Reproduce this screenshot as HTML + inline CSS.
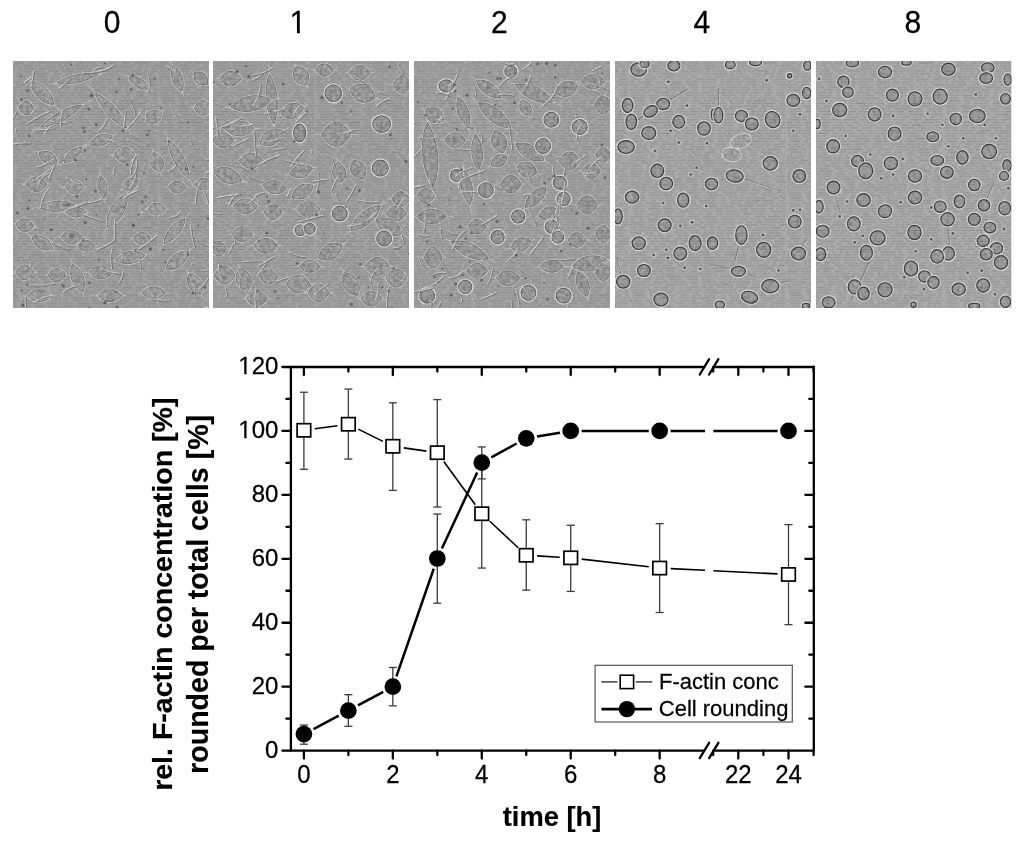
<!DOCTYPE html><html><head><meta charset="utf-8"><style>html,body{margin:0;padding:0;background:#fff;width:1024px;height:842px;overflow:hidden}svg{display:block}text{font-family:"Liberation Sans",Arial,sans-serif;stroke:#000;stroke-width:0.25px}text[font-weight="bold"]{stroke-width:0.15px}</style></head><body>
<svg width="1024" height="842" viewBox="0 0 1024 842">
<defs>
<pattern id="scan" width="157" height="97.2" patternUnits="userSpaceOnUse"><rect x="3.7" y="0.4" width="12.6" height="1.1" fill="#000" fill-opacity="0.16"/><rect x="21.2" y="0.4" width="12.6" height="1.1" fill="#000" fill-opacity="0.16"/><rect x="34.9" y="0.4" width="9.1" height="1.1" fill="#000" fill-opacity="0.17"/><rect x="47.5" y="0.4" width="14.7" height="1.1" fill="#000" fill-opacity="0.11"/><rect x="65.1" y="0.4" width="6.2" height="1.1" fill="#000" fill-opacity="0.14"/><rect x="74.6" y="0.4" width="3.2" height="1.1" fill="#000" fill-opacity="0.12"/><rect x="79.9" y="0.4" width="14.9" height="1.1" fill="#000" fill-opacity="0.15"/><rect x="96.5" y="0.4" width="13.4" height="1.1" fill="#000" fill-opacity="0.11"/><rect x="113.3" y="0.4" width="4.6" height="1.1" fill="#000" fill-opacity="0.10"/><rect x="122.4" y="0.4" width="5.7" height="1.1" fill="#000" fill-opacity="0.12"/><rect x="133.1" y="0.4" width="14.3" height="1.1" fill="#000" fill-opacity="0.12"/><rect x="152.3" y="0.4" width="4.7" height="1.1" fill="#000" fill-opacity="0.15"/><rect x="5.6" y="3.1" width="12.0" height="1.1" fill="#000" fill-opacity="0.17"/><rect x="22.2" y="3.1" width="6.9" height="1.1" fill="#000" fill-opacity="0.13"/><rect x="30.7" y="3.1" width="4.9" height="1.1" fill="#000" fill-opacity="0.10"/><rect x="37.8" y="3.1" width="10.8" height="1.1" fill="#000" fill-opacity="0.10"/><rect x="52.4" y="3.1" width="7.4" height="1.1" fill="#000" fill-opacity="0.12"/><rect x="64.1" y="3.1" width="9.2" height="1.1" fill="#000" fill-opacity="0.12"/><rect x="76.2" y="3.1" width="12.2" height="1.1" fill="#000" fill-opacity="0.10"/><rect x="93.3" y="3.1" width="3.3" height="1.1" fill="#000" fill-opacity="0.15"/><rect x="101.0" y="3.1" width="3.2" height="1.1" fill="#000" fill-opacity="0.16"/><rect x="106.7" y="3.1" width="10.5" height="1.1" fill="#000" fill-opacity="0.10"/><rect x="118.4" y="3.1" width="5.4" height="1.1" fill="#000" fill-opacity="0.17"/><rect x="125.5" y="3.1" width="12.8" height="1.1" fill="#000" fill-opacity="0.17"/><rect x="143.1" y="3.1" width="7.5" height="1.1" fill="#000" fill-opacity="0.12"/><rect x="153.7" y="3.1" width="3.3" height="1.1" fill="#000" fill-opacity="0.11"/><rect x="4.8" y="5.8" width="14.2" height="1.1" fill="#000" fill-opacity="0.10"/><rect x="23.7" y="5.8" width="4.2" height="1.1" fill="#000" fill-opacity="0.12"/><rect x="31.4" y="5.8" width="14.9" height="1.1" fill="#000" fill-opacity="0.12"/><rect x="51.0" y="5.8" width="10.1" height="1.1" fill="#000" fill-opacity="0.12"/><rect x="63.4" y="5.8" width="5.3" height="1.1" fill="#000" fill-opacity="0.11"/><rect x="70.3" y="5.8" width="12.0" height="1.1" fill="#000" fill-opacity="0.17"/><rect x="83.9" y="5.8" width="3.6" height="1.1" fill="#000" fill-opacity="0.17"/><rect x="90.6" y="5.8" width="8.3" height="1.1" fill="#000" fill-opacity="0.12"/><rect x="102.3" y="5.8" width="13.7" height="1.1" fill="#000" fill-opacity="0.13"/><rect x="118.7" y="5.8" width="3.7" height="1.1" fill="#000" fill-opacity="0.16"/><rect x="123.6" y="5.8" width="9.4" height="1.1" fill="#000" fill-opacity="0.16"/><rect x="134.5" y="5.8" width="12.5" height="1.1" fill="#000" fill-opacity="0.17"/><rect x="150.5" y="5.8" width="6.5" height="1.1" fill="#000" fill-opacity="0.11"/><rect x="0.9" y="8.5" width="14.0" height="1.1" fill="#000" fill-opacity="0.12"/><rect x="17.7" y="8.5" width="16.0" height="1.1" fill="#000" fill-opacity="0.16"/><rect x="38.6" y="8.5" width="8.9" height="1.1" fill="#000" fill-opacity="0.13"/><rect x="51.4" y="8.5" width="9.2" height="1.1" fill="#000" fill-opacity="0.12"/><rect x="63.2" y="8.5" width="4.9" height="1.1" fill="#000" fill-opacity="0.13"/><rect x="73.1" y="8.5" width="15.5" height="1.1" fill="#000" fill-opacity="0.14"/><rect x="91.6" y="8.5" width="7.4" height="1.1" fill="#000" fill-opacity="0.11"/><rect x="101.1" y="8.5" width="13.2" height="1.1" fill="#000" fill-opacity="0.16"/><rect x="116.7" y="8.5" width="13.2" height="1.1" fill="#000" fill-opacity="0.15"/><rect x="133.7" y="8.5" width="11.6" height="1.1" fill="#000" fill-opacity="0.15"/><rect x="147.8" y="8.5" width="9.2" height="1.1" fill="#000" fill-opacity="0.12"/><rect x="4.6" y="11.2" width="12.0" height="1.1" fill="#000" fill-opacity="0.12"/><rect x="21.4" y="11.2" width="11.4" height="1.1" fill="#000" fill-opacity="0.14"/><rect x="33.9" y="11.2" width="10.1" height="1.1" fill="#000" fill-opacity="0.12"/><rect x="47.7" y="11.2" width="9.0" height="1.1" fill="#000" fill-opacity="0.16"/><rect x="60.3" y="11.2" width="13.4" height="1.1" fill="#000" fill-opacity="0.12"/><rect x="77.2" y="11.2" width="12.6" height="1.1" fill="#000" fill-opacity="0.16"/><rect x="92.2" y="11.2" width="14.0" height="1.1" fill="#000" fill-opacity="0.16"/><rect x="109.9" y="11.2" width="15.7" height="1.1" fill="#000" fill-opacity="0.17"/><rect x="128.7" y="11.2" width="9.9" height="1.1" fill="#000" fill-opacity="0.11"/><rect x="142.9" y="11.2" width="14.1" height="1.1" fill="#000" fill-opacity="0.13"/><rect x="4.3" y="13.9" width="12.5" height="1.1" fill="#000" fill-opacity="0.11"/><rect x="20.9" y="13.9" width="10.6" height="1.1" fill="#000" fill-opacity="0.15"/><rect x="34.2" y="13.9" width="11.1" height="1.1" fill="#000" fill-opacity="0.15"/><rect x="48.8" y="13.9" width="12.4" height="1.1" fill="#000" fill-opacity="0.10"/><rect x="62.8" y="13.9" width="8.7" height="1.1" fill="#000" fill-opacity="0.15"/><rect x="73.4" y="13.9" width="11.9" height="1.1" fill="#000" fill-opacity="0.14"/><rect x="86.5" y="13.9" width="9.1" height="1.1" fill="#000" fill-opacity="0.12"/><rect x="96.9" y="13.9" width="4.7" height="1.1" fill="#000" fill-opacity="0.12"/><rect x="103.3" y="13.9" width="5.5" height="1.1" fill="#000" fill-opacity="0.10"/><rect x="111.7" y="13.9" width="7.9" height="1.1" fill="#000" fill-opacity="0.14"/><rect x="123.0" y="13.9" width="6.1" height="1.1" fill="#000" fill-opacity="0.16"/><rect x="130.1" y="13.9" width="8.3" height="1.1" fill="#000" fill-opacity="0.12"/><rect x="141.0" y="13.9" width="4.5" height="1.1" fill="#000" fill-opacity="0.16"/><rect x="148.0" y="13.9" width="3.5" height="1.1" fill="#000" fill-opacity="0.14"/><rect x="152.9" y="13.9" width="4.1" height="1.1" fill="#000" fill-opacity="0.12"/><rect x="5.7" y="16.6" width="13.6" height="1.1" fill="#000" fill-opacity="0.13"/><rect x="23.6" y="16.6" width="11.3" height="1.1" fill="#000" fill-opacity="0.13"/><rect x="36.6" y="16.6" width="10.7" height="1.1" fill="#000" fill-opacity="0.14"/><rect x="52.1" y="16.6" width="15.6" height="1.1" fill="#000" fill-opacity="0.14"/><rect x="70.1" y="16.6" width="14.6" height="1.1" fill="#000" fill-opacity="0.10"/><rect x="86.2" y="16.6" width="10.4" height="1.1" fill="#000" fill-opacity="0.14"/><rect x="98.1" y="16.6" width="11.2" height="1.1" fill="#000" fill-opacity="0.16"/><rect x="111.8" y="16.6" width="8.6" height="1.1" fill="#000" fill-opacity="0.12"/><rect x="122.6" y="16.6" width="15.6" height="1.1" fill="#000" fill-opacity="0.13"/><rect x="143.0" y="16.6" width="14.0" height="1.1" fill="#000" fill-opacity="0.14"/><rect x="5.9" y="19.3" width="9.5" height="1.1" fill="#000" fill-opacity="0.13"/><rect x="17.6" y="19.3" width="15.8" height="1.1" fill="#000" fill-opacity="0.13"/><rect x="35.6" y="19.3" width="9.2" height="1.1" fill="#000" fill-opacity="0.11"/><rect x="48.2" y="19.3" width="8.8" height="1.1" fill="#000" fill-opacity="0.12"/><rect x="61.1" y="19.3" width="13.7" height="1.1" fill="#000" fill-opacity="0.10"/><rect x="78.0" y="19.3" width="6.6" height="1.1" fill="#000" fill-opacity="0.17"/><rect x="88.7" y="19.3" width="6.2" height="1.1" fill="#000" fill-opacity="0.12"/><rect x="96.5" y="19.3" width="15.9" height="1.1" fill="#000" fill-opacity="0.12"/><rect x="115.8" y="19.3" width="9.2" height="1.1" fill="#000" fill-opacity="0.15"/><rect x="128.4" y="19.3" width="12.7" height="1.1" fill="#000" fill-opacity="0.11"/><rect x="145.1" y="19.3" width="6.9" height="1.1" fill="#000" fill-opacity="0.14"/><rect x="154.3" y="19.3" width="2.7" height="1.1" fill="#000" fill-opacity="0.14"/><rect x="2.2" y="22.0" width="12.7" height="1.1" fill="#000" fill-opacity="0.14"/><rect x="16.0" y="22.0" width="6.3" height="1.1" fill="#000" fill-opacity="0.13"/><rect x="26.9" y="22.0" width="14.5" height="1.1" fill="#000" fill-opacity="0.14"/><rect x="42.5" y="22.0" width="13.1" height="1.1" fill="#000" fill-opacity="0.13"/><rect x="59.0" y="22.0" width="12.2" height="1.1" fill="#000" fill-opacity="0.14"/><rect x="74.1" y="22.0" width="14.9" height="1.1" fill="#000" fill-opacity="0.13"/><rect x="91.5" y="22.0" width="14.1" height="1.1" fill="#000" fill-opacity="0.11"/><rect x="107.8" y="22.0" width="13.8" height="1.1" fill="#000" fill-opacity="0.10"/><rect x="125.9" y="22.0" width="12.0" height="1.1" fill="#000" fill-opacity="0.13"/><rect x="140.1" y="22.0" width="13.1" height="1.1" fill="#000" fill-opacity="0.16"/><rect x="154.8" y="22.0" width="2.2" height="1.1" fill="#000" fill-opacity="0.14"/><rect x="2.0" y="24.7" width="5.0" height="1.1" fill="#000" fill-opacity="0.14"/><rect x="11.2" y="24.7" width="3.9" height="1.1" fill="#000" fill-opacity="0.12"/><rect x="19.4" y="24.7" width="13.3" height="1.1" fill="#000" fill-opacity="0.15"/><rect x="33.8" y="24.7" width="12.4" height="1.1" fill="#000" fill-opacity="0.17"/><rect x="51.2" y="24.7" width="12.1" height="1.1" fill="#000" fill-opacity="0.10"/><rect x="67.7" y="24.7" width="5.9" height="1.1" fill="#000" fill-opacity="0.15"/><rect x="78.3" y="24.7" width="12.3" height="1.1" fill="#000" fill-opacity="0.11"/><rect x="92.8" y="24.7" width="14.9" height="1.1" fill="#000" fill-opacity="0.11"/><rect x="111.1" y="24.7" width="8.4" height="1.1" fill="#000" fill-opacity="0.11"/><rect x="123.0" y="24.7" width="3.6" height="1.1" fill="#000" fill-opacity="0.11"/><rect x="129.1" y="24.7" width="3.9" height="1.1" fill="#000" fill-opacity="0.10"/><rect x="136.3" y="24.7" width="12.7" height="1.1" fill="#000" fill-opacity="0.16"/><rect x="150.5" y="24.7" width="6.5" height="1.1" fill="#000" fill-opacity="0.12"/><rect x="2.9" y="27.4" width="15.2" height="1.1" fill="#000" fill-opacity="0.13"/><rect x="19.4" y="27.4" width="12.1" height="1.1" fill="#000" fill-opacity="0.11"/><rect x="35.0" y="27.4" width="9.6" height="1.1" fill="#000" fill-opacity="0.16"/><rect x="47.7" y="27.4" width="11.1" height="1.1" fill="#000" fill-opacity="0.12"/><rect x="62.0" y="27.4" width="6.3" height="1.1" fill="#000" fill-opacity="0.15"/><rect x="71.4" y="27.4" width="4.7" height="1.1" fill="#000" fill-opacity="0.12"/><rect x="78.6" y="27.4" width="12.6" height="1.1" fill="#000" fill-opacity="0.11"/><rect x="95.1" y="27.4" width="11.5" height="1.1" fill="#000" fill-opacity="0.11"/><rect x="110.2" y="27.4" width="4.2" height="1.1" fill="#000" fill-opacity="0.11"/><rect x="117.8" y="27.4" width="6.1" height="1.1" fill="#000" fill-opacity="0.16"/><rect x="126.8" y="27.4" width="7.2" height="1.1" fill="#000" fill-opacity="0.16"/><rect x="135.1" y="27.4" width="12.4" height="1.1" fill="#000" fill-opacity="0.10"/><rect x="149.2" y="27.4" width="7.8" height="1.1" fill="#000" fill-opacity="0.15"/><rect x="0.7" y="30.1" width="15.6" height="1.1" fill="#000" fill-opacity="0.15"/><rect x="20.6" y="30.1" width="4.8" height="1.1" fill="#000" fill-opacity="0.14"/><rect x="27.9" y="30.1" width="6.1" height="1.1" fill="#000" fill-opacity="0.12"/><rect x="37.4" y="30.1" width="7.5" height="1.1" fill="#000" fill-opacity="0.13"/><rect x="46.4" y="30.1" width="13.8" height="1.1" fill="#000" fill-opacity="0.15"/><rect x="64.5" y="30.1" width="8.6" height="1.1" fill="#000" fill-opacity="0.16"/><rect x="76.2" y="30.1" width="10.7" height="1.1" fill="#000" fill-opacity="0.14"/><rect x="90.8" y="30.1" width="8.1" height="1.1" fill="#000" fill-opacity="0.11"/><rect x="100.1" y="30.1" width="5.6" height="1.1" fill="#000" fill-opacity="0.10"/><rect x="110.3" y="30.1" width="9.3" height="1.1" fill="#000" fill-opacity="0.15"/><rect x="120.6" y="30.1" width="9.1" height="1.1" fill="#000" fill-opacity="0.16"/><rect x="133.1" y="30.1" width="8.6" height="1.1" fill="#000" fill-opacity="0.13"/><rect x="143.1" y="30.1" width="5.0" height="1.1" fill="#000" fill-opacity="0.11"/><rect x="150.6" y="30.1" width="6.4" height="1.1" fill="#000" fill-opacity="0.16"/><rect x="1.5" y="32.8" width="6.6" height="1.1" fill="#000" fill-opacity="0.11"/><rect x="10.3" y="32.8" width="6.1" height="1.1" fill="#000" fill-opacity="0.13"/><rect x="17.5" y="32.8" width="15.0" height="1.1" fill="#000" fill-opacity="0.13"/><rect x="37.2" y="32.8" width="11.9" height="1.1" fill="#000" fill-opacity="0.15"/><rect x="52.1" y="32.8" width="15.3" height="1.1" fill="#000" fill-opacity="0.11"/><rect x="71.0" y="32.8" width="6.8" height="1.1" fill="#000" fill-opacity="0.15"/><rect x="81.7" y="32.8" width="5.1" height="1.1" fill="#000" fill-opacity="0.11"/><rect x="88.0" y="32.8" width="6.0" height="1.1" fill="#000" fill-opacity="0.11"/><rect x="96.6" y="32.8" width="15.7" height="1.1" fill="#000" fill-opacity="0.13"/><rect x="114.5" y="32.8" width="9.1" height="1.1" fill="#000" fill-opacity="0.12"/><rect x="127.5" y="32.8" width="12.3" height="1.1" fill="#000" fill-opacity="0.11"/><rect x="141.8" y="32.8" width="11.7" height="1.1" fill="#000" fill-opacity="0.17"/><rect x="2.6" y="35.5" width="15.7" height="1.1" fill="#000" fill-opacity="0.10"/><rect x="19.5" y="35.5" width="13.1" height="1.1" fill="#000" fill-opacity="0.13"/><rect x="33.8" y="35.5" width="10.1" height="1.1" fill="#000" fill-opacity="0.17"/><rect x="47.0" y="35.5" width="7.6" height="1.1" fill="#000" fill-opacity="0.11"/><rect x="55.9" y="35.5" width="14.7" height="1.1" fill="#000" fill-opacity="0.13"/><rect x="75.3" y="35.5" width="3.7" height="1.1" fill="#000" fill-opacity="0.12"/><rect x="80.2" y="35.5" width="8.2" height="1.1" fill="#000" fill-opacity="0.10"/><rect x="90.4" y="35.5" width="8.3" height="1.1" fill="#000" fill-opacity="0.12"/><rect x="99.9" y="35.5" width="3.5" height="1.1" fill="#000" fill-opacity="0.17"/><rect x="105.1" y="35.5" width="9.6" height="1.1" fill="#000" fill-opacity="0.13"/><rect x="117.8" y="35.5" width="4.1" height="1.1" fill="#000" fill-opacity="0.12"/><rect x="123.3" y="35.5" width="10.0" height="1.1" fill="#000" fill-opacity="0.16"/><rect x="136.8" y="35.5" width="14.1" height="1.1" fill="#000" fill-opacity="0.12"/><rect x="152.0" y="35.5" width="5.0" height="1.1" fill="#000" fill-opacity="0.13"/><rect x="2.3" y="38.2" width="11.1" height="1.1" fill="#000" fill-opacity="0.15"/><rect x="18.0" y="38.2" width="7.0" height="1.1" fill="#000" fill-opacity="0.13"/><rect x="29.3" y="38.2" width="5.9" height="1.1" fill="#000" fill-opacity="0.11"/><rect x="37.5" y="38.2" width="4.1" height="1.1" fill="#000" fill-opacity="0.15"/><rect x="45.9" y="38.2" width="7.1" height="1.1" fill="#000" fill-opacity="0.11"/><rect x="54.3" y="38.2" width="6.2" height="1.1" fill="#000" fill-opacity="0.11"/><rect x="63.2" y="38.2" width="10.5" height="1.1" fill="#000" fill-opacity="0.12"/><rect x="75.0" y="38.2" width="12.1" height="1.1" fill="#000" fill-opacity="0.10"/><rect x="88.9" y="38.2" width="6.7" height="1.1" fill="#000" fill-opacity="0.13"/><rect x="97.0" y="38.2" width="8.5" height="1.1" fill="#000" fill-opacity="0.12"/><rect x="109.5" y="38.2" width="10.2" height="1.1" fill="#000" fill-opacity="0.16"/><rect x="123.3" y="38.2" width="12.9" height="1.1" fill="#000" fill-opacity="0.14"/><rect x="138.9" y="38.2" width="13.6" height="1.1" fill="#000" fill-opacity="0.15"/><rect x="4.4" y="40.9" width="12.1" height="1.1" fill="#000" fill-opacity="0.12"/><rect x="20.7" y="40.9" width="8.0" height="1.1" fill="#000" fill-opacity="0.11"/><rect x="30.0" y="40.9" width="5.2" height="1.1" fill="#000" fill-opacity="0.12"/><rect x="38.9" y="40.9" width="6.7" height="1.1" fill="#000" fill-opacity="0.10"/><rect x="49.6" y="40.9" width="10.2" height="1.1" fill="#000" fill-opacity="0.10"/><rect x="61.1" y="40.9" width="4.7" height="1.1" fill="#000" fill-opacity="0.13"/><rect x="70.2" y="40.9" width="15.3" height="1.1" fill="#000" fill-opacity="0.14"/><rect x="87.5" y="40.9" width="8.6" height="1.1" fill="#000" fill-opacity="0.13"/><rect x="98.4" y="40.9" width="3.2" height="1.1" fill="#000" fill-opacity="0.14"/><rect x="105.8" y="40.9" width="12.4" height="1.1" fill="#000" fill-opacity="0.11"/><rect x="121.4" y="40.9" width="5.2" height="1.1" fill="#000" fill-opacity="0.15"/><rect x="129.4" y="40.9" width="15.2" height="1.1" fill="#000" fill-opacity="0.16"/><rect x="146.1" y="40.9" width="7.1" height="1.1" fill="#000" fill-opacity="0.16"/><rect x="156.1" y="40.9" width="0.9" height="1.1" fill="#000" fill-opacity="0.13"/><rect x="5.6" y="43.6" width="9.9" height="1.1" fill="#000" fill-opacity="0.17"/><rect x="18.9" y="43.6" width="4.3" height="1.1" fill="#000" fill-opacity="0.16"/><rect x="25.9" y="43.6" width="3.7" height="1.1" fill="#000" fill-opacity="0.17"/><rect x="30.8" y="43.6" width="10.5" height="1.1" fill="#000" fill-opacity="0.13"/><rect x="45.8" y="43.6" width="8.1" height="1.1" fill="#000" fill-opacity="0.12"/><rect x="56.0" y="43.6" width="5.6" height="1.1" fill="#000" fill-opacity="0.14"/><rect x="64.0" y="43.6" width="12.8" height="1.1" fill="#000" fill-opacity="0.12"/><rect x="79.2" y="43.6" width="6.2" height="1.1" fill="#000" fill-opacity="0.17"/><rect x="89.8" y="43.6" width="14.0" height="1.1" fill="#000" fill-opacity="0.14"/><rect x="106.5" y="43.6" width="4.9" height="1.1" fill="#000" fill-opacity="0.16"/><rect x="114.3" y="43.6" width="3.5" height="1.1" fill="#000" fill-opacity="0.11"/><rect x="119.2" y="43.6" width="12.3" height="1.1" fill="#000" fill-opacity="0.16"/><rect x="133.3" y="43.6" width="13.4" height="1.1" fill="#000" fill-opacity="0.12"/><rect x="150.4" y="43.6" width="6.6" height="1.1" fill="#000" fill-opacity="0.14"/><rect x="2.3" y="46.3" width="3.1" height="1.1" fill="#000" fill-opacity="0.14"/><rect x="8.7" y="46.3" width="5.4" height="1.1" fill="#000" fill-opacity="0.13"/><rect x="16.4" y="46.3" width="3.4" height="1.1" fill="#000" fill-opacity="0.12"/><rect x="22.3" y="46.3" width="9.2" height="1.1" fill="#000" fill-opacity="0.15"/><rect x="34.1" y="46.3" width="15.8" height="1.1" fill="#000" fill-opacity="0.16"/><rect x="54.5" y="46.3" width="12.0" height="1.1" fill="#000" fill-opacity="0.15"/><rect x="69.7" y="46.3" width="13.4" height="1.1" fill="#000" fill-opacity="0.13"/><rect x="86.5" y="46.3" width="11.8" height="1.1" fill="#000" fill-opacity="0.14"/><rect x="100.4" y="46.3" width="4.0" height="1.1" fill="#000" fill-opacity="0.11"/><rect x="106.9" y="46.3" width="10.5" height="1.1" fill="#000" fill-opacity="0.15"/><rect x="121.3" y="46.3" width="7.0" height="1.1" fill="#000" fill-opacity="0.17"/><rect x="130.3" y="46.3" width="12.3" height="1.1" fill="#000" fill-opacity="0.11"/><rect x="146.7" y="46.3" width="10.3" height="1.1" fill="#000" fill-opacity="0.17"/><rect x="4.1" y="49.0" width="13.9" height="1.1" fill="#000" fill-opacity="0.15"/><rect x="21.5" y="49.0" width="5.7" height="1.1" fill="#000" fill-opacity="0.14"/><rect x="31.8" y="49.0" width="6.1" height="1.1" fill="#000" fill-opacity="0.17"/><rect x="41.0" y="49.0" width="8.1" height="1.1" fill="#000" fill-opacity="0.10"/><rect x="51.7" y="49.0" width="5.3" height="1.1" fill="#000" fill-opacity="0.15"/><rect x="61.6" y="49.0" width="14.8" height="1.1" fill="#000" fill-opacity="0.14"/><rect x="79.0" y="49.0" width="4.4" height="1.1" fill="#000" fill-opacity="0.15"/><rect x="86.6" y="49.0" width="12.3" height="1.1" fill="#000" fill-opacity="0.13"/><rect x="103.5" y="49.0" width="5.8" height="1.1" fill="#000" fill-opacity="0.12"/><rect x="111.3" y="49.0" width="11.1" height="1.1" fill="#000" fill-opacity="0.16"/><rect x="124.1" y="49.0" width="11.2" height="1.1" fill="#000" fill-opacity="0.15"/><rect x="137.2" y="49.0" width="3.8" height="1.1" fill="#000" fill-opacity="0.14"/><rect x="145.3" y="49.0" width="11.7" height="1.1" fill="#000" fill-opacity="0.15"/><rect x="2.6" y="51.7" width="9.9" height="1.1" fill="#000" fill-opacity="0.16"/><rect x="14.6" y="51.7" width="6.6" height="1.1" fill="#000" fill-opacity="0.14"/><rect x="26.2" y="51.7" width="5.4" height="1.1" fill="#000" fill-opacity="0.10"/><rect x="33.0" y="51.7" width="10.3" height="1.1" fill="#000" fill-opacity="0.14"/><rect x="45.1" y="51.7" width="5.5" height="1.1" fill="#000" fill-opacity="0.14"/><rect x="54.2" y="51.7" width="12.0" height="1.1" fill="#000" fill-opacity="0.15"/><rect x="67.4" y="51.7" width="9.3" height="1.1" fill="#000" fill-opacity="0.16"/><rect x="81.5" y="51.7" width="7.1" height="1.1" fill="#000" fill-opacity="0.16"/><rect x="92.2" y="51.7" width="15.0" height="1.1" fill="#000" fill-opacity="0.12"/><rect x="111.1" y="51.7" width="13.9" height="1.1" fill="#000" fill-opacity="0.13"/><rect x="126.4" y="51.7" width="5.5" height="1.1" fill="#000" fill-opacity="0.11"/><rect x="133.3" y="51.7" width="5.0" height="1.1" fill="#000" fill-opacity="0.14"/><rect x="139.7" y="51.7" width="12.9" height="1.1" fill="#000" fill-opacity="0.15"/><rect x="156.8" y="51.7" width="0.2" height="1.1" fill="#000" fill-opacity="0.15"/><rect x="5.7" y="54.4" width="11.1" height="1.1" fill="#000" fill-opacity="0.17"/><rect x="18.3" y="54.4" width="4.3" height="1.1" fill="#000" fill-opacity="0.10"/><rect x="24.4" y="54.4" width="7.9" height="1.1" fill="#000" fill-opacity="0.13"/><rect x="36.0" y="54.4" width="12.7" height="1.1" fill="#000" fill-opacity="0.11"/><rect x="51.3" y="54.4" width="10.1" height="1.1" fill="#000" fill-opacity="0.13"/><rect x="62.8" y="54.4" width="10.8" height="1.1" fill="#000" fill-opacity="0.13"/><rect x="77.3" y="54.4" width="9.4" height="1.1" fill="#000" fill-opacity="0.17"/><rect x="91.6" y="54.4" width="3.9" height="1.1" fill="#000" fill-opacity="0.15"/><rect x="99.4" y="54.4" width="6.8" height="1.1" fill="#000" fill-opacity="0.11"/><rect x="109.1" y="54.4" width="7.6" height="1.1" fill="#000" fill-opacity="0.15"/><rect x="121.4" y="54.4" width="8.0" height="1.1" fill="#000" fill-opacity="0.12"/><rect x="132.4" y="54.4" width="12.1" height="1.1" fill="#000" fill-opacity="0.16"/><rect x="147.7" y="54.4" width="6.8" height="1.1" fill="#000" fill-opacity="0.12"/><rect x="3.1" y="57.1" width="3.7" height="1.1" fill="#000" fill-opacity="0.13"/><rect x="8.7" y="57.1" width="11.7" height="1.1" fill="#000" fill-opacity="0.11"/><rect x="22.5" y="57.1" width="4.2" height="1.1" fill="#000" fill-opacity="0.13"/><rect x="31.7" y="57.1" width="10.0" height="1.1" fill="#000" fill-opacity="0.13"/><rect x="46.4" y="57.1" width="4.2" height="1.1" fill="#000" fill-opacity="0.12"/><rect x="54.9" y="57.1" width="3.1" height="1.1" fill="#000" fill-opacity="0.15"/><rect x="60.4" y="57.1" width="3.2" height="1.1" fill="#000" fill-opacity="0.12"/><rect x="66.4" y="57.1" width="8.0" height="1.1" fill="#000" fill-opacity="0.14"/><rect x="75.6" y="57.1" width="5.8" height="1.1" fill="#000" fill-opacity="0.17"/><rect x="84.2" y="57.1" width="9.1" height="1.1" fill="#000" fill-opacity="0.11"/><rect x="95.5" y="57.1" width="15.4" height="1.1" fill="#000" fill-opacity="0.15"/><rect x="113.9" y="57.1" width="3.7" height="1.1" fill="#000" fill-opacity="0.13"/><rect x="121.7" y="57.1" width="8.7" height="1.1" fill="#000" fill-opacity="0.14"/><rect x="135.0" y="57.1" width="11.4" height="1.1" fill="#000" fill-opacity="0.14"/><rect x="147.5" y="57.1" width="3.3" height="1.1" fill="#000" fill-opacity="0.15"/><rect x="153.5" y="57.1" width="3.5" height="1.1" fill="#000" fill-opacity="0.16"/><rect x="2.3" y="59.8" width="16.0" height="1.1" fill="#000" fill-opacity="0.15"/><rect x="22.8" y="59.8" width="4.9" height="1.1" fill="#000" fill-opacity="0.15"/><rect x="30.4" y="59.8" width="15.6" height="1.1" fill="#000" fill-opacity="0.17"/><rect x="47.9" y="59.8" width="8.5" height="1.1" fill="#000" fill-opacity="0.12"/><rect x="59.3" y="59.8" width="6.7" height="1.1" fill="#000" fill-opacity="0.15"/><rect x="67.5" y="59.8" width="5.2" height="1.1" fill="#000" fill-opacity="0.13"/><rect x="74.0" y="59.8" width="8.0" height="1.1" fill="#000" fill-opacity="0.16"/><rect x="86.5" y="59.8" width="5.6" height="1.1" fill="#000" fill-opacity="0.10"/><rect x="96.4" y="59.8" width="15.5" height="1.1" fill="#000" fill-opacity="0.14"/><rect x="113.4" y="59.8" width="6.1" height="1.1" fill="#000" fill-opacity="0.16"/><rect x="124.2" y="59.8" width="3.4" height="1.1" fill="#000" fill-opacity="0.11"/><rect x="130.4" y="59.8" width="6.5" height="1.1" fill="#000" fill-opacity="0.15"/><rect x="139.3" y="59.8" width="13.1" height="1.1" fill="#000" fill-opacity="0.11"/><rect x="155.5" y="59.8" width="1.5" height="1.1" fill="#000" fill-opacity="0.15"/><rect x="0.7" y="62.5" width="11.4" height="1.1" fill="#000" fill-opacity="0.13"/><rect x="14.5" y="62.5" width="9.2" height="1.1" fill="#000" fill-opacity="0.14"/><rect x="28.6" y="62.5" width="6.1" height="1.1" fill="#000" fill-opacity="0.14"/><rect x="36.8" y="62.5" width="10.1" height="1.1" fill="#000" fill-opacity="0.15"/><rect x="48.4" y="62.5" width="9.3" height="1.1" fill="#000" fill-opacity="0.15"/><rect x="58.7" y="62.5" width="13.0" height="1.1" fill="#000" fill-opacity="0.13"/><rect x="74.7" y="62.5" width="10.9" height="1.1" fill="#000" fill-opacity="0.16"/><rect x="86.9" y="62.5" width="9.5" height="1.1" fill="#000" fill-opacity="0.10"/><rect x="98.9" y="62.5" width="7.5" height="1.1" fill="#000" fill-opacity="0.10"/><rect x="108.6" y="62.5" width="8.9" height="1.1" fill="#000" fill-opacity="0.15"/><rect x="122.2" y="62.5" width="7.8" height="1.1" fill="#000" fill-opacity="0.14"/><rect x="133.8" y="62.5" width="15.2" height="1.1" fill="#000" fill-opacity="0.17"/><rect x="154.0" y="62.5" width="3.0" height="1.1" fill="#000" fill-opacity="0.11"/><rect x="0.5" y="65.2" width="8.8" height="1.1" fill="#000" fill-opacity="0.15"/><rect x="12.4" y="65.2" width="8.1" height="1.1" fill="#000" fill-opacity="0.16"/><rect x="22.7" y="65.2" width="10.2" height="1.1" fill="#000" fill-opacity="0.16"/><rect x="34.4" y="65.2" width="7.6" height="1.1" fill="#000" fill-opacity="0.13"/><rect x="45.2" y="65.2" width="5.7" height="1.1" fill="#000" fill-opacity="0.13"/><rect x="52.1" y="65.2" width="4.1" height="1.1" fill="#000" fill-opacity="0.12"/><rect x="57.9" y="65.2" width="15.6" height="1.1" fill="#000" fill-opacity="0.12"/><rect x="75.5" y="65.2" width="13.2" height="1.1" fill="#000" fill-opacity="0.15"/><rect x="90.8" y="65.2" width="13.8" height="1.1" fill="#000" fill-opacity="0.14"/><rect x="107.1" y="65.2" width="11.2" height="1.1" fill="#000" fill-opacity="0.12"/><rect x="120.3" y="65.2" width="14.4" height="1.1" fill="#000" fill-opacity="0.13"/><rect x="139.3" y="65.2" width="5.3" height="1.1" fill="#000" fill-opacity="0.11"/><rect x="145.8" y="65.2" width="11.2" height="1.1" fill="#000" fill-opacity="0.14"/><rect x="0.3" y="67.9" width="13.7" height="1.1" fill="#000" fill-opacity="0.13"/><rect x="18.5" y="67.9" width="3.5" height="1.1" fill="#000" fill-opacity="0.14"/><rect x="23.4" y="67.9" width="12.4" height="1.1" fill="#000" fill-opacity="0.14"/><rect x="39.3" y="67.9" width="5.9" height="1.1" fill="#000" fill-opacity="0.17"/><rect x="46.6" y="67.9" width="3.8" height="1.1" fill="#000" fill-opacity="0.15"/><rect x="51.8" y="67.9" width="3.9" height="1.1" fill="#000" fill-opacity="0.13"/><rect x="59.3" y="67.9" width="14.6" height="1.1" fill="#000" fill-opacity="0.15"/><rect x="75.1" y="67.9" width="11.4" height="1.1" fill="#000" fill-opacity="0.16"/><rect x="88.0" y="67.9" width="12.8" height="1.1" fill="#000" fill-opacity="0.12"/><rect x="103.0" y="67.9" width="3.0" height="1.1" fill="#000" fill-opacity="0.15"/><rect x="109.1" y="67.9" width="14.7" height="1.1" fill="#000" fill-opacity="0.13"/><rect x="125.4" y="67.9" width="5.8" height="1.1" fill="#000" fill-opacity="0.12"/><rect x="136.0" y="67.9" width="5.7" height="1.1" fill="#000" fill-opacity="0.11"/><rect x="144.1" y="67.9" width="4.0" height="1.1" fill="#000" fill-opacity="0.13"/><rect x="151.6" y="67.9" width="5.4" height="1.1" fill="#000" fill-opacity="0.11"/><rect x="2.9" y="70.6" width="11.9" height="1.1" fill="#000" fill-opacity="0.13"/><rect x="18.2" y="70.6" width="14.9" height="1.1" fill="#000" fill-opacity="0.11"/><rect x="35.1" y="70.6" width="9.4" height="1.1" fill="#000" fill-opacity="0.14"/><rect x="49.1" y="70.6" width="10.2" height="1.1" fill="#000" fill-opacity="0.15"/><rect x="62.0" y="70.6" width="13.2" height="1.1" fill="#000" fill-opacity="0.16"/><rect x="77.4" y="70.6" width="4.4" height="1.1" fill="#000" fill-opacity="0.12"/><rect x="84.2" y="70.6" width="14.6" height="1.1" fill="#000" fill-opacity="0.12"/><rect x="102.3" y="70.6" width="11.3" height="1.1" fill="#000" fill-opacity="0.17"/><rect x="115.1" y="70.6" width="13.0" height="1.1" fill="#000" fill-opacity="0.12"/><rect x="129.5" y="70.6" width="11.2" height="1.1" fill="#000" fill-opacity="0.16"/><rect x="144.1" y="70.6" width="3.6" height="1.1" fill="#000" fill-opacity="0.17"/><rect x="150.3" y="70.6" width="6.7" height="1.1" fill="#000" fill-opacity="0.15"/><rect x="2.5" y="73.3" width="7.3" height="1.1" fill="#000" fill-opacity="0.11"/><rect x="11.0" y="73.3" width="12.3" height="1.1" fill="#000" fill-opacity="0.13"/><rect x="27.8" y="73.3" width="3.8" height="1.1" fill="#000" fill-opacity="0.12"/><rect x="33.3" y="73.3" width="15.3" height="1.1" fill="#000" fill-opacity="0.16"/><rect x="53.2" y="73.3" width="9.6" height="1.1" fill="#000" fill-opacity="0.11"/><rect x="65.4" y="73.3" width="5.9" height="1.1" fill="#000" fill-opacity="0.10"/><rect x="74.6" y="73.3" width="6.8" height="1.1" fill="#000" fill-opacity="0.11"/><rect x="84.4" y="73.3" width="15.1" height="1.1" fill="#000" fill-opacity="0.17"/><rect x="102.4" y="73.3" width="4.3" height="1.1" fill="#000" fill-opacity="0.15"/><rect x="108.2" y="73.3" width="10.0" height="1.1" fill="#000" fill-opacity="0.11"/><rect x="123.2" y="73.3" width="10.1" height="1.1" fill="#000" fill-opacity="0.13"/><rect x="135.3" y="73.3" width="10.2" height="1.1" fill="#000" fill-opacity="0.17"/><rect x="148.2" y="73.3" width="5.7" height="1.1" fill="#000" fill-opacity="0.14"/><rect x="2.3" y="76.0" width="11.2" height="1.1" fill="#000" fill-opacity="0.16"/><rect x="15.8" y="76.0" width="13.5" height="1.1" fill="#000" fill-opacity="0.14"/><rect x="30.9" y="76.0" width="3.7" height="1.1" fill="#000" fill-opacity="0.17"/><rect x="37.5" y="76.0" width="8.8" height="1.1" fill="#000" fill-opacity="0.16"/><rect x="49.6" y="76.0" width="9.5" height="1.1" fill="#000" fill-opacity="0.12"/><rect x="63.0" y="76.0" width="6.3" height="1.1" fill="#000" fill-opacity="0.13"/><rect x="73.4" y="76.0" width="10.9" height="1.1" fill="#000" fill-opacity="0.11"/><rect x="86.1" y="76.0" width="12.0" height="1.1" fill="#000" fill-opacity="0.15"/><rect x="99.5" y="76.0" width="16.0" height="1.1" fill="#000" fill-opacity="0.11"/><rect x="117.2" y="76.0" width="4.2" height="1.1" fill="#000" fill-opacity="0.13"/><rect x="124.8" y="76.0" width="14.1" height="1.1" fill="#000" fill-opacity="0.11"/><rect x="142.7" y="76.0" width="4.4" height="1.1" fill="#000" fill-opacity="0.14"/><rect x="149.1" y="76.0" width="7.6" height="1.1" fill="#000" fill-opacity="0.10"/><rect x="0.7" y="78.7" width="12.9" height="1.1" fill="#000" fill-opacity="0.12"/><rect x="17.0" y="78.7" width="11.3" height="1.1" fill="#000" fill-opacity="0.13"/><rect x="32.8" y="78.7" width="15.0" height="1.1" fill="#000" fill-opacity="0.12"/><rect x="50.1" y="78.7" width="14.4" height="1.1" fill="#000" fill-opacity="0.11"/><rect x="67.2" y="78.7" width="8.4" height="1.1" fill="#000" fill-opacity="0.17"/><rect x="77.1" y="78.7" width="11.5" height="1.1" fill="#000" fill-opacity="0.15"/><rect x="92.5" y="78.7" width="3.0" height="1.1" fill="#000" fill-opacity="0.17"/><rect x="97.8" y="78.7" width="14.1" height="1.1" fill="#000" fill-opacity="0.15"/><rect x="114.6" y="78.7" width="13.9" height="1.1" fill="#000" fill-opacity="0.15"/><rect x="130.8" y="78.7" width="12.5" height="1.1" fill="#000" fill-opacity="0.14"/><rect x="147.2" y="78.7" width="9.8" height="1.1" fill="#000" fill-opacity="0.16"/><rect x="3.0" y="81.4" width="3.0" height="1.1" fill="#000" fill-opacity="0.16"/><rect x="10.1" y="81.4" width="13.9" height="1.1" fill="#000" fill-opacity="0.10"/><rect x="27.1" y="81.4" width="9.2" height="1.1" fill="#000" fill-opacity="0.11"/><rect x="38.1" y="81.4" width="15.7" height="1.1" fill="#000" fill-opacity="0.16"/><rect x="55.7" y="81.4" width="13.8" height="1.1" fill="#000" fill-opacity="0.15"/><rect x="72.1" y="81.4" width="11.4" height="1.1" fill="#000" fill-opacity="0.12"/><rect x="85.5" y="81.4" width="3.1" height="1.1" fill="#000" fill-opacity="0.15"/><rect x="92.0" y="81.4" width="12.7" height="1.1" fill="#000" fill-opacity="0.14"/><rect x="107.4" y="81.4" width="7.0" height="1.1" fill="#000" fill-opacity="0.15"/><rect x="116.9" y="81.4" width="10.8" height="1.1" fill="#000" fill-opacity="0.15"/><rect x="130.4" y="81.4" width="11.9" height="1.1" fill="#000" fill-opacity="0.10"/><rect x="144.4" y="81.4" width="12.6" height="1.1" fill="#000" fill-opacity="0.11"/><rect x="0.1" y="84.1" width="13.0" height="1.1" fill="#000" fill-opacity="0.11"/><rect x="15.9" y="84.1" width="8.7" height="1.1" fill="#000" fill-opacity="0.16"/><rect x="27.5" y="84.1" width="9.8" height="1.1" fill="#000" fill-opacity="0.10"/><rect x="41.4" y="84.1" width="13.0" height="1.1" fill="#000" fill-opacity="0.14"/><rect x="58.8" y="84.1" width="11.0" height="1.1" fill="#000" fill-opacity="0.15"/><rect x="74.2" y="84.1" width="11.0" height="1.1" fill="#000" fill-opacity="0.10"/><rect x="89.7" y="84.1" width="15.9" height="1.1" fill="#000" fill-opacity="0.11"/><rect x="106.8" y="84.1" width="7.4" height="1.1" fill="#000" fill-opacity="0.11"/><rect x="116.7" y="84.1" width="4.2" height="1.1" fill="#000" fill-opacity="0.12"/><rect x="121.9" y="84.1" width="8.6" height="1.1" fill="#000" fill-opacity="0.12"/><rect x="134.4" y="84.1" width="8.1" height="1.1" fill="#000" fill-opacity="0.11"/><rect x="147.3" y="84.1" width="9.7" height="1.1" fill="#000" fill-opacity="0.15"/><rect x="2.4" y="86.8" width="8.9" height="1.1" fill="#000" fill-opacity="0.13"/><rect x="12.4" y="86.8" width="8.9" height="1.1" fill="#000" fill-opacity="0.15"/><rect x="25.1" y="86.8" width="14.2" height="1.1" fill="#000" fill-opacity="0.15"/><rect x="43.3" y="86.8" width="14.3" height="1.1" fill="#000" fill-opacity="0.16"/><rect x="61.8" y="86.8" width="8.4" height="1.1" fill="#000" fill-opacity="0.15"/><rect x="73.9" y="86.8" width="14.5" height="1.1" fill="#000" fill-opacity="0.15"/><rect x="91.1" y="86.8" width="5.5" height="1.1" fill="#000" fill-opacity="0.12"/><rect x="98.6" y="86.8" width="11.9" height="1.1" fill="#000" fill-opacity="0.15"/><rect x="112.2" y="86.8" width="9.9" height="1.1" fill="#000" fill-opacity="0.16"/><rect x="124.6" y="86.8" width="4.2" height="1.1" fill="#000" fill-opacity="0.14"/><rect x="131.3" y="86.8" width="4.9" height="1.1" fill="#000" fill-opacity="0.12"/><rect x="137.2" y="86.8" width="4.9" height="1.1" fill="#000" fill-opacity="0.13"/><rect x="143.5" y="86.8" width="3.1" height="1.1" fill="#000" fill-opacity="0.14"/><rect x="151.5" y="86.8" width="5.5" height="1.1" fill="#000" fill-opacity="0.12"/><rect x="0.5" y="89.5" width="5.0" height="1.1" fill="#000" fill-opacity="0.10"/><rect x="6.7" y="89.5" width="10.8" height="1.1" fill="#000" fill-opacity="0.15"/><rect x="20.4" y="89.5" width="13.4" height="1.1" fill="#000" fill-opacity="0.13"/><rect x="38.5" y="89.5" width="10.9" height="1.1" fill="#000" fill-opacity="0.14"/><rect x="51.1" y="89.5" width="8.5" height="1.1" fill="#000" fill-opacity="0.13"/><rect x="63.9" y="89.5" width="6.0" height="1.1" fill="#000" fill-opacity="0.12"/><rect x="74.2" y="89.5" width="3.9" height="1.1" fill="#000" fill-opacity="0.14"/><rect x="80.0" y="89.5" width="11.6" height="1.1" fill="#000" fill-opacity="0.14"/><rect x="93.0" y="89.5" width="12.5" height="1.1" fill="#000" fill-opacity="0.13"/><rect x="107.8" y="89.5" width="14.1" height="1.1" fill="#000" fill-opacity="0.15"/><rect x="124.2" y="89.5" width="11.8" height="1.1" fill="#000" fill-opacity="0.11"/><rect x="139.1" y="89.5" width="4.1" height="1.1" fill="#000" fill-opacity="0.14"/><rect x="147.8" y="89.5" width="9.2" height="1.1" fill="#000" fill-opacity="0.10"/><rect x="2.8" y="92.2" width="8.8" height="1.1" fill="#000" fill-opacity="0.11"/><rect x="13.7" y="92.2" width="8.8" height="1.1" fill="#000" fill-opacity="0.10"/><rect x="26.2" y="92.2" width="6.2" height="1.1" fill="#000" fill-opacity="0.12"/><rect x="33.8" y="92.2" width="6.9" height="1.1" fill="#000" fill-opacity="0.17"/><rect x="42.9" y="92.2" width="4.2" height="1.1" fill="#000" fill-opacity="0.12"/><rect x="51.9" y="92.2" width="4.1" height="1.1" fill="#000" fill-opacity="0.12"/><rect x="57.9" y="92.2" width="11.9" height="1.1" fill="#000" fill-opacity="0.13"/><rect x="71.1" y="92.2" width="14.2" height="1.1" fill="#000" fill-opacity="0.12"/><rect x="89.1" y="92.2" width="8.9" height="1.1" fill="#000" fill-opacity="0.16"/><rect x="99.2" y="92.2" width="6.0" height="1.1" fill="#000" fill-opacity="0.12"/><rect x="107.2" y="92.2" width="13.7" height="1.1" fill="#000" fill-opacity="0.14"/><rect x="123.3" y="92.2" width="9.6" height="1.1" fill="#000" fill-opacity="0.16"/><rect x="136.2" y="92.2" width="8.9" height="1.1" fill="#000" fill-opacity="0.15"/><rect x="148.5" y="92.2" width="8.3" height="1.1" fill="#000" fill-opacity="0.13"/><rect x="2.6" y="94.9" width="14.4" height="1.1" fill="#000" fill-opacity="0.12"/><rect x="19.5" y="94.9" width="10.8" height="1.1" fill="#000" fill-opacity="0.14"/><rect x="32.1" y="94.9" width="8.8" height="1.1" fill="#000" fill-opacity="0.15"/><rect x="42.0" y="94.9" width="4.4" height="1.1" fill="#000" fill-opacity="0.15"/><rect x="51.1" y="94.9" width="3.9" height="1.1" fill="#000" fill-opacity="0.11"/><rect x="58.4" y="94.9" width="6.7" height="1.1" fill="#000" fill-opacity="0.15"/><rect x="66.3" y="94.9" width="8.9" height="1.1" fill="#000" fill-opacity="0.11"/><rect x="77.5" y="94.9" width="12.0" height="1.1" fill="#000" fill-opacity="0.14"/><rect x="94.0" y="94.9" width="13.9" height="1.1" fill="#000" fill-opacity="0.14"/><rect x="112.3" y="94.9" width="5.3" height="1.1" fill="#000" fill-opacity="0.13"/><rect x="119.9" y="94.9" width="11.1" height="1.1" fill="#000" fill-opacity="0.11"/><rect x="135.6" y="94.9" width="7.8" height="1.1" fill="#000" fill-opacity="0.15"/><rect x="148.1" y="94.9" width="8.9" height="1.1" fill="#000" fill-opacity="0.13"/></pattern>
<filter id="nz" x="0" y="0" width="100%" height="100%" filterUnits="objectBoundingBox"><feTurbulence type="fractalNoise" baseFrequency="0.45" numOctaves="2" seed="7"/><feColorMatrix type="matrix" values="1 0 0 0 0  1 0 0 0 0  1 0 0 0 0  0 0 0 0 1"/></filter>
<filter id="nz2" x="0" y="0" width="100%" height="100%" filterUnits="objectBoundingBox"><feTurbulence type="fractalNoise" baseFrequency="0.3" numOctaves="2" seed="3"/><feColorMatrix type="matrix" values="1 0 0 0 0  1 0 0 0 0  1 0 0 0 0  0 0 0 0 1"/></filter>
<clipPath id="cp0"><rect x="13" y="61" width="196" height="247"/></clipPath>
<clipPath id="cp1"><rect x="213" y="61" width="196" height="247"/></clipPath>
<clipPath id="cp2"><rect x="414" y="61" width="196" height="247"/></clipPath>
<clipPath id="cp3"><rect x="615" y="61" width="196" height="247"/></clipPath>
<clipPath id="cp4"><rect x="816" y="61" width="195.5" height="247"/></clipPath>
</defs>
<g clip-path="url(#cp0)">
<rect x="13" y="61" width="196" height="247" fill="#9e9e9e"/>
<rect x="13" y="61" width="196" height="247" filter="url(#nz)" opacity="0.10"/>
<line x1="51.5" y1="102.4" x2="58.9" y2="109.8" stroke="#cfcfcf" stroke-width="1" stroke-opacity="0.7"/>
<line x1="33.2" y1="84.1" x2="25.8" y2="76.7" stroke="#cfcfcf" stroke-width="1" stroke-opacity="0.7"/>
<path d="M30.9 81.9C31.7 93.7 42.0 103.9 53.8 104.7C53.0 92.9 42.7 82.6 30.9 81.9Z" fill="none" stroke="#d2d2d2" stroke-width="2.4"/>
<path d="M30.9 81.9C31.7 93.7 42.0 103.9 53.8 104.7C53.0 92.9 42.7 82.6 30.9 81.9Z" fill="#929292" stroke="#666" stroke-width="0.9"/>
<ellipse cx="42.3" cy="93.3" rx="2.9" ry="2.5" fill="#808080" fill-opacity="0.55"/>
<line x1="32.1" y1="107.9" x2="36.8" y2="107.9" stroke="#cfcfcf" stroke-width="1" stroke-opacity="0.7"/>
<line x1="20.3" y1="107.9" x2="15.6" y2="107.9" stroke="#cfcfcf" stroke-width="1" stroke-opacity="0.7"/>
<path d="M18.9 107.9C22.9 116.9 29.5 116.9 33.5 107.9C29.5 99.0 22.9 99.0 18.9 107.9Z" fill="none" stroke="#d2d2d2" stroke-width="2.4"/>
<path d="M18.9 107.9C22.9 116.9 29.5 116.9 33.5 107.9C29.5 99.0 22.9 99.0 18.9 107.9Z" fill="#929292" stroke="#666" stroke-width="0.9"/>
<ellipse cx="26.2" cy="107.9" rx="3.4" ry="2.8" fill="#808080" fill-opacity="0.55"/>
<line x1="78.0" y1="107.3" x2="91.5" y2="100.2" stroke="#cfcfcf" stroke-width="1" stroke-opacity="0.7"/>
<line x1="44.8" y1="125.0" x2="31.4" y2="132.1" stroke="#cfcfcf" stroke-width="1" stroke-opacity="0.7"/>
<path d="M40.7 127.2C54.8 126.3 73.5 116.4 82.1 105.1C68.0 106.0 49.3 116.0 40.7 127.2Z" fill="none" stroke="#d2d2d2" stroke-width="2.4"/>
<path d="M40.7 127.2C54.8 126.3 73.5 116.4 82.1 105.1C68.0 106.0 49.3 116.0 40.7 127.2Z" fill="#929292" stroke="#666" stroke-width="0.9"/>
<ellipse cx="61.4" cy="116.2" rx="2.2" ry="1.8" fill="#808080" fill-opacity="0.55"/>
<line x1="93.6" y1="75.2" x2="106.7" y2="72.4" stroke="#cfcfcf" stroke-width="1" stroke-opacity="0.7"/>
<line x1="61.5" y1="82.0" x2="48.4" y2="84.8" stroke="#cfcfcf" stroke-width="1" stroke-opacity="0.7"/>
<path d="M57.5 82.9C69.6 85.5 87.6 81.6 97.6 74.3C85.5 71.7 67.5 75.6 57.5 82.9Z" fill="none" stroke="#d2d2d2" stroke-width="2.4"/>
<path d="M57.5 82.9C69.6 85.5 87.6 81.6 97.6 74.3C85.5 71.7 67.5 75.6 57.5 82.9Z" fill="#929292" stroke="#666" stroke-width="0.9"/>
<ellipse cx="77.6" cy="78.6" rx="1.9" ry="1.6" fill="#808080" fill-opacity="0.55"/>
<line x1="123.9" y1="124.8" x2="134.1" y2="136.2" stroke="#cfcfcf" stroke-width="1" stroke-opacity="0.7"/>
<line x1="98.7" y1="96.9" x2="88.5" y2="85.6" stroke="#cfcfcf" stroke-width="1" stroke-opacity="0.7"/>
<path d="M95.6 93.4C99.3 107.5 113.4 123.2 127.0 128.3C123.3 114.3 109.2 98.6 95.6 93.4Z" fill="none" stroke="#d2d2d2" stroke-width="2.4"/>
<path d="M95.6 93.4C99.3 107.5 113.4 123.2 127.0 128.3C123.3 114.3 109.2 98.6 95.6 93.4Z" fill="#929292" stroke="#666" stroke-width="0.9"/>
<ellipse cx="111.3" cy="110.9" rx="2.5" ry="2.1" fill="#808080" fill-opacity="0.55"/>
<line x1="147.3" y1="87.7" x2="153.9" y2="91.5" stroke="#cfcfcf" stroke-width="1" stroke-opacity="0.7"/>
<line x1="131.0" y1="78.3" x2="124.4" y2="74.5" stroke="#cfcfcf" stroke-width="1" stroke-opacity="0.7"/>
<path d="M129.0 77.1C131.7 85.4 140.8 90.7 149.3 88.9C146.7 80.6 137.5 75.3 129.0 77.1Z" fill="none" stroke="#d2d2d2" stroke-width="2.4"/>
<path d="M129.0 77.1C131.7 85.4 140.8 90.7 149.3 88.9C146.7 80.6 137.5 75.3 129.0 77.1Z" fill="#929292" stroke="#666" stroke-width="0.9"/>
<ellipse cx="139.2" cy="83.0" rx="2.2" ry="1.8" fill="#808080" fill-opacity="0.55"/>
<line x1="180.9" y1="88.5" x2="183.9" y2="96.6" stroke="#cfcfcf" stroke-width="1" stroke-opacity="0.7"/>
<line x1="173.7" y1="68.7" x2="170.8" y2="60.6" stroke="#cfcfcf" stroke-width="1" stroke-opacity="0.7"/>
<path d="M172.8 66.2C169.1 75.3 173.1 86.5 181.8 91.0C185.6 81.9 181.5 70.8 172.8 66.2Z" fill="none" stroke="#d2d2d2" stroke-width="2.4"/>
<path d="M172.8 66.2C169.1 75.3 173.1 86.5 181.8 91.0C185.6 81.9 181.5 70.8 172.8 66.2Z" fill="#929292" stroke="#666" stroke-width="0.9"/>
<ellipse cx="177.3" cy="78.6" rx="2.5" ry="2.1" fill="#808080" fill-opacity="0.55"/>
<line x1="159.9" y1="113.2" x2="164.9" y2="110.4" stroke="#cfcfcf" stroke-width="1" stroke-opacity="0.7"/>
<line x1="147.7" y1="120.3" x2="142.8" y2="123.1" stroke="#cfcfcf" stroke-width="1" stroke-opacity="0.7"/>
<path d="M146.2 121.2C154.7 126.2 161.6 122.2 161.5 112.3C153.0 107.3 146.1 111.3 146.2 121.2Z" fill="none" stroke="#d2d2d2" stroke-width="2.4"/>
<path d="M146.2 121.2C154.7 126.2 161.6 122.2 161.5 112.3C153.0 107.3 146.1 111.3 146.2 121.2Z" fill="#929292" stroke="#666" stroke-width="0.9"/>
<ellipse cx="153.8" cy="116.8" rx="3.2" ry="2.7" fill="#808080" fill-opacity="0.55"/>
<line x1="210.2" y1="107.9" x2="215.9" y2="107.9" stroke="#cfcfcf" stroke-width="1" stroke-opacity="0.7"/>
<line x1="196.1" y1="107.9" x2="190.4" y2="107.9" stroke="#cfcfcf" stroke-width="1" stroke-opacity="0.7"/>
<path d="M194.3 107.9C199.2 117.7 207.1 117.7 211.9 107.9C207.1 98.2 199.2 98.2 194.3 107.9Z" fill="none" stroke="#d2d2d2" stroke-width="2.4"/>
<path d="M194.3 107.9C199.2 117.7 207.1 117.7 211.9 107.9C207.1 98.2 199.2 98.2 194.3 107.9Z" fill="#929292" stroke="#666" stroke-width="0.9"/>
<ellipse cx="203.1" cy="107.9" rx="3.7" ry="3.1" fill="#808080" fill-opacity="0.55"/>
<line x1="187.1" y1="174.8" x2="193.8" y2="187.5" stroke="#cfcfcf" stroke-width="1" stroke-opacity="0.7"/>
<line x1="170.5" y1="143.8" x2="163.8" y2="131.1" stroke="#cfcfcf" stroke-width="1" stroke-opacity="0.7"/>
<path d="M168.5 139.9C168.3 153.7 177.6 171.2 189.1 178.7C189.3 164.9 180.0 147.4 168.5 139.9Z" fill="none" stroke="#d2d2d2" stroke-width="2.4"/>
<path d="M168.5 139.9C168.3 153.7 177.6 171.2 189.1 178.7C189.3 164.9 180.0 147.4 168.5 139.9Z" fill="#929292" stroke="#666" stroke-width="0.9"/>
<ellipse cx="178.8" cy="159.3" rx="2.5" ry="2.1" fill="#808080" fill-opacity="0.55"/>
<line x1="132.7" y1="154.9" x2="139.4" y2="154.9" stroke="#cfcfcf" stroke-width="1" stroke-opacity="0.7"/>
<line x1="116.3" y1="154.9" x2="109.6" y2="154.9" stroke="#cfcfcf" stroke-width="1" stroke-opacity="0.7"/>
<path d="M114.2 154.9C119.9 164.7 129.1 164.7 134.8 154.9C129.1 145.1 119.9 145.1 114.2 154.9Z" fill="none" stroke="#d2d2d2" stroke-width="2.4"/>
<path d="M114.2 154.9C119.9 164.7 129.1 164.7 134.8 154.9C129.1 145.1 119.9 145.1 114.2 154.9Z" fill="#929292" stroke="#666" stroke-width="0.9"/>
<ellipse cx="124.5" cy="154.9" rx="3.7" ry="3.1" fill="#808080" fill-opacity="0.55"/>
<line x1="159.6" y1="170.0" x2="161.9" y2="176.2" stroke="#cfcfcf" stroke-width="1" stroke-opacity="0.7"/>
<line x1="154.0" y1="154.5" x2="151.7" y2="148.2" stroke="#cfcfcf" stroke-width="1" stroke-opacity="0.7"/>
<path d="M153.3 152.6C147.1 160.8 150.3 169.5 160.3 171.9C166.4 163.6 163.3 155.0 153.3 152.6Z" fill="none" stroke="#d2d2d2" stroke-width="2.4"/>
<path d="M153.3 152.6C147.1 160.8 150.3 169.5 160.3 171.9C166.4 163.6 163.3 155.0 153.3 152.6Z" fill="#929292" stroke="#666" stroke-width="0.9"/>
<ellipse cx="156.8" cy="162.2" rx="3.2" ry="2.7" fill="#808080" fill-opacity="0.55"/>
<line x1="80.3" y1="148.9" x2="86.2" y2="144.0" stroke="#cfcfcf" stroke-width="1" stroke-opacity="0.7"/>
<line x1="66.0" y1="160.9" x2="60.1" y2="165.8" stroke="#cfcfcf" stroke-width="1" stroke-opacity="0.7"/>
<path d="M64.2 162.4C72.9 162.8 81.0 156.0 82.1 147.4C73.4 147.0 65.3 153.8 64.2 162.4Z" fill="none" stroke="#d2d2d2" stroke-width="2.4"/>
<path d="M64.2 162.4C72.9 162.8 81.0 156.0 82.1 147.4C73.4 147.0 65.3 153.8 64.2 162.4Z" fill="#929292" stroke="#666" stroke-width="0.9"/>
<ellipse cx="73.2" cy="154.9" rx="2.2" ry="1.8" fill="#808080" fill-opacity="0.55"/>
<line x1="104.1" y1="196.4" x2="105.5" y2="203.9" stroke="#cfcfcf" stroke-width="1" stroke-opacity="0.7"/>
<line x1="100.9" y1="177.9" x2="99.5" y2="170.4" stroke="#cfcfcf" stroke-width="1" stroke-opacity="0.7"/>
<path d="M100.5 175.6C95.8 183.0 97.6 193.4 104.5 198.7C109.2 191.4 107.3 181.0 100.5 175.6Z" fill="none" stroke="#d2d2d2" stroke-width="2.4"/>
<path d="M100.5 175.6C95.8 183.0 97.6 193.4 104.5 198.7C109.2 191.4 107.3 181.0 100.5 175.6Z" fill="#929292" stroke="#666" stroke-width="0.9"/>
<ellipse cx="102.5" cy="187.2" rx="2.2" ry="1.8" fill="#808080" fill-opacity="0.55"/>
<line x1="81.7" y1="187.2" x2="87.4" y2="187.2" stroke="#cfcfcf" stroke-width="1" stroke-opacity="0.7"/>
<line x1="67.6" y1="187.2" x2="61.9" y2="187.2" stroke="#cfcfcf" stroke-width="1" stroke-opacity="0.7"/>
<path d="M65.8 187.2C70.7 195.8 78.6 195.8 83.4 187.2C78.6 178.6 70.7 178.6 65.8 187.2Z" fill="none" stroke="#d2d2d2" stroke-width="2.4"/>
<path d="M65.8 187.2C70.7 195.8 78.6 195.8 83.4 187.2C78.6 178.6 70.7 178.6 65.8 187.2Z" fill="#929292" stroke="#666" stroke-width="0.9"/>
<ellipse cx="74.6" cy="187.2" rx="3.2" ry="2.7" fill="#808080" fill-opacity="0.55"/>
<line x1="71.0" y1="205.0" x2="82.4" y2="204.0" stroke="#cfcfcf" stroke-width="1" stroke-opacity="0.7"/>
<line x1="43.0" y1="207.5" x2="31.6" y2="208.5" stroke="#cfcfcf" stroke-width="1" stroke-opacity="0.7"/>
<path d="M39.5 207.8C49.7 213.5 65.5 212.2 74.6 204.7C64.3 198.9 48.5 200.3 39.5 207.8Z" fill="none" stroke="#d2d2d2" stroke-width="2.4"/>
<path d="M39.5 207.8C49.7 213.5 65.5 212.2 74.6 204.7C64.3 198.9 48.5 200.3 39.5 207.8Z" fill="#929292" stroke="#666" stroke-width="0.9"/>
<ellipse cx="57.0" cy="206.2" rx="2.5" ry="2.1" fill="#808080" fill-opacity="0.55"/>
<line x1="84.3" y1="212.1" x2="91.0" y2="212.1" stroke="#cfcfcf" stroke-width="1" stroke-opacity="0.7"/>
<line x1="67.9" y1="212.1" x2="61.2" y2="212.1" stroke="#cfcfcf" stroke-width="1" stroke-opacity="0.7"/>
<path d="M65.8 212.1C71.5 218.7 80.7 218.7 86.4 212.1C80.7 205.5 71.5 205.5 65.8 212.1Z" fill="none" stroke="#d2d2d2" stroke-width="2.4"/>
<path d="M65.8 212.1C71.5 218.7 80.7 218.7 86.4 212.1C80.7 205.5 71.5 205.5 65.8 212.1Z" fill="#929292" stroke="#666" stroke-width="0.9"/>
<ellipse cx="76.1" cy="212.1" rx="2.5" ry="2.1" fill="#808080" fill-opacity="0.55"/>
<line x1="124.8" y1="197.4" x2="131.0" y2="186.7" stroke="#cfcfcf" stroke-width="1" stroke-opacity="0.7"/>
<line x1="109.5" y1="223.9" x2="103.3" y2="234.6" stroke="#cfcfcf" stroke-width="1" stroke-opacity="0.7"/>
<path d="M107.6 227.2C120.3 222.4 128.9 207.5 126.7 194.1C114.0 198.9 105.4 213.8 107.6 227.2Z" fill="none" stroke="#d2d2d2" stroke-width="2.4"/>
<path d="M107.6 227.2C120.3 222.4 128.9 207.5 126.7 194.1C114.0 198.9 105.4 213.8 107.6 227.2Z" fill="#929292" stroke="#666" stroke-width="0.9"/>
<ellipse cx="117.2" cy="210.6" rx="3.2" ry="2.7" fill="#808080" fill-opacity="0.55"/>
<line x1="163.8" y1="209.2" x2="169.5" y2="209.2" stroke="#cfcfcf" stroke-width="1" stroke-opacity="0.7"/>
<line x1="149.7" y1="209.2" x2="144.0" y2="209.2" stroke="#cfcfcf" stroke-width="1" stroke-opacity="0.7"/>
<path d="M148.0 209.2C152.8 217.0 160.7 217.0 165.6 209.2C160.7 201.4 152.8 201.4 148.0 209.2Z" fill="none" stroke="#d2d2d2" stroke-width="2.4"/>
<path d="M148.0 209.2C152.8 217.0 160.7 217.0 165.6 209.2C160.7 201.4 152.8 201.4 148.0 209.2Z" fill="#929292" stroke="#666" stroke-width="0.9"/>
<ellipse cx="156.8" cy="209.2" rx="2.9" ry="2.5" fill="#808080" fill-opacity="0.55"/>
<line x1="182.7" y1="221.3" x2="189.4" y2="213.3" stroke="#cfcfcf" stroke-width="1" stroke-opacity="0.7"/>
<line x1="166.1" y1="241.1" x2="159.3" y2="249.1" stroke="#cfcfcf" stroke-width="1" stroke-opacity="0.7"/>
<path d="M164.0 243.6C174.8 241.0 184.1 229.9 184.8 218.8C174.0 221.4 164.6 232.5 164.0 243.6Z" fill="none" stroke="#d2d2d2" stroke-width="2.4"/>
<path d="M164.0 243.6C174.8 241.0 184.1 229.9 184.8 218.8C174.0 221.4 164.6 232.5 164.0 243.6Z" fill="#929292" stroke="#666" stroke-width="0.9"/>
<ellipse cx="174.4" cy="231.2" rx="2.5" ry="2.1" fill="#808080" fill-opacity="0.55"/>
<line x1="149.2" y1="238.5" x2="154.9" y2="238.5" stroke="#cfcfcf" stroke-width="1" stroke-opacity="0.7"/>
<line x1="135.1" y1="238.5" x2="129.3" y2="238.5" stroke="#cfcfcf" stroke-width="1" stroke-opacity="0.7"/>
<path d="M133.3 238.5C138.1 246.3 146.1 246.3 150.9 238.5C146.1 230.7 138.1 230.7 133.3 238.5Z" fill="none" stroke="#d2d2d2" stroke-width="2.4"/>
<path d="M133.3 238.5C138.1 246.3 146.1 246.3 150.9 238.5C146.1 230.7 138.1 230.7 133.3 238.5Z" fill="#929292" stroke="#666" stroke-width="0.9"/>
<ellipse cx="142.1" cy="238.5" rx="2.9" ry="2.5" fill="#808080" fill-opacity="0.55"/>
<line x1="79.9" y1="237.1" x2="86.6" y2="237.1" stroke="#cfcfcf" stroke-width="1" stroke-opacity="0.7"/>
<line x1="63.5" y1="237.1" x2="56.8" y2="237.1" stroke="#cfcfcf" stroke-width="1" stroke-opacity="0.7"/>
<path d="M61.4 237.1C67.1 245.6 76.3 245.6 82.0 237.1C76.3 228.5 67.1 228.5 61.4 237.1Z" fill="none" stroke="#d2d2d2" stroke-width="2.4"/>
<path d="M61.4 237.1C67.1 245.6 76.3 245.6 82.0 237.1C76.3 228.5 67.1 228.5 61.4 237.1Z" fill="#929292" stroke="#666" stroke-width="0.9"/>
<ellipse cx="71.7" cy="237.1" rx="3.2" ry="2.7" fill="#808080" fill-opacity="0.55"/>
<line x1="141.9" y1="255.6" x2="151.3" y2="253.9" stroke="#cfcfcf" stroke-width="1" stroke-opacity="0.7"/>
<line x1="118.8" y1="259.6" x2="109.4" y2="261.3" stroke="#cfcfcf" stroke-width="1" stroke-opacity="0.7"/>
<path d="M115.9 260.1C125.2 266.4 138.2 264.1 144.8 255.0C135.5 248.8 122.5 251.1 115.9 260.1Z" fill="none" stroke="#d2d2d2" stroke-width="2.4"/>
<path d="M115.9 260.1C125.2 266.4 138.2 264.1 144.8 255.0C135.5 248.8 122.5 251.1 115.9 260.1Z" fill="#929292" stroke="#666" stroke-width="0.9"/>
<ellipse cx="130.4" cy="257.6" rx="2.9" ry="2.5" fill="#808080" fill-opacity="0.55"/>
<line x1="81.6" y1="289.2" x2="84.8" y2="298.1" stroke="#cfcfcf" stroke-width="1" stroke-opacity="0.7"/>
<line x1="73.5" y1="267.1" x2="70.3" y2="258.1" stroke="#cfcfcf" stroke-width="1" stroke-opacity="0.7"/>
<path d="M72.5 264.3C68.0 274.6 72.5 287.0 82.6 291.9C87.1 281.7 82.6 269.3 72.5 264.3Z" fill="none" stroke="#d2d2d2" stroke-width="2.4"/>
<path d="M72.5 264.3C68.0 274.6 72.5 287.0 82.6 291.9C87.1 281.7 82.6 269.3 72.5 264.3Z" fill="#929292" stroke="#666" stroke-width="0.9"/>
<ellipse cx="77.6" cy="278.1" rx="2.9" ry="2.5" fill="#808080" fill-opacity="0.55"/>
<line x1="64.1" y1="275.2" x2="69.8" y2="275.2" stroke="#cfcfcf" stroke-width="1" stroke-opacity="0.7"/>
<line x1="50.0" y1="275.2" x2="44.2" y2="275.2" stroke="#cfcfcf" stroke-width="1" stroke-opacity="0.7"/>
<path d="M48.2 275.2C53.1 283.8 61.0 283.8 65.8 275.2C61.0 266.6 53.1 266.6 48.2 275.2Z" fill="none" stroke="#d2d2d2" stroke-width="2.4"/>
<path d="M48.2 275.2C53.1 283.8 61.0 283.8 65.8 275.2C61.0 266.6 53.1 266.6 48.2 275.2Z" fill="#929292" stroke="#666" stroke-width="0.9"/>
<ellipse cx="57.0" cy="275.2" rx="3.2" ry="2.7" fill="#808080" fill-opacity="0.55"/>
<line x1="110.4" y1="272.3" x2="118.0" y2="272.3" stroke="#cfcfcf" stroke-width="1" stroke-opacity="0.7"/>
<line x1="91.6" y1="272.3" x2="84.0" y2="272.3" stroke="#cfcfcf" stroke-width="1" stroke-opacity="0.7"/>
<path d="M89.3 272.3C95.7 280.9 106.3 280.9 112.8 272.3C106.3 263.7 95.7 263.7 89.3 272.3Z" fill="none" stroke="#d2d2d2" stroke-width="2.4"/>
<path d="M89.3 272.3C95.7 280.9 106.3 280.9 112.8 272.3C106.3 263.7 95.7 263.7 89.3 272.3Z" fill="#929292" stroke="#666" stroke-width="0.9"/>
<ellipse cx="101.0" cy="272.3" rx="3.2" ry="2.7" fill="#808080" fill-opacity="0.55"/>
<line x1="186.3" y1="253.0" x2="193.6" y2="246.9" stroke="#cfcfcf" stroke-width="1" stroke-opacity="0.7"/>
<line x1="168.3" y1="268.1" x2="161.0" y2="274.2" stroke="#cfcfcf" stroke-width="1" stroke-opacity="0.7"/>
<path d="M166.1 270.0C177.3 270.8 187.4 262.3 188.6 251.1C177.4 250.3 167.2 258.8 166.1 270.0Z" fill="none" stroke="#d2d2d2" stroke-width="2.4"/>
<path d="M166.1 270.0C177.3 270.8 187.4 262.3 188.6 251.1C177.4 250.3 167.2 258.8 166.1 270.0Z" fill="#929292" stroke="#666" stroke-width="0.9"/>
<ellipse cx="177.3" cy="260.5" rx="2.9" ry="2.5" fill="#808080" fill-opacity="0.55"/>
<line x1="199.6" y1="292.1" x2="203.4" y2="298.7" stroke="#cfcfcf" stroke-width="1" stroke-opacity="0.7"/>
<line x1="190.2" y1="275.9" x2="186.4" y2="269.3" stroke="#cfcfcf" stroke-width="1" stroke-opacity="0.7"/>
<path d="M189.1 273.8C184.8 283.7 190.1 292.9 200.8 294.2C205.0 284.3 199.7 275.1 189.1 273.8Z" fill="none" stroke="#d2d2d2" stroke-width="2.4"/>
<path d="M189.1 273.8C184.8 283.7 190.1 292.9 200.8 294.2C205.0 284.3 199.7 275.1 189.1 273.8Z" fill="#929292" stroke="#666" stroke-width="0.9"/>
<ellipse cx="194.9" cy="284.0" rx="3.2" ry="2.7" fill="#808080" fill-opacity="0.55"/>
<line x1="31.8" y1="272.3" x2="37.5" y2="272.3" stroke="#cfcfcf" stroke-width="1" stroke-opacity="0.7"/>
<line x1="17.7" y1="272.3" x2="12.0" y2="272.3" stroke="#cfcfcf" stroke-width="1" stroke-opacity="0.7"/>
<path d="M15.9 272.3C20.8 282.0 28.7 282.0 33.5 272.3C28.7 262.5 20.8 262.5 15.9 272.3Z" fill="none" stroke="#d2d2d2" stroke-width="2.4"/>
<path d="M15.9 272.3C20.8 282.0 28.7 282.0 33.5 272.3C28.7 262.5 20.8 262.5 15.9 272.3Z" fill="#929292" stroke="#666" stroke-width="0.9"/>
<ellipse cx="24.7" cy="272.3" rx="3.7" ry="3.1" fill="#808080" fill-opacity="0.55"/>
<line x1="163.2" y1="292.8" x2="170.9" y2="292.8" stroke="#cfcfcf" stroke-width="1" stroke-opacity="0.7"/>
<line x1="144.5" y1="292.8" x2="136.8" y2="292.8" stroke="#cfcfcf" stroke-width="1" stroke-opacity="0.7"/>
<path d="M142.1 292.8C148.6 300.6 159.1 300.6 165.6 292.8C159.1 285.0 148.6 285.0 142.1 292.8Z" fill="none" stroke="#d2d2d2" stroke-width="2.4"/>
<path d="M142.1 292.8C148.6 300.6 159.1 300.6 165.6 292.8C159.1 285.0 148.6 285.0 142.1 292.8Z" fill="#929292" stroke="#666" stroke-width="0.9"/>
<ellipse cx="153.8" cy="292.8" rx="2.9" ry="2.5" fill="#808080" fill-opacity="0.55"/>
<line x1="44.7" y1="184.2" x2="51.4" y2="184.2" stroke="#cfcfcf" stroke-width="1" stroke-opacity="0.7"/>
<line x1="28.3" y1="184.2" x2="21.6" y2="184.2" stroke="#cfcfcf" stroke-width="1" stroke-opacity="0.7"/>
<path d="M26.2 184.2C31.9 194.0 41.1 194.0 46.7 184.2C41.1 174.5 31.9 174.5 26.2 184.2Z" fill="none" stroke="#d2d2d2" stroke-width="2.4"/>
<path d="M26.2 184.2C31.9 194.0 41.1 194.0 46.7 184.2C41.1 174.5 31.9 174.5 26.2 184.2Z" fill="#929292" stroke="#666" stroke-width="0.9"/>
<ellipse cx="36.5" cy="184.2" rx="3.7" ry="3.1" fill="#808080" fill-opacity="0.55"/>
<line x1="50.5" y1="247.6" x2="57.1" y2="251.4" stroke="#cfcfcf" stroke-width="1" stroke-opacity="0.7"/>
<line x1="34.2" y1="238.2" x2="27.6" y2="234.4" stroke="#cfcfcf" stroke-width="1" stroke-opacity="0.7"/>
<path d="M32.2 237.1C33.9 247.0 43.0 252.3 52.5 248.8C50.8 238.8 41.7 233.5 32.2 237.1Z" fill="none" stroke="#d2d2d2" stroke-width="2.4"/>
<path d="M32.2 237.1C33.9 247.0 43.0 252.3 52.5 248.8C50.8 238.8 41.7 233.5 32.2 237.1Z" fill="#929292" stroke="#666" stroke-width="0.9"/>
<ellipse cx="42.3" cy="242.9" rx="2.9" ry="2.5" fill="#808080" fill-opacity="0.55"/>
<line x1="119.2" y1="295.7" x2="126.8" y2="295.7" stroke="#cfcfcf" stroke-width="1" stroke-opacity="0.7"/>
<line x1="100.4" y1="295.7" x2="92.8" y2="295.7" stroke="#cfcfcf" stroke-width="1" stroke-opacity="0.7"/>
<path d="M98.1 295.7C104.5 303.5 115.1 303.5 121.6 295.7C115.1 287.9 104.5 287.9 98.1 295.7Z" fill="none" stroke="#d2d2d2" stroke-width="2.4"/>
<path d="M98.1 295.7C104.5 303.5 115.1 303.5 121.6 295.7C115.1 287.9 104.5 287.9 98.1 295.7Z" fill="#929292" stroke="#666" stroke-width="0.9"/>
<ellipse cx="109.8" cy="295.7" rx="2.9" ry="2.5" fill="#808080" fill-opacity="0.55"/>
<line x1="210.8" y1="184.2" x2="216.5" y2="184.2" stroke="#cfcfcf" stroke-width="1" stroke-opacity="0.7"/>
<line x1="196.7" y1="184.2" x2="191.0" y2="184.2" stroke="#cfcfcf" stroke-width="1" stroke-opacity="0.7"/>
<path d="M194.9 184.2C199.8 192.0 207.7 192.0 212.5 184.2C207.7 176.4 199.8 176.4 194.9 184.2Z" fill="none" stroke="#d2d2d2" stroke-width="2.4"/>
<path d="M194.9 184.2C199.8 192.0 207.7 192.0 212.5 184.2C207.7 176.4 199.8 176.4 194.9 184.2Z" fill="#929292" stroke="#666" stroke-width="0.9"/>
<ellipse cx="203.7" cy="184.2" rx="2.9" ry="2.5" fill="#808080" fill-opacity="0.55"/>
<line x1="184.4" y1="187.2" x2="190.1" y2="187.2" stroke="#cfcfcf" stroke-width="1" stroke-opacity="0.7"/>
<line x1="170.3" y1="187.2" x2="164.6" y2="187.2" stroke="#cfcfcf" stroke-width="1" stroke-opacity="0.7"/>
<path d="M168.5 187.2C173.4 195.0 181.3 195.0 186.1 187.2C181.3 179.4 173.4 179.4 168.5 187.2Z" fill="none" stroke="#d2d2d2" stroke-width="2.4"/>
<path d="M168.5 187.2C173.4 195.0 181.3 195.0 186.1 187.2C181.3 179.4 173.4 179.4 168.5 187.2Z" fill="#929292" stroke="#666" stroke-width="0.9"/>
<ellipse cx="177.3" cy="187.2" rx="2.9" ry="2.5" fill="#808080" fill-opacity="0.55"/>
<line x1="31.7" y1="226.5" x2="37.3" y2="227.5" stroke="#cfcfcf" stroke-width="1" stroke-opacity="0.7"/>
<line x1="17.8" y1="224.1" x2="12.2" y2="223.1" stroke="#cfcfcf" stroke-width="1" stroke-opacity="0.7"/>
<path d="M16.1 223.8C19.3 233.1 27.1 234.5 33.4 226.8C30.1 217.6 22.3 216.2 16.1 223.8Z" fill="none" stroke="#d2d2d2" stroke-width="2.4"/>
<path d="M16.1 223.8C19.3 233.1 27.1 234.5 33.4 226.8C30.1 217.6 22.3 216.2 16.1 223.8Z" fill="#929292" stroke="#666" stroke-width="0.9"/>
<ellipse cx="24.7" cy="225.3" rx="3.2" ry="2.7" fill="#808080" fill-opacity="0.55"/>
<line x1="206.2" y1="83.1" x2="210.6" y2="86.8" stroke="#cfcfcf" stroke-width="1" stroke-opacity="0.7"/>
<line x1="195.4" y1="74.1" x2="191.0" y2="70.4" stroke="#cfcfcf" stroke-width="1" stroke-opacity="0.7"/>
<path d="M194.1 72.9C192.7 82.0 198.8 87.1 207.5 84.3C208.8 75.2 202.8 70.1 194.1 72.9Z" fill="none" stroke="#d2d2d2" stroke-width="2.4"/>
<path d="M194.1 72.9C192.7 82.0 198.8 87.1 207.5 84.3C208.8 75.2 202.8 70.1 194.1 72.9Z" fill="#929292" stroke="#666" stroke-width="0.9"/>
<ellipse cx="200.8" cy="78.6" rx="2.9" ry="2.5" fill="#808080" fill-opacity="0.55"/>
<line x1="109.9" y1="137.0" x2="117.0" y2="134.4" stroke="#cfcfcf" stroke-width="1" stroke-opacity="0.7"/>
<line x1="92.2" y1="143.4" x2="85.0" y2="146.0" stroke="#cfcfcf" stroke-width="1" stroke-opacity="0.7"/>
<path d="M90.0 144.2C98.5 148.6 108.4 145.0 112.1 136.2C103.6 131.8 93.7 135.4 90.0 144.2Z" fill="none" stroke="#d2d2d2" stroke-width="2.4"/>
<path d="M90.0 144.2C98.5 148.6 108.4 145.0 112.1 136.2C103.6 131.8 93.7 135.4 90.0 144.2Z" fill="#929292" stroke="#666" stroke-width="0.9"/>
<ellipse cx="101.0" cy="140.2" rx="2.6" ry="2.2" fill="#808080" fill-opacity="0.55"/>
<line x1="55.3" y1="161.9" x2="61.1" y2="165.3" stroke="#cfcfcf" stroke-width="1" stroke-opacity="0.7"/>
<line x1="41.1" y1="153.7" x2="35.3" y2="150.4" stroke="#cfcfcf" stroke-width="1" stroke-opacity="0.7"/>
<path d="M39.3 152.7C40.3 162.3 48.3 166.9 57.1 163.0C56.1 153.4 48.1 148.8 39.3 152.7Z" fill="none" stroke="#d2d2d2" stroke-width="2.4"/>
<path d="M39.3 152.7C40.3 162.3 48.3 166.9 57.1 163.0C56.1 153.4 48.1 148.8 39.3 152.7Z" fill="#929292" stroke="#666" stroke-width="0.9"/>
<ellipse cx="48.2" cy="157.8" rx="2.9" ry="2.5" fill="#808080" fill-opacity="0.55"/>
<line x1="136.5" y1="180.7" x2="141.4" y2="177.9" stroke="#cfcfcf" stroke-width="1" stroke-opacity="0.7"/>
<line x1="124.3" y1="187.8" x2="119.3" y2="190.6" stroke="#cfcfcf" stroke-width="1" stroke-opacity="0.7"/>
<path d="M122.7 188.6C130.5 192.3 137.3 188.3 138.0 179.8C130.3 176.2 123.4 180.1 122.7 188.6Z" fill="none" stroke="#d2d2d2" stroke-width="2.4"/>
<path d="M122.7 188.6C130.5 192.3 137.3 188.3 138.0 179.8C130.3 176.2 123.4 180.1 122.7 188.6Z" fill="#929292" stroke="#666" stroke-width="0.9"/>
<ellipse cx="130.4" cy="184.2" rx="2.6" ry="2.2" fill="#808080" fill-opacity="0.55"/>
<line x1="93.4" y1="245.9" x2="99.1" y2="245.9" stroke="#cfcfcf" stroke-width="1" stroke-opacity="0.7"/>
<line x1="79.3" y1="245.9" x2="73.6" y2="245.9" stroke="#cfcfcf" stroke-width="1" stroke-opacity="0.7"/>
<path d="M77.6 245.9C82.4 252.9 90.3 252.9 95.2 245.9C90.3 238.8 82.4 238.8 77.6 245.9Z" fill="none" stroke="#d2d2d2" stroke-width="2.4"/>
<path d="M77.6 245.9C82.4 252.9 90.3 252.9 95.2 245.9C90.3 238.8 82.4 238.8 77.6 245.9Z" fill="#929292" stroke="#666" stroke-width="0.9"/>
<ellipse cx="86.4" cy="245.9" rx="2.6" ry="2.2" fill="#808080" fill-opacity="0.55"/>
<line x1="48.8" y1="295.7" x2="56.4" y2="295.7" stroke="#cfcfcf" stroke-width="1" stroke-opacity="0.7"/>
<line x1="30.0" y1="295.7" x2="22.4" y2="295.7" stroke="#cfcfcf" stroke-width="1" stroke-opacity="0.7"/>
<path d="M27.7 295.7C34.1 303.5 44.7 303.5 51.1 295.7C44.7 287.9 34.1 287.9 27.7 295.7Z" fill="none" stroke="#d2d2d2" stroke-width="2.4"/>
<path d="M27.7 295.7C34.1 303.5 44.7 303.5 51.1 295.7C44.7 287.9 34.1 287.9 27.7 295.7Z" fill="#929292" stroke="#666" stroke-width="0.9"/>
<ellipse cx="39.4" cy="295.7" rx="2.9" ry="2.5" fill="#808080" fill-opacity="0.55"/>
<path d="M101.7 199.3 Q93.8 201.9 85.7 203.1" fill="none" stroke="#d2d2d2" stroke-width="1.1"/>
<path d="M102.6 200.2 Q94.7 202.8 86.6 204.0" fill="none" stroke="#6e6e6e" stroke-width="0.8"/>
<path d="M49.2 187.4 Q41.5 196.1 40.4 207.9" fill="none" stroke="#d2d2d2" stroke-width="1.1"/>
<path d="M50.1 188.3 Q42.4 197.0 41.3 208.8" fill="none" stroke="#6e6e6e" stroke-width="0.8"/>
<path d="M30.8 261.0 Q32.1 268.3 25.8 268.2" fill="none" stroke="#d2d2d2" stroke-width="1.1"/>
<path d="M31.7 261.9 Q33.0 269.2 26.7 269.1" fill="none" stroke="#6e6e6e" stroke-width="0.8"/>
<path d="M141.2 213.0 Q145.0 211.5 148.4 217.0" fill="none" stroke="#d2d2d2" stroke-width="1.1"/>
<path d="M142.1 213.9 Q145.9 212.4 149.3 217.9" fill="none" stroke="#6e6e6e" stroke-width="0.8"/>
<path d="M50.3 120.8 Q57.9 124.3 66.6 122.3" fill="none" stroke="#d2d2d2" stroke-width="1.1"/>
<path d="M51.2 121.7 Q58.8 125.2 67.5 123.2" fill="none" stroke="#6e6e6e" stroke-width="0.8"/>
<path d="M114.7 219.2 Q114.4 227.3 114.8 239.1" fill="none" stroke="#d2d2d2" stroke-width="1.1"/>
<path d="M115.6 220.1 Q115.3 228.2 115.7 240.0" fill="none" stroke="#6e6e6e" stroke-width="0.8"/>
<path d="M208.5 306.9 Q198.0 309.8 190.4 316.9" fill="none" stroke="#d2d2d2" stroke-width="1.1"/>
<path d="M209.4 307.8 Q198.9 310.7 191.3 317.8" fill="none" stroke="#6e6e6e" stroke-width="0.8"/>
<path d="M69.7 78.3 Q66.8 82.5 58.4 88.5" fill="none" stroke="#d2d2d2" stroke-width="1.1"/>
<path d="M70.6 79.2 Q67.7 83.4 59.3 89.4" fill="none" stroke="#6e6e6e" stroke-width="0.8"/>
<path d="M200.8 270.3 Q209.9 270.1 212.6 270.3" fill="none" stroke="#d2d2d2" stroke-width="1.1"/>
<path d="M201.7 271.2 Q210.8 271.0 213.5 271.2" fill="none" stroke="#6e6e6e" stroke-width="0.8"/>
<path d="M205.2 159.2 Q216.8 159.5 224.0 163.6" fill="none" stroke="#d2d2d2" stroke-width="1.1"/>
<path d="M206.1 160.1 Q217.7 160.4 224.9 164.5" fill="none" stroke="#6e6e6e" stroke-width="0.8"/>
<path d="M30.1 143.1 Q16.3 142.3 8.6 145.6" fill="none" stroke="#d2d2d2" stroke-width="1.1"/>
<path d="M31.0 144.0 Q17.2 143.2 9.5 146.5" fill="none" stroke="#6e6e6e" stroke-width="0.8"/>
<path d="M32.8 75.8 Q28.8 78.7 23.8 82.5" fill="none" stroke="#d2d2d2" stroke-width="1.1"/>
<path d="M33.7 76.7 Q29.7 79.6 24.7 83.4" fill="none" stroke="#6e6e6e" stroke-width="0.8"/>
<path d="M50.4 241.8 Q56.3 245.1 68.3 249.6" fill="none" stroke="#d2d2d2" stroke-width="1.1"/>
<path d="M51.3 242.7 Q57.2 246.0 69.2 250.5" fill="none" stroke="#6e6e6e" stroke-width="0.8"/>
<path d="M54.7 127.6 Q42.0 131.7 32.4 129.7" fill="none" stroke="#d2d2d2" stroke-width="1.1"/>
<path d="M55.6 128.5 Q42.9 132.6 33.3 130.6" fill="none" stroke="#6e6e6e" stroke-width="0.8"/>
<path d="M54.3 158.4 Q42.3 166.6 36.8 167.0" fill="none" stroke="#d2d2d2" stroke-width="1.1"/>
<path d="M55.2 159.3 Q43.2 167.5 37.7 167.9" fill="none" stroke="#6e6e6e" stroke-width="0.8"/>
<path d="M54.8 124.8 Q47.9 125.9 44.3 133.9" fill="none" stroke="#d2d2d2" stroke-width="1.1"/>
<path d="M55.7 125.7 Q48.8 126.8 45.2 134.8" fill="none" stroke="#6e6e6e" stroke-width="0.8"/>
<path d="M30.7 204.9 Q36.4 211.1 44.3 218.0" fill="none" stroke="#d2d2d2" stroke-width="1.1"/>
<path d="M31.6 205.8 Q37.3 212.0 45.2 218.9" fill="none" stroke="#6e6e6e" stroke-width="0.8"/>
<path d="M201.0 180.5 Q195.7 189.2 195.5 203.4" fill="none" stroke="#d2d2d2" stroke-width="1.1"/>
<path d="M201.9 181.4 Q196.6 190.1 196.4 204.3" fill="none" stroke="#6e6e6e" stroke-width="0.8"/>
<path d="M191.1 263.0 Q197.0 270.6 199.1 271.1" fill="none" stroke="#d2d2d2" stroke-width="1.1"/>
<path d="M192.0 263.9 Q197.9 271.5 200.0 272.0" fill="none" stroke="#6e6e6e" stroke-width="0.8"/>
<path d="M51.5 295.7 Q42.1 295.9 33.9 302.5" fill="none" stroke="#d2d2d2" stroke-width="1.1"/>
<path d="M52.4 296.6 Q43.0 296.8 34.8 303.4" fill="none" stroke="#6e6e6e" stroke-width="0.8"/>
<path d="M20.6 298.8 Q26.2 308.4 35.7 312.9" fill="none" stroke="#d2d2d2" stroke-width="1.1"/>
<path d="M21.5 299.7 Q27.1 309.3 36.6 313.8" fill="none" stroke="#6e6e6e" stroke-width="0.8"/>
<path d="M129.9 133.5 Q135.4 136.8 147.8 144.5" fill="none" stroke="#d2d2d2" stroke-width="1.1"/>
<path d="M130.8 134.4 Q136.3 137.7 148.7 145.4" fill="none" stroke="#6e6e6e" stroke-width="0.8"/>
<path d="M122.6 271.5 Q123.7 275.3 118.1 283.8" fill="none" stroke="#d2d2d2" stroke-width="1.1"/>
<path d="M123.5 272.4 Q124.6 276.2 119.0 284.7" fill="none" stroke="#6e6e6e" stroke-width="0.8"/>
<path d="M16.2 127.5 Q14.4 130.9 17.8 136.4" fill="none" stroke="#d2d2d2" stroke-width="1.1"/>
<path d="M17.1 128.4 Q15.3 131.8 18.7 137.3" fill="none" stroke="#6e6e6e" stroke-width="0.8"/>
<path d="M125.1 93.5 Q134.0 105.7 135.2 115.3" fill="none" stroke="#d2d2d2" stroke-width="1.1"/>
<path d="M126.0 94.4 Q134.9 106.6 136.1 116.2" fill="none" stroke="#6e6e6e" stroke-width="0.8"/>
<path d="M148.5 205.4 Q148.5 210.5 156.3 209.0" fill="none" stroke="#d2d2d2" stroke-width="1.1"/>
<path d="M149.4 206.3 Q149.4 211.4 157.2 209.9" fill="none" stroke="#6e6e6e" stroke-width="0.8"/>
<path d="M150.4 298.8 Q160.0 301.3 169.8 300.1" fill="none" stroke="#d2d2d2" stroke-width="1.1"/>
<path d="M151.3 299.7 Q160.9 302.2 170.7 301.0" fill="none" stroke="#6e6e6e" stroke-width="0.8"/>
<path d="M75.5 307.8 Q86.1 313.1 92.8 312.0" fill="none" stroke="#d2d2d2" stroke-width="1.1"/>
<path d="M76.4 308.7 Q87.0 314.0 93.7 312.9" fill="none" stroke="#6e6e6e" stroke-width="0.8"/>
<path d="M157.5 234.8 Q146.5 243.7 138.0 249.6" fill="none" stroke="#d2d2d2" stroke-width="1.1"/>
<path d="M158.4 235.7 Q147.4 244.6 138.9 250.5" fill="none" stroke="#6e6e6e" stroke-width="0.8"/>
<path d="M189.6 276.2 Q195.3 287.5 195.3 297.6" fill="none" stroke="#d2d2d2" stroke-width="1.1"/>
<path d="M190.5 277.1 Q196.2 288.4 196.2 298.5" fill="none" stroke="#6e6e6e" stroke-width="0.8"/>
<path d="M135.5 155.4 Q129.7 165.7 130.6 173.8" fill="none" stroke="#d2d2d2" stroke-width="1.1"/>
<path d="M136.4 156.3 Q130.6 166.6 131.5 174.7" fill="none" stroke="#6e6e6e" stroke-width="0.8"/>
<path d="M207.7 278.3 Q204.6 284.6 197.8 289.6" fill="none" stroke="#d2d2d2" stroke-width="1.1"/>
<path d="M208.6 279.2 Q205.5 285.5 198.7 290.5" fill="none" stroke="#6e6e6e" stroke-width="0.8"/>
<path d="M99.3 268.1 Q106.0 271.7 120.1 273.7" fill="none" stroke="#d2d2d2" stroke-width="1.1"/>
<path d="M100.2 269.0 Q106.9 272.6 121.0 274.6" fill="none" stroke="#6e6e6e" stroke-width="0.8"/>
<path d="M107.3 117.9 Q103.2 128.1 97.4 131.6" fill="none" stroke="#d2d2d2" stroke-width="1.1"/>
<path d="M108.2 118.8 Q104.1 129.0 98.3 132.5" fill="none" stroke="#6e6e6e" stroke-width="0.8"/>
<path d="M63.1 63.8 Q66.7 69.3 75.0 80.2" fill="none" stroke="#d2d2d2" stroke-width="1.1"/>
<path d="M64.0 64.7 Q67.6 70.2 75.9 81.1" fill="none" stroke="#6e6e6e" stroke-width="0.8"/>
<path d="M190.5 224.0 Q191.3 237.2 194.9 247.7" fill="none" stroke="#d2d2d2" stroke-width="1.1"/>
<path d="M191.4 224.9 Q192.2 238.1 195.8 248.6" fill="none" stroke="#6e6e6e" stroke-width="0.8"/>
<path d="M51.9 167.4 Q44.9 173.5 31.9 181.4" fill="none" stroke="#d2d2d2" stroke-width="1.1"/>
<path d="M52.8 168.3 Q45.8 174.4 32.8 182.3" fill="none" stroke="#6e6e6e" stroke-width="0.8"/>
<path d="M127.3 139.2 Q137.7 145.5 142.7 146.2" fill="none" stroke="#d2d2d2" stroke-width="1.1"/>
<path d="M128.2 140.1 Q138.6 146.4 143.6 147.1" fill="none" stroke="#6e6e6e" stroke-width="0.8"/>
<path d="M152.4 295.7 Q155.6 298.1 159.5 304.1" fill="none" stroke="#d2d2d2" stroke-width="1.1"/>
<path d="M153.3 296.6 Q156.5 299.0 160.4 305.0" fill="none" stroke="#6e6e6e" stroke-width="0.8"/>
<path d="M55.0 163.3 Q50.2 173.8 48.5 178.8" fill="none" stroke="#d2d2d2" stroke-width="1.1"/>
<path d="M55.9 164.2 Q51.1 174.7 49.4 179.7" fill="none" stroke="#6e6e6e" stroke-width="0.8"/>
<path d="M205.5 172.8 Q212.6 170.1 213.8 174.8" fill="none" stroke="#d2d2d2" stroke-width="1.1"/>
<path d="M206.4 173.7 Q213.5 171.0 214.7 175.7" fill="none" stroke="#6e6e6e" stroke-width="0.8"/>
<path d="M151.9 201.9 Q154.3 208.2 164.5 220.3" fill="none" stroke="#d2d2d2" stroke-width="1.1"/>
<path d="M152.8 202.8 Q155.2 209.1 165.4 221.2" fill="none" stroke="#6e6e6e" stroke-width="0.8"/>
<path d="M102.1 67.1 Q94.0 66.6 91.6 73.4" fill="none" stroke="#d2d2d2" stroke-width="1.1"/>
<path d="M103.0 68.0 Q94.9 67.5 92.5 74.3" fill="none" stroke="#6e6e6e" stroke-width="0.8"/>
<path d="M136.3 171.3 Q134.8 184.0 128.5 189.4" fill="none" stroke="#d2d2d2" stroke-width="1.1"/>
<path d="M137.2 172.2 Q135.7 184.9 129.4 190.3" fill="none" stroke="#6e6e6e" stroke-width="0.8"/>
<path d="M147.2 110.2 Q143.7 115.6 148.0 121.4" fill="none" stroke="#d2d2d2" stroke-width="1.1"/>
<path d="M148.1 111.1 Q144.6 116.5 148.9 122.3" fill="none" stroke="#6e6e6e" stroke-width="0.8"/>
<path d="M153.0 105.2 Q159.2 110.8 162.3 116.0" fill="none" stroke="#d2d2d2" stroke-width="1.1"/>
<path d="M153.9 106.1 Q160.1 111.7 163.2 116.9" fill="none" stroke="#6e6e6e" stroke-width="0.8"/>
<path d="M133.4 247.8 Q140.3 255.0 140.7 268.8" fill="none" stroke="#d2d2d2" stroke-width="1.1"/>
<path d="M134.3 248.7 Q141.2 255.9 141.6 269.7" fill="none" stroke="#6e6e6e" stroke-width="0.8"/>
<path d="M195.8 239.4 Q204.2 245.9 210.6 245.8" fill="none" stroke="#d2d2d2" stroke-width="1.1"/>
<path d="M196.7 240.3 Q205.1 246.8 211.5 246.7" fill="none" stroke="#6e6e6e" stroke-width="0.8"/>
<path d="M86.9 201.5 Q80.0 205.3 66.1 209.8" fill="none" stroke="#d2d2d2" stroke-width="1.1"/>
<path d="M87.8 202.4 Q80.9 206.2 67.0 210.7" fill="none" stroke="#6e6e6e" stroke-width="0.8"/>
<path d="M140.7 111.6 Q134.5 122.1 126.1 129.0" fill="none" stroke="#d2d2d2" stroke-width="1.1"/>
<path d="M141.6 112.5 Q135.4 123.0 127.0 129.9" fill="none" stroke="#6e6e6e" stroke-width="0.8"/>
<path d="M54.8 283.3 Q42.3 286.4 29.3 284.9" fill="none" stroke="#d2d2d2" stroke-width="1.1"/>
<path d="M55.7 284.2 Q43.2 287.3 30.2 285.8" fill="none" stroke="#6e6e6e" stroke-width="0.8"/>
<path d="M75.8 285.8 Q66.0 288.4 63.0 292.0" fill="none" stroke="#d2d2d2" stroke-width="1.1"/>
<path d="M76.7 286.7 Q66.9 289.3 63.9 292.9" fill="none" stroke="#6e6e6e" stroke-width="0.8"/>
<path d="M120.9 250.8 Q123.5 251.5 121.2 259.3" fill="none" stroke="#d2d2d2" stroke-width="1.1"/>
<path d="M121.8 251.7 Q124.4 252.4 122.1 260.2" fill="none" stroke="#6e6e6e" stroke-width="0.8"/>
<path d="M169.8 103.7 Q172.4 110.5 180.8 123.0" fill="none" stroke="#d2d2d2" stroke-width="1.1"/>
<path d="M170.7 104.6 Q173.3 111.4 181.7 123.9" fill="none" stroke="#6e6e6e" stroke-width="0.8"/>
<path d="M114.2 239.7 Q108.9 244.6 96.4 249.6" fill="none" stroke="#d2d2d2" stroke-width="1.1"/>
<path d="M115.1 240.6 Q109.8 245.5 97.3 250.5" fill="none" stroke="#6e6e6e" stroke-width="0.8"/>
<path d="M199.0 82.2 Q204.1 89.7 212.5 93.4" fill="none" stroke="#d2d2d2" stroke-width="1.1"/>
<path d="M199.9 83.1 Q205.0 90.6 213.4 94.3" fill="none" stroke="#6e6e6e" stroke-width="0.8"/>
<path d="M138.2 190.1 Q128.7 193.4 122.3 198.7" fill="none" stroke="#d2d2d2" stroke-width="1.1"/>
<path d="M139.1 191.0 Q129.6 194.3 123.2 199.6" fill="none" stroke="#6e6e6e" stroke-width="0.8"/>
<path d="M178.7 283.4 Q191.7 290.7 197.2 297.6" fill="none" stroke="#d2d2d2" stroke-width="1.1"/>
<path d="M179.6 284.3 Q192.6 291.6 198.1 298.5" fill="none" stroke="#6e6e6e" stroke-width="0.8"/>
<path d="M125.3 110.6 Q125.2 115.3 123.4 127.6" fill="none" stroke="#d2d2d2" stroke-width="1.1"/>
<path d="M126.2 111.5 Q126.1 116.2 124.3 128.5" fill="none" stroke="#6e6e6e" stroke-width="0.8"/>
<path d="M203.0 188.5 Q207.0 199.1 209.9 209.8" fill="none" stroke="#d2d2d2" stroke-width="1.1"/>
<path d="M203.9 189.4 Q207.9 200.0 210.8 210.7" fill="none" stroke="#6e6e6e" stroke-width="0.8"/>
<path d="M148.4 77.3 Q151.2 88.3 146.6 92.6" fill="none" stroke="#d2d2d2" stroke-width="1.1"/>
<path d="M149.3 78.2 Q152.1 89.2 147.5 93.5" fill="none" stroke="#6e6e6e" stroke-width="0.8"/>
<path d="M65.8 177.9 Q75.6 184.1 80.3 184.0" fill="none" stroke="#d2d2d2" stroke-width="1.1"/>
<path d="M66.7 178.8 Q76.5 185.0 81.2 184.9" fill="none" stroke="#6e6e6e" stroke-width="0.8"/>
<path d="M106.4 139.4 Q117.7 141.8 122.2 150.2" fill="none" stroke="#d2d2d2" stroke-width="1.1"/>
<path d="M107.3 140.3 Q118.6 142.7 123.1 151.1" fill="none" stroke="#6e6e6e" stroke-width="0.8"/>
<path d="M165.7 66.6 Q172.2 68.7 175.7 73.6" fill="none" stroke="#d2d2d2" stroke-width="1.1"/>
<path d="M166.6 67.5 Q173.1 69.6 176.6 74.5" fill="none" stroke="#6e6e6e" stroke-width="0.8"/>
<path d="M82.6 214.1 Q89.6 217.6 102.7 220.9" fill="none" stroke="#d2d2d2" stroke-width="1.1"/>
<path d="M83.5 215.0 Q90.5 218.5 103.6 221.8" fill="none" stroke="#6e6e6e" stroke-width="0.8"/>
<path d="M62.1 109.8 Q60.4 117.0 60.6 125.6" fill="none" stroke="#d2d2d2" stroke-width="1.1"/>
<path d="M63.0 110.7 Q61.3 117.9 61.5 126.5" fill="none" stroke="#6e6e6e" stroke-width="0.8"/>
<path d="M116.8 100.5 Q125.6 106.5 132.3 112.0" fill="none" stroke="#d2d2d2" stroke-width="1.1"/>
<path d="M117.7 101.4 Q126.5 107.4 133.2 112.9" fill="none" stroke="#6e6e6e" stroke-width="0.8"/>
<path d="M179.8 212.1 Q176.3 217.2 168.9 217.4" fill="none" stroke="#d2d2d2" stroke-width="1.1"/>
<path d="M180.7 213.0 Q177.2 218.1 169.8 218.3" fill="none" stroke="#6e6e6e" stroke-width="0.8"/>
<path d="M189.9 139.0 Q194.4 153.3 203.4 159.6" fill="none" stroke="#d2d2d2" stroke-width="1.1"/>
<path d="M190.8 139.9 Q195.3 154.2 204.3 160.5" fill="none" stroke="#6e6e6e" stroke-width="0.8"/>
<path d="M187.0 94.1 Q192.7 98.1 202.4 108.5" fill="none" stroke="#d2d2d2" stroke-width="1.1"/>
<path d="M187.9 95.0 Q193.6 99.0 203.3 109.4" fill="none" stroke="#6e6e6e" stroke-width="0.8"/>
<path d="M176.1 165.1 Q171.3 169.8 168.0 171.4" fill="none" stroke="#d2d2d2" stroke-width="1.1"/>
<path d="M177.0 166.0 Q172.2 170.7 168.9 172.3" fill="none" stroke="#6e6e6e" stroke-width="0.8"/>
<path d="M16.5 110.6 Q13.6 117.8 3.3 131.1" fill="none" stroke="#d2d2d2" stroke-width="1.1"/>
<path d="M17.4 111.5 Q14.5 118.7 4.2 132.0" fill="none" stroke="#6e6e6e" stroke-width="0.8"/>
<path d="M112.1 248.3 Q109.5 255.0 111.9 268.6" fill="none" stroke="#d2d2d2" stroke-width="1.1"/>
<path d="M113.0 249.2 Q110.4 255.9 112.8 269.5" fill="none" stroke="#6e6e6e" stroke-width="0.8"/>
<path d="M33.8 70.2 Q33.0 75.9 31.0 87.3" fill="none" stroke="#d2d2d2" stroke-width="1.1"/>
<path d="M34.7 71.1 Q33.9 76.8 31.9 88.2" fill="none" stroke="#6e6e6e" stroke-width="0.8"/>
<path d="M49.2 111.4 Q41.3 114.3 26.5 123.8" fill="none" stroke="#d2d2d2" stroke-width="1.1"/>
<path d="M50.1 112.3 Q42.2 115.2 27.4 124.7" fill="none" stroke="#6e6e6e" stroke-width="0.8"/>
<path d="M25.1 296.0 Q25.0 306.6 27.7 317.6" fill="none" stroke="#d2d2d2" stroke-width="1.1"/>
<path d="M26.0 296.9 Q25.9 307.5 28.6 318.5" fill="none" stroke="#6e6e6e" stroke-width="0.8"/>
<path d="M114.0 167.2 Q114.3 173.9 111.4 175.1" fill="none" stroke="#d2d2d2" stroke-width="1.1"/>
<path d="M114.9 168.1 Q115.2 174.8 112.3 176.0" fill="none" stroke="#6e6e6e" stroke-width="0.8"/>
<path d="M48.5 173.1 Q40.9 176.0 38.1 184.3" fill="none" stroke="#d2d2d2" stroke-width="1.1"/>
<path d="M49.4 174.0 Q41.8 176.9 39.0 185.2" fill="none" stroke="#6e6e6e" stroke-width="0.8"/>
<path d="M113.5 64.8 Q104.5 71.4 92.3 72.2" fill="none" stroke="#d2d2d2" stroke-width="1.1"/>
<path d="M114.4 65.7 Q105.4 72.3 93.2 73.1" fill="none" stroke="#6e6e6e" stroke-width="0.8"/>
<path d="M136.4 160.9 Q137.6 171.5 131.1 177.2" fill="none" stroke="#d2d2d2" stroke-width="1.1"/>
<path d="M137.3 161.8 Q138.5 172.4 132.0 178.1" fill="none" stroke="#6e6e6e" stroke-width="0.8"/>
<circle cx="63.6" cy="286.1" r="1.4" fill="#6a6a6a"/>
<circle cx="165.5" cy="262.2" r="1.1" fill="#6a6a6a"/>
<circle cx="188.7" cy="278.3" r="1.4" fill="#6a6a6a"/>
<circle cx="163.4" cy="250.0" r="1.1" fill="#6a6a6a"/>
<circle cx="154.6" cy="78.4" r="1.1" fill="#6a6a6a"/>
<circle cx="104.9" cy="63.6" r="1.1" fill="#6a6a6a"/>
<circle cx="138.2" cy="215.1" r="1.0" fill="#6a6a6a"/>
<circle cx="198.2" cy="225.5" r="1.1" fill="#6a6a6a"/>
<circle cx="142.3" cy="201.7" r="1.2" fill="#6a6a6a"/>
<circle cx="89.4" cy="308.0" r="1.3" fill="#6a6a6a"/>
<circle cx="150.4" cy="249.1" r="1.6" fill="#6a6a6a"/>
<circle cx="17.5" cy="213.0" r="1.4" fill="#6a6a6a"/>
<circle cx="63.3" cy="160.2" r="0.8" fill="#6a6a6a"/>
<circle cx="51.3" cy="153.8" r="0.9" fill="#6a6a6a"/>
<circle cx="62.2" cy="284.7" r="1.2" fill="#6a6a6a"/>
<circle cx="112.5" cy="299.9" r="1.3" fill="#6a6a6a"/>
<circle cx="208.0" cy="218.6" r="1.4" fill="#6a6a6a"/>
<circle cx="27.9" cy="208.6" r="1.4" fill="#6a6a6a"/>
<circle cx="21.8" cy="290.7" r="0.9" fill="#6a6a6a"/>
<circle cx="105.5" cy="102.8" r="1.2" fill="#6a6a6a"/>
<circle cx="132.8" cy="75.5" r="1.6" fill="#6a6a6a"/>
<circle cx="95.5" cy="191.1" r="1.3" fill="#6a6a6a"/>
<circle cx="84.7" cy="131.6" r="1.3" fill="#6a6a6a"/>
<circle cx="122.9" cy="131.0" r="1.4" fill="#6a6a6a"/>
<circle cx="71.0" cy="64.5" r="1.0" fill="#6a6a6a"/>
<circle cx="21.4" cy="99.7" r="1.4" fill="#6a6a6a"/>
<circle cx="89.4" cy="282.7" r="1.4" fill="#6a6a6a"/>
<circle cx="22.8" cy="305.2" r="1.6" fill="#6a6a6a"/>
<circle cx="27.4" cy="284.7" r="1.1" fill="#6a6a6a"/>
<circle cx="106.6" cy="301.4" r="1.0" fill="#6a6a6a"/>
<circle cx="115.6" cy="292.5" r="1.4" fill="#6a6a6a"/>
<circle cx="104.8" cy="302.8" r="1.5" fill="#6a6a6a"/>
<circle cx="131.3" cy="89.4" r="1.3" fill="#6a6a6a"/>
<circle cx="102.3" cy="111.3" r="0.8" fill="#6a6a6a"/>
<circle cx="116.5" cy="91.7" r="1.2" fill="#6a6a6a"/>
<circle cx="143.9" cy="173.5" r="1.0" fill="#6a6a6a"/>
<circle cx="127.1" cy="164.6" r="1.4" fill="#6a6a6a"/>
<circle cx="117.0" cy="307.4" r="1.6" fill="#6a6a6a"/>
<circle cx="156.9" cy="119.9" r="0.9" fill="#6a6a6a"/>
<circle cx="188.0" cy="254.7" r="1.3" fill="#6a6a6a"/>
<circle cx="83.4" cy="128.1" r="1.3" fill="#6a6a6a"/>
<circle cx="123.7" cy="207.1" r="1.3" fill="#6a6a6a"/>
<circle cx="160.7" cy="107.9" r="1.0" fill="#6a6a6a"/>
<circle cx="205.0" cy="287.2" r="1.5" fill="#6a6a6a"/>
<circle cx="20.7" cy="76.0" r="1.0" fill="#6a6a6a"/>
<circle cx="96.3" cy="215.0" r="0.9" fill="#6a6a6a"/>
<circle cx="119.2" cy="78.9" r="0.9" fill="#6a6a6a"/>
<circle cx="145.6" cy="197.0" r="1.3" fill="#6a6a6a"/>
<circle cx="86.1" cy="179.2" r="1.0" fill="#6a6a6a"/>
<circle cx="80.4" cy="245.0" r="1.5" fill="#6a6a6a"/>
<circle cx="27.6" cy="90.6" r="1.4" fill="#6a6a6a"/>
<circle cx="135.3" cy="250.9" r="1.0" fill="#6a6a6a"/>
<circle cx="96.2" cy="124.7" r="1.4" fill="#6a6a6a"/>
<circle cx="85.3" cy="222.5" r="1.6" fill="#6a6a6a"/>
<circle cx="76.8" cy="196.5" r="1.4" fill="#6a6a6a"/>
<circle cx="193.5" cy="166.6" r="1.1" fill="#6a6a6a"/>
<circle cx="32.0" cy="277.2" r="0.9" fill="#6a6a6a"/>
<circle cx="29.3" cy="200.4" r="1.2" fill="#6a6a6a"/>
<circle cx="147.3" cy="134.8" r="1.4" fill="#6a6a6a"/>
<circle cx="27.9" cy="113.7" r="1.3" fill="#6a6a6a"/>
<circle cx="29.0" cy="136.0" r="1.4" fill="#6a6a6a"/>
<circle cx="149.0" cy="130.9" r="0.9" fill="#6a6a6a"/>
<circle cx="83.1" cy="240.3" r="1.1" fill="#6a6a6a"/>
<circle cx="36.0" cy="236.2" r="1.3" fill="#6a6a6a"/>
<circle cx="193.0" cy="293.2" r="1.5" fill="#6a6a6a"/>
<circle cx="98.8" cy="259.4" r="1.0" fill="#6a6a6a"/>
<circle cx="75.3" cy="159.7" r="1.5" fill="#6a6a6a"/>
<circle cx="188.4" cy="122.3" r="1.1" fill="#6a6a6a"/>
<circle cx="84.7" cy="150.7" r="1.1" fill="#6a6a6a"/>
<circle cx="89.0" cy="109.2" r="1.3" fill="#6a6a6a"/>
<ellipse cx="71.7" cy="235.6" rx="2.9" ry="2.3" fill="#5a5a5a"/>
<ellipse cx="67.3" cy="204.8" rx="4.1" ry="1.5" fill="#5a5a5a"/>
<ellipse cx="186.1" cy="169.6" rx="1.8" ry="1.8" fill="#5a5a5a"/>
<ellipse cx="91.6" cy="95.6" rx="1.8" ry="1.5" fill="#5a5a5a"/>
<ellipse cx="133.3" cy="225.3" rx="1.5" ry="1.5" fill="#5a5a5a"/>
<ellipse cx="51.1" cy="229.7" rx="1.5" ry="1.2" fill="#5a5a5a"/>
<mask id="mk0"><path d="M30.9 81.9C31.7 93.7 42.0 103.9 53.8 104.7C53.0 92.9 42.7 82.6 30.9 81.9Z" fill="#fff"/><path d="M18.9 107.9C22.9 116.9 29.5 116.9 33.5 107.9C29.5 99.0 22.9 99.0 18.9 107.9Z" fill="#fff"/><path d="M40.7 127.2C54.8 126.3 73.5 116.4 82.1 105.1C68.0 106.0 49.3 116.0 40.7 127.2Z" fill="#fff"/><path d="M57.5 82.9C69.6 85.5 87.6 81.6 97.6 74.3C85.5 71.7 67.5 75.6 57.5 82.9Z" fill="#fff"/><path d="M95.6 93.4C99.3 107.5 113.4 123.2 127.0 128.3C123.3 114.3 109.2 98.6 95.6 93.4Z" fill="#fff"/><path d="M129.0 77.1C131.7 85.4 140.8 90.7 149.3 88.9C146.7 80.6 137.5 75.3 129.0 77.1Z" fill="#fff"/><path d="M172.8 66.2C169.1 75.3 173.1 86.5 181.8 91.0C185.6 81.9 181.5 70.8 172.8 66.2Z" fill="#fff"/><path d="M146.2 121.2C154.7 126.2 161.6 122.2 161.5 112.3C153.0 107.3 146.1 111.3 146.2 121.2Z" fill="#fff"/><path d="M194.3 107.9C199.2 117.7 207.1 117.7 211.9 107.9C207.1 98.2 199.2 98.2 194.3 107.9Z" fill="#fff"/><path d="M168.5 139.9C168.3 153.7 177.6 171.2 189.1 178.7C189.3 164.9 180.0 147.4 168.5 139.9Z" fill="#fff"/><path d="M114.2 154.9C119.9 164.7 129.1 164.7 134.8 154.9C129.1 145.1 119.9 145.1 114.2 154.9Z" fill="#fff"/><path d="M153.3 152.6C147.1 160.8 150.3 169.5 160.3 171.9C166.4 163.6 163.3 155.0 153.3 152.6Z" fill="#fff"/><path d="M64.2 162.4C72.9 162.8 81.0 156.0 82.1 147.4C73.4 147.0 65.3 153.8 64.2 162.4Z" fill="#fff"/><path d="M100.5 175.6C95.8 183.0 97.6 193.4 104.5 198.7C109.2 191.4 107.3 181.0 100.5 175.6Z" fill="#fff"/><path d="M65.8 187.2C70.7 195.8 78.6 195.8 83.4 187.2C78.6 178.6 70.7 178.6 65.8 187.2Z" fill="#fff"/><path d="M39.5 207.8C49.7 213.5 65.5 212.2 74.6 204.7C64.3 198.9 48.5 200.3 39.5 207.8Z" fill="#fff"/><path d="M65.8 212.1C71.5 218.7 80.7 218.7 86.4 212.1C80.7 205.5 71.5 205.5 65.8 212.1Z" fill="#fff"/><path d="M107.6 227.2C120.3 222.4 128.9 207.5 126.7 194.1C114.0 198.9 105.4 213.8 107.6 227.2Z" fill="#fff"/><path d="M148.0 209.2C152.8 217.0 160.7 217.0 165.6 209.2C160.7 201.4 152.8 201.4 148.0 209.2Z" fill="#fff"/><path d="M164.0 243.6C174.8 241.0 184.1 229.9 184.8 218.8C174.0 221.4 164.6 232.5 164.0 243.6Z" fill="#fff"/><path d="M133.3 238.5C138.1 246.3 146.1 246.3 150.9 238.5C146.1 230.7 138.1 230.7 133.3 238.5Z" fill="#fff"/><path d="M61.4 237.1C67.1 245.6 76.3 245.6 82.0 237.1C76.3 228.5 67.1 228.5 61.4 237.1Z" fill="#fff"/><path d="M115.9 260.1C125.2 266.4 138.2 264.1 144.8 255.0C135.5 248.8 122.5 251.1 115.9 260.1Z" fill="#fff"/><path d="M72.5 264.3C68.0 274.6 72.5 287.0 82.6 291.9C87.1 281.7 82.6 269.3 72.5 264.3Z" fill="#fff"/><path d="M48.2 275.2C53.1 283.8 61.0 283.8 65.8 275.2C61.0 266.6 53.1 266.6 48.2 275.2Z" fill="#fff"/><path d="M89.3 272.3C95.7 280.9 106.3 280.9 112.8 272.3C106.3 263.7 95.7 263.7 89.3 272.3Z" fill="#fff"/><path d="M166.1 270.0C177.3 270.8 187.4 262.3 188.6 251.1C177.4 250.3 167.2 258.8 166.1 270.0Z" fill="#fff"/><path d="M189.1 273.8C184.8 283.7 190.1 292.9 200.8 294.2C205.0 284.3 199.7 275.1 189.1 273.8Z" fill="#fff"/><path d="M15.9 272.3C20.8 282.0 28.7 282.0 33.5 272.3C28.7 262.5 20.8 262.5 15.9 272.3Z" fill="#fff"/><path d="M142.1 292.8C148.6 300.6 159.1 300.6 165.6 292.8C159.1 285.0 148.6 285.0 142.1 292.8Z" fill="#fff"/><path d="M26.2 184.2C31.9 194.0 41.1 194.0 46.7 184.2C41.1 174.5 31.9 174.5 26.2 184.2Z" fill="#fff"/><path d="M32.2 237.1C33.9 247.0 43.0 252.3 52.5 248.8C50.8 238.8 41.7 233.5 32.2 237.1Z" fill="#fff"/><path d="M98.1 295.7C104.5 303.5 115.1 303.5 121.6 295.7C115.1 287.9 104.5 287.9 98.1 295.7Z" fill="#fff"/><path d="M194.9 184.2C199.8 192.0 207.7 192.0 212.5 184.2C207.7 176.4 199.8 176.4 194.9 184.2Z" fill="#fff"/><path d="M168.5 187.2C173.4 195.0 181.3 195.0 186.1 187.2C181.3 179.4 173.4 179.4 168.5 187.2Z" fill="#fff"/><path d="M16.1 223.8C19.3 233.1 27.1 234.5 33.4 226.8C30.1 217.6 22.3 216.2 16.1 223.8Z" fill="#fff"/><path d="M194.1 72.9C192.7 82.0 198.8 87.1 207.5 84.3C208.8 75.2 202.8 70.1 194.1 72.9Z" fill="#fff"/><path d="M90.0 144.2C98.5 148.6 108.4 145.0 112.1 136.2C103.6 131.8 93.7 135.4 90.0 144.2Z" fill="#fff"/><path d="M39.3 152.7C40.3 162.3 48.3 166.9 57.1 163.0C56.1 153.4 48.1 148.8 39.3 152.7Z" fill="#fff"/><path d="M122.7 188.6C130.5 192.3 137.3 188.3 138.0 179.8C130.3 176.2 123.4 180.1 122.7 188.6Z" fill="#fff"/><path d="M77.6 245.9C82.4 252.9 90.3 252.9 95.2 245.9C90.3 238.8 82.4 238.8 77.6 245.9Z" fill="#fff"/><path d="M27.7 295.7C34.1 303.5 44.7 303.5 51.1 295.7C44.7 287.9 34.1 287.9 27.7 295.7Z" fill="#fff"/></mask>
<rect x="13" y="61" width="196" height="247" filter="url(#nz2)" opacity="0.35" mask="url(#mk0)"/>
<rect x="13" y="61" width="196" height="247" fill="url(#scan)"/>
</g>
<g clip-path="url(#cp1)">
<rect x="213" y="61" width="196" height="247" fill="#9f9f9f"/>
<rect x="213" y="61" width="196" height="247" filter="url(#nz)" opacity="0.10"/>
<line x1="273.4" y1="119.0" x2="274.8" y2="135.2" stroke="#cfcfcf" stroke-width="1" stroke-opacity="0.7"/>
<line x1="269.9" y1="79.3" x2="268.5" y2="63.1" stroke="#cfcfcf" stroke-width="1" stroke-opacity="0.7"/>
<path d="M269.5 74.3C263.7 88.6 265.7 110.9 273.9 124.0C279.7 109.7 277.7 87.4 269.5 74.3Z" fill="none" stroke="#d2d2d2" stroke-width="2.4"/>
<path d="M269.5 74.3C263.7 88.6 265.7 110.9 273.9 124.0C279.7 109.7 277.7 87.4 269.5 74.3Z" fill="#8e8e8e" stroke="#666" stroke-width="0.9"/>
<ellipse cx="271.7" cy="99.1" rx="2.6" ry="2.2" fill="#808080" fill-opacity="0.55"/>
<line x1="305.1" y1="82.8" x2="308.5" y2="88.6" stroke="#cfcfcf" stroke-width="1" stroke-opacity="0.7"/>
<line x1="296.9" y1="68.6" x2="293.6" y2="62.8" stroke="#cfcfcf" stroke-width="1" stroke-opacity="0.7"/>
<path d="M295.9 66.8C290.3 76.5 294.9 84.6 306.2 84.6C311.8 74.8 307.2 66.8 295.9 66.8Z" fill="none" stroke="#d2d2d2" stroke-width="2.4"/>
<path d="M295.9 66.8C290.3 76.5 294.9 84.6 306.2 84.6C311.8 74.8 307.2 66.8 295.9 66.8Z" fill="#8e8e8e" stroke="#666" stroke-width="0.9"/>
<ellipse cx="301.0" cy="75.7" rx="3.7" ry="3.1" fill="#808080" fill-opacity="0.55"/>
<line x1="301.0" y1="107.7" x2="308.2" y2="105.1" stroke="#cfcfcf" stroke-width="1" stroke-opacity="0.7"/>
<line x1="283.4" y1="114.1" x2="276.2" y2="116.7" stroke="#cfcfcf" stroke-width="1" stroke-opacity="0.7"/>
<path d="M281.2 114.9C290.6 121.9 300.5 118.2 303.3 106.9C293.9 99.9 283.9 103.5 281.2 114.9Z" fill="none" stroke="#d2d2d2" stroke-width="2.4"/>
<path d="M281.2 114.9C290.6 121.9 300.5 118.2 303.3 106.9C293.9 99.9 283.9 103.5 281.2 114.9Z" fill="#8e8e8e" stroke="#666" stroke-width="0.9"/>
<ellipse cx="292.2" cy="110.9" rx="3.7" ry="3.1" fill="#808080" fill-opacity="0.55"/>
<line x1="238.8" y1="78.6" x2="245.5" y2="78.6" stroke="#cfcfcf" stroke-width="1" stroke-opacity="0.7"/>
<line x1="222.4" y1="78.6" x2="215.7" y2="78.6" stroke="#cfcfcf" stroke-width="1" stroke-opacity="0.7"/>
<path d="M220.3 78.6C226.0 88.4 235.2 88.4 240.9 78.6C235.2 68.8 226.0 68.8 220.3 78.6Z" fill="none" stroke="#d2d2d2" stroke-width="2.4"/>
<path d="M220.3 78.6C226.0 88.4 235.2 88.4 240.9 78.6C235.2 68.8 226.0 68.8 220.3 78.6Z" fill="#8e8e8e" stroke="#666" stroke-width="0.9"/>
<ellipse cx="230.6" cy="78.6" rx="3.7" ry="3.1" fill="#808080" fill-opacity="0.55"/>
<line x1="267.3" y1="100.7" x2="280.5" y2="98.4" stroke="#cfcfcf" stroke-width="1" stroke-opacity="0.7"/>
<line x1="235.0" y1="106.4" x2="221.8" y2="108.7" stroke="#cfcfcf" stroke-width="1" stroke-opacity="0.7"/>
<path d="M230.9 107.1C243.7 114.8 261.9 111.6 271.4 100.0C258.6 92.3 240.3 95.5 230.9 107.1Z" fill="none" stroke="#d2d2d2" stroke-width="2.4"/>
<path d="M230.9 107.1C243.7 114.8 261.9 111.6 271.4 100.0C258.6 92.3 240.3 95.5 230.9 107.1Z" fill="#8e8e8e" stroke="#666" stroke-width="0.9"/>
<ellipse cx="251.1" cy="103.5" rx="3.7" ry="3.1" fill="#808080" fill-opacity="0.55"/>
<line x1="251.1" y1="128.5" x2="260.7" y2="128.5" stroke="#cfcfcf" stroke-width="1" stroke-opacity="0.7"/>
<line x1="227.7" y1="128.5" x2="218.1" y2="128.5" stroke="#cfcfcf" stroke-width="1" stroke-opacity="0.7"/>
<path d="M224.7 128.5C232.8 138.2 246.0 138.2 254.1 128.5C246.0 118.7 232.8 118.7 224.7 128.5Z" fill="none" stroke="#d2d2d2" stroke-width="2.4"/>
<path d="M224.7 128.5C232.8 138.2 246.0 138.2 254.1 128.5C246.0 118.7 232.8 118.7 224.7 128.5Z" fill="#8e8e8e" stroke="#666" stroke-width="0.9"/>
<ellipse cx="239.4" cy="128.5" rx="3.7" ry="3.1" fill="#808080" fill-opacity="0.55"/>
<line x1="231.5" y1="140.2" x2="238.2" y2="140.2" stroke="#cfcfcf" stroke-width="1" stroke-opacity="0.7"/>
<line x1="215.1" y1="140.2" x2="208.4" y2="140.2" stroke="#cfcfcf" stroke-width="1" stroke-opacity="0.7"/>
<path d="M213.0 140.2C218.6 150.0 227.9 150.0 233.5 140.2C227.9 130.5 218.6 130.5 213.0 140.2Z" fill="none" stroke="#d2d2d2" stroke-width="2.4"/>
<path d="M213.0 140.2C218.6 150.0 227.9 150.0 233.5 140.2C227.9 130.5 218.6 130.5 213.0 140.2Z" fill="#8e8e8e" stroke="#666" stroke-width="0.9"/>
<ellipse cx="223.3" cy="140.2" rx="3.7" ry="3.1" fill="#808080" fill-opacity="0.55"/>
<line x1="280.8" y1="132.0" x2="288.3" y2="127.7" stroke="#cfcfcf" stroke-width="1" stroke-opacity="0.7"/>
<line x1="262.5" y1="142.6" x2="255.1" y2="146.9" stroke="#cfcfcf" stroke-width="1" stroke-opacity="0.7"/>
<path d="M260.3 143.9C271.4 148.7 281.7 142.8 283.1 130.7C272.0 125.9 261.7 131.8 260.3 143.9Z" fill="none" stroke="#d2d2d2" stroke-width="2.4"/>
<path d="M260.3 143.9C271.4 148.7 281.7 142.8 283.1 130.7C272.0 125.9 261.7 131.8 260.3 143.9Z" fill="#8e8e8e" stroke="#666" stroke-width="0.9"/>
<ellipse cx="271.7" cy="137.3" rx="3.7" ry="3.1" fill="#808080" fill-opacity="0.55"/>
<line x1="348.0" y1="134.4" x2="357.5" y2="134.4" stroke="#cfcfcf" stroke-width="1" stroke-opacity="0.7"/>
<line x1="324.5" y1="134.4" x2="315.0" y2="134.4" stroke="#cfcfcf" stroke-width="1" stroke-opacity="0.7"/>
<path d="M321.6 134.4C329.6 150.0 342.8 150.0 350.9 134.4C342.8 118.7 329.6 118.7 321.6 134.4Z" fill="none" stroke="#d2d2d2" stroke-width="2.4"/>
<path d="M321.6 134.4C329.6 150.0 342.8 150.0 350.9 134.4C342.8 118.7 329.6 118.7 321.6 134.4Z" fill="#8e8e8e" stroke="#666" stroke-width="0.9"/>
<ellipse cx="336.2" cy="134.4" rx="5.9" ry="4.9" fill="#808080" fill-opacity="0.55"/>
<line x1="372.6" y1="96.9" x2="380.6" y2="99.8" stroke="#cfcfcf" stroke-width="1" stroke-opacity="0.7"/>
<line x1="352.7" y1="89.7" x2="344.7" y2="86.7" stroke="#cfcfcf" stroke-width="1" stroke-opacity="0.7"/>
<path d="M350.2 88.8C353.1 102.2 364.2 106.3 375.1 97.8C372.2 84.3 361.1 80.2 350.2 88.8Z" fill="none" stroke="#d2d2d2" stroke-width="2.4"/>
<path d="M350.2 88.8C353.1 102.2 364.2 106.3 375.1 97.8C372.2 84.3 361.1 80.2 350.2 88.8Z" fill="#8e8e8e" stroke="#666" stroke-width="0.9"/>
<ellipse cx="362.6" cy="93.3" rx="4.4" ry="3.7" fill="#808080" fill-opacity="0.55"/>
<line x1="409.3" y1="84.5" x2="415.0" y2="84.5" stroke="#cfcfcf" stroke-width="1" stroke-opacity="0.7"/>
<line x1="395.2" y1="84.5" x2="389.5" y2="84.5" stroke="#cfcfcf" stroke-width="1" stroke-opacity="0.7"/>
<path d="M393.5 84.5C398.3 96.2 406.2 96.2 411.1 84.5C406.2 72.8 398.3 72.8 393.5 84.5Z" fill="none" stroke="#d2d2d2" stroke-width="2.4"/>
<path d="M393.5 84.5C398.3 96.2 406.2 96.2 411.1 84.5C406.2 72.8 398.3 72.8 393.5 84.5Z" fill="#8e8e8e" stroke="#666" stroke-width="0.9"/>
<ellipse cx="402.3" cy="84.5" rx="4.4" ry="3.7" fill="#808080" fill-opacity="0.55"/>
<line x1="362.4" y1="176.7" x2="365.7" y2="182.5" stroke="#cfcfcf" stroke-width="1" stroke-opacity="0.7"/>
<line x1="354.1" y1="162.5" x2="350.8" y2="156.7" stroke="#cfcfcf" stroke-width="1" stroke-opacity="0.7"/>
<path d="M353.1 160.7C347.5 170.4 352.1 178.4 363.4 178.5C369.0 168.7 364.4 160.7 353.1 160.7Z" fill="none" stroke="#d2d2d2" stroke-width="2.4"/>
<path d="M353.1 160.7C347.5 170.4 352.1 178.4 363.4 178.5C369.0 168.7 364.4 160.7 353.1 160.7Z" fill="#8e8e8e" stroke="#666" stroke-width="0.9"/>
<ellipse cx="358.2" cy="169.6" rx="3.7" ry="3.1" fill="#808080" fill-opacity="0.55"/>
<line x1="340.6" y1="180.6" x2="341.8" y2="187.2" stroke="#cfcfcf" stroke-width="1" stroke-opacity="0.7"/>
<line x1="337.7" y1="164.4" x2="336.6" y2="157.8" stroke="#cfcfcf" stroke-width="1" stroke-opacity="0.7"/>
<path d="M337.4 162.4C329.9 169.4 331.5 178.5 341.0 182.6C348.4 175.6 346.8 166.5 337.4 162.4Z" fill="none" stroke="#d2d2d2" stroke-width="2.4"/>
<path d="M337.4 162.4C329.9 169.4 331.5 178.5 341.0 182.6C348.4 175.6 346.8 166.5 337.4 162.4Z" fill="#8e8e8e" stroke="#666" stroke-width="0.9"/>
<ellipse cx="339.2" cy="172.5" rx="3.2" ry="2.7" fill="#808080" fill-opacity="0.55"/>
<line x1="310.1" y1="168.6" x2="317.5" y2="166.6" stroke="#cfcfcf" stroke-width="1" stroke-opacity="0.7"/>
<line x1="292.0" y1="173.5" x2="284.6" y2="175.4" stroke="#cfcfcf" stroke-width="1" stroke-opacity="0.7"/>
<path d="M289.7 174.1C298.1 180.7 308.4 178.0 312.4 168.0C303.9 161.4 293.7 164.1 289.7 174.1Z" fill="none" stroke="#d2d2d2" stroke-width="2.4"/>
<path d="M289.7 174.1C298.1 180.7 308.4 178.0 312.4 168.0C303.9 161.4 293.7 164.1 289.7 174.1Z" fill="#8e8e8e" stroke="#666" stroke-width="0.9"/>
<ellipse cx="301.0" cy="171.0" rx="3.2" ry="2.7" fill="#808080" fill-opacity="0.55"/>
<line x1="260.5" y1="160.8" x2="268.2" y2="160.8" stroke="#cfcfcf" stroke-width="1" stroke-opacity="0.7"/>
<line x1="241.8" y1="160.8" x2="234.1" y2="160.8" stroke="#cfcfcf" stroke-width="1" stroke-opacity="0.7"/>
<path d="M239.4 160.8C245.9 170.5 256.4 170.5 262.9 160.8C256.4 151.0 245.9 151.0 239.4 160.8Z" fill="none" stroke="#d2d2d2" stroke-width="2.4"/>
<path d="M239.4 160.8C245.9 170.5 256.4 170.5 262.9 160.8C256.4 151.0 245.9 151.0 239.4 160.8Z" fill="#8e8e8e" stroke="#666" stroke-width="0.9"/>
<ellipse cx="251.1" cy="160.8" rx="3.7" ry="3.1" fill="#808080" fill-opacity="0.55"/>
<line x1="238.7" y1="179.5" x2="247.7" y2="182.7" stroke="#cfcfcf" stroke-width="1" stroke-opacity="0.7"/>
<line x1="216.6" y1="171.4" x2="207.7" y2="168.2" stroke="#cfcfcf" stroke-width="1" stroke-opacity="0.7"/>
<path d="M213.9 170.4C218.1 182.3 230.5 186.9 241.5 180.5C237.2 168.5 224.8 164.0 213.9 170.4Z" fill="none" stroke="#d2d2d2" stroke-width="2.4"/>
<path d="M213.9 170.4C218.1 182.3 230.5 186.9 241.5 180.5C237.2 168.5 224.8 164.0 213.9 170.4Z" fill="#8e8e8e" stroke="#666" stroke-width="0.9"/>
<ellipse cx="227.7" cy="175.4" rx="3.7" ry="3.1" fill="#808080" fill-opacity="0.55"/>
<line x1="283.9" y1="188.8" x2="291.4" y2="190.1" stroke="#cfcfcf" stroke-width="1" stroke-opacity="0.7"/>
<line x1="265.4" y1="185.5" x2="257.9" y2="184.2" stroke="#cfcfcf" stroke-width="1" stroke-opacity="0.7"/>
<path d="M263.1 185.1C267.9 194.7 278.3 196.5 286.2 189.2C281.3 179.6 270.9 177.8 263.1 185.1Z" fill="none" stroke="#d2d2d2" stroke-width="2.4"/>
<path d="M263.1 185.1C267.9 194.7 278.3 196.5 286.2 189.2C281.3 179.6 270.9 177.8 263.1 185.1Z" fill="#8e8e8e" stroke="#666" stroke-width="0.9"/>
<ellipse cx="274.6" cy="187.2" rx="3.2" ry="2.7" fill="#808080" fill-opacity="0.55"/>
<line x1="310.6" y1="186.9" x2="317.2" y2="183.1" stroke="#cfcfcf" stroke-width="1" stroke-opacity="0.7"/>
<line x1="294.4" y1="196.3" x2="287.8" y2="200.1" stroke="#cfcfcf" stroke-width="1" stroke-opacity="0.7"/>
<path d="M292.3 197.4C302.2 201.7 311.4 196.4 312.7 185.7C302.8 181.5 293.6 186.8 292.3 197.4Z" fill="none" stroke="#d2d2d2" stroke-width="2.4"/>
<path d="M292.3 197.4C302.2 201.7 311.4 196.4 312.7 185.7C302.8 181.5 293.6 186.8 292.3 197.4Z" fill="#8e8e8e" stroke="#666" stroke-width="0.9"/>
<ellipse cx="302.5" cy="191.6" rx="3.2" ry="2.7" fill="#808080" fill-opacity="0.55"/>
<line x1="254.7" y1="206.2" x2="262.3" y2="206.2" stroke="#cfcfcf" stroke-width="1" stroke-opacity="0.7"/>
<line x1="235.9" y1="206.2" x2="228.3" y2="206.2" stroke="#cfcfcf" stroke-width="1" stroke-opacity="0.7"/>
<path d="M233.5 206.2C240.0 216.0 250.6 216.0 257.0 206.2C250.6 196.5 240.0 196.5 233.5 206.2Z" fill="none" stroke="#d2d2d2" stroke-width="2.4"/>
<path d="M233.5 206.2C240.0 216.0 250.6 216.0 257.0 206.2C250.6 196.5 240.0 196.5 233.5 206.2Z" fill="#8e8e8e" stroke="#666" stroke-width="0.9"/>
<ellipse cx="245.3" cy="206.2" rx="3.7" ry="3.1" fill="#808080" fill-opacity="0.55"/>
<line x1="280.2" y1="212.1" x2="285.9" y2="212.1" stroke="#cfcfcf" stroke-width="1" stroke-opacity="0.7"/>
<line x1="266.1" y1="212.1" x2="260.4" y2="212.1" stroke="#cfcfcf" stroke-width="1" stroke-opacity="0.7"/>
<path d="M264.3 212.1C269.2 221.9 277.1 221.9 282.0 212.1C277.1 202.4 269.2 202.4 264.3 212.1Z" fill="none" stroke="#d2d2d2" stroke-width="2.4"/>
<path d="M264.3 212.1C269.2 221.9 277.1 221.9 282.0 212.1C277.1 202.4 269.2 202.4 264.3 212.1Z" fill="#8e8e8e" stroke="#666" stroke-width="0.9"/>
<ellipse cx="273.2" cy="212.1" rx="3.7" ry="3.1" fill="#808080" fill-opacity="0.55"/>
<line x1="317.8" y1="209.2" x2="325.4" y2="209.2" stroke="#cfcfcf" stroke-width="1" stroke-opacity="0.7"/>
<line x1="299.0" y1="209.2" x2="291.3" y2="209.2" stroke="#cfcfcf" stroke-width="1" stroke-opacity="0.7"/>
<path d="M296.6 209.2C303.1 218.9 313.6 218.9 320.1 209.2C313.6 199.4 303.1 199.4 296.6 209.2Z" fill="none" stroke="#d2d2d2" stroke-width="2.4"/>
<path d="M296.6 209.2C303.1 218.9 313.6 218.9 320.1 209.2C313.6 199.4 303.1 199.4 296.6 209.2Z" fill="#8e8e8e" stroke="#666" stroke-width="0.9"/>
<ellipse cx="308.4" cy="209.2" rx="3.7" ry="3.1" fill="#808080" fill-opacity="0.55"/>
<line x1="377.3" y1="208.2" x2="386.8" y2="200.2" stroke="#cfcfcf" stroke-width="1" stroke-opacity="0.7"/>
<line x1="353.9" y1="227.8" x2="344.4" y2="235.8" stroke="#cfcfcf" stroke-width="1" stroke-opacity="0.7"/>
<path d="M351.0 230.2C364.5 230.1 377.7 219.0 380.2 205.7C366.6 205.9 353.5 216.9 351.0 230.2Z" fill="none" stroke="#d2d2d2" stroke-width="2.4"/>
<path d="M351.0 230.2C364.5 230.1 377.7 219.0 380.2 205.7C366.6 205.9 353.5 216.9 351.0 230.2Z" fill="#8e8e8e" stroke="#666" stroke-width="0.9"/>
<ellipse cx="365.6" cy="218.0" rx="3.2" ry="2.7" fill="#808080" fill-opacity="0.55"/>
<line x1="407.8" y1="198.9" x2="413.6" y2="198.9" stroke="#cfcfcf" stroke-width="1" stroke-opacity="0.7"/>
<line x1="393.8" y1="198.9" x2="388.0" y2="198.9" stroke="#cfcfcf" stroke-width="1" stroke-opacity="0.7"/>
<path d="M392.0 198.9C396.8 208.7 404.8 208.7 409.6 198.9C404.8 189.2 396.8 189.2 392.0 198.9Z" fill="none" stroke="#d2d2d2" stroke-width="2.4"/>
<path d="M392.0 198.9C396.8 208.7 404.8 208.7 409.6 198.9C404.8 189.2 396.8 189.2 392.0 198.9Z" fill="#8e8e8e" stroke="#666" stroke-width="0.9"/>
<ellipse cx="400.8" cy="198.9" rx="3.7" ry="3.1" fill="#808080" fill-opacity="0.55"/>
<line x1="404.6" y1="213.6" x2="411.3" y2="213.6" stroke="#cfcfcf" stroke-width="1" stroke-opacity="0.7"/>
<line x1="388.2" y1="213.6" x2="381.5" y2="213.6" stroke="#cfcfcf" stroke-width="1" stroke-opacity="0.7"/>
<path d="M386.1 213.6C391.8 223.3 401.0 223.3 406.7 213.6C401.0 203.8 391.8 203.8 386.1 213.6Z" fill="none" stroke="#d2d2d2" stroke-width="2.4"/>
<path d="M386.1 213.6C391.8 223.3 401.0 223.3 406.7 213.6C401.0 203.8 391.8 203.8 386.1 213.6Z" fill="#8e8e8e" stroke="#666" stroke-width="0.9"/>
<ellipse cx="396.4" cy="213.6" rx="3.7" ry="3.1" fill="#808080" fill-opacity="0.55"/>
<line x1="250.6" y1="234.1" x2="257.2" y2="234.1" stroke="#cfcfcf" stroke-width="1" stroke-opacity="0.7"/>
<line x1="234.1" y1="234.1" x2="227.5" y2="234.1" stroke="#cfcfcf" stroke-width="1" stroke-opacity="0.7"/>
<path d="M232.1 234.1C237.7 243.9 247.0 243.9 252.6 234.1C247.0 224.4 237.7 224.4 232.1 234.1Z" fill="none" stroke="#d2d2d2" stroke-width="2.4"/>
<path d="M232.1 234.1C237.7 243.9 247.0 243.9 252.6 234.1C247.0 224.4 237.7 224.4 232.1 234.1Z" fill="#8e8e8e" stroke="#666" stroke-width="0.9"/>
<ellipse cx="242.3" cy="234.1" rx="3.7" ry="3.1" fill="#808080" fill-opacity="0.55"/>
<line x1="275.2" y1="245.9" x2="282.8" y2="245.9" stroke="#cfcfcf" stroke-width="1" stroke-opacity="0.7"/>
<line x1="256.4" y1="245.9" x2="248.8" y2="245.9" stroke="#cfcfcf" stroke-width="1" stroke-opacity="0.7"/>
<path d="M254.1 245.9C260.5 255.6 271.1 255.6 277.6 245.9C271.1 236.1 260.5 236.1 254.1 245.9Z" fill="none" stroke="#d2d2d2" stroke-width="2.4"/>
<path d="M254.1 245.9C260.5 255.6 271.1 255.6 277.6 245.9C271.1 236.1 260.5 236.1 254.1 245.9Z" fill="#8e8e8e" stroke="#666" stroke-width="0.9"/>
<ellipse cx="265.8" cy="245.9" rx="3.7" ry="3.1" fill="#808080" fill-opacity="0.55"/>
<line x1="224.7" y1="248.8" x2="229.5" y2="248.8" stroke="#cfcfcf" stroke-width="1" stroke-opacity="0.7"/>
<line x1="213.0" y1="248.8" x2="208.2" y2="248.8" stroke="#cfcfcf" stroke-width="1" stroke-opacity="0.7"/>
<path d="M211.5 248.8C215.6 258.5 222.2 258.5 226.2 248.8C222.2 239.0 215.6 239.0 211.5 248.8Z" fill="none" stroke="#d2d2d2" stroke-width="2.4"/>
<path d="M211.5 248.8C215.6 258.5 222.2 258.5 226.2 248.8C222.2 239.0 215.6 239.0 211.5 248.8Z" fill="#8e8e8e" stroke="#666" stroke-width="0.9"/>
<ellipse cx="218.9" cy="248.8" rx="3.7" ry="3.1" fill="#808080" fill-opacity="0.55"/>
<line x1="339.5" y1="246.4" x2="347.0" y2="242.2" stroke="#cfcfcf" stroke-width="1" stroke-opacity="0.7"/>
<line x1="321.2" y1="257.0" x2="313.8" y2="261.3" stroke="#cfcfcf" stroke-width="1" stroke-opacity="0.7"/>
<path d="M318.9 258.3C330.1 263.1 340.4 257.2 341.8 245.1C330.6 240.3 320.3 246.2 318.9 258.3Z" fill="none" stroke="#d2d2d2" stroke-width="2.4"/>
<path d="M318.9 258.3C330.1 263.1 340.4 257.2 341.8 245.1C330.6 240.3 320.3 246.2 318.9 258.3Z" fill="#8e8e8e" stroke="#666" stroke-width="0.9"/>
<ellipse cx="330.4" cy="251.7" rx="3.7" ry="3.1" fill="#808080" fill-opacity="0.55"/>
<line x1="399.2" y1="232.7" x2="407.5" y2="237.4" stroke="#cfcfcf" stroke-width="1" stroke-opacity="0.7"/>
<line x1="378.9" y1="220.9" x2="370.6" y2="216.1" stroke="#cfcfcf" stroke-width="1" stroke-opacity="0.7"/>
<path d="M376.4 219.5C378.5 231.9 389.9 238.5 401.8 234.1C399.7 221.6 388.2 215.0 376.4 219.5Z" fill="none" stroke="#d2d2d2" stroke-width="2.4"/>
<path d="M376.4 219.5C378.5 231.9 389.9 238.5 401.8 234.1C399.7 221.6 388.2 215.0 376.4 219.5Z" fill="#8e8e8e" stroke="#666" stroke-width="0.9"/>
<ellipse cx="389.1" cy="226.8" rx="3.7" ry="3.1" fill="#808080" fill-opacity="0.55"/>
<line x1="233.0" y1="275.2" x2="239.6" y2="275.2" stroke="#cfcfcf" stroke-width="1" stroke-opacity="0.7"/>
<line x1="216.5" y1="275.2" x2="209.8" y2="275.2" stroke="#cfcfcf" stroke-width="1" stroke-opacity="0.7"/>
<path d="M214.5 275.2C220.1 286.9 229.4 286.9 235.0 275.2C229.4 263.5 220.1 263.5 214.5 275.2Z" fill="none" stroke="#d2d2d2" stroke-width="2.4"/>
<path d="M214.5 275.2C220.1 286.9 229.4 286.9 235.0 275.2C229.4 263.5 220.1 263.5 214.5 275.2Z" fill="#8e8e8e" stroke="#666" stroke-width="0.9"/>
<ellipse cx="224.7" cy="275.2" rx="4.4" ry="3.7" fill="#808080" fill-opacity="0.55"/>
<line x1="247.0" y1="288.4" x2="249.6" y2="295.6" stroke="#cfcfcf" stroke-width="1" stroke-opacity="0.7"/>
<line x1="240.6" y1="270.8" x2="238.0" y2="263.6" stroke="#cfcfcf" stroke-width="1" stroke-opacity="0.7"/>
<path d="M239.8 268.6C232.8 278.0 236.4 287.9 247.8 290.6C254.8 281.2 251.2 271.3 239.8 268.6Z" fill="none" stroke="#d2d2d2" stroke-width="2.4"/>
<path d="M239.8 268.6C232.8 278.0 236.4 287.9 247.8 290.6C254.8 281.2 251.2 271.3 239.8 268.6Z" fill="#8e8e8e" stroke="#666" stroke-width="0.9"/>
<ellipse cx="243.8" cy="279.6" rx="3.7" ry="3.1" fill="#808080" fill-opacity="0.55"/>
<line x1="275.8" y1="276.7" x2="281.5" y2="276.7" stroke="#cfcfcf" stroke-width="1" stroke-opacity="0.7"/>
<line x1="261.7" y1="276.7" x2="256.0" y2="276.7" stroke="#cfcfcf" stroke-width="1" stroke-opacity="0.7"/>
<path d="M259.9 276.7C264.8 286.4 272.7 286.4 277.6 276.7C272.7 266.9 264.8 266.9 259.9 276.7Z" fill="none" stroke="#d2d2d2" stroke-width="2.4"/>
<path d="M259.9 276.7C264.8 286.4 272.7 286.4 277.6 276.7C272.7 266.9 264.8 266.9 259.9 276.7Z" fill="#8e8e8e" stroke="#666" stroke-width="0.9"/>
<ellipse cx="268.8" cy="276.7" rx="3.7" ry="3.1" fill="#808080" fill-opacity="0.55"/>
<line x1="307.5" y1="284.0" x2="315.1" y2="284.0" stroke="#cfcfcf" stroke-width="1" stroke-opacity="0.7"/>
<line x1="288.7" y1="284.0" x2="281.1" y2="284.0" stroke="#cfcfcf" stroke-width="1" stroke-opacity="0.7"/>
<path d="M286.4 284.0C292.8 295.7 303.4 295.7 309.8 284.0C303.4 272.3 292.8 272.3 286.4 284.0Z" fill="none" stroke="#d2d2d2" stroke-width="2.4"/>
<path d="M286.4 284.0C292.8 295.7 303.4 295.7 309.8 284.0C303.4 272.3 292.8 272.3 286.4 284.0Z" fill="#8e8e8e" stroke="#666" stroke-width="0.9"/>
<ellipse cx="298.1" cy="284.0" rx="4.4" ry="3.7" fill="#808080" fill-opacity="0.55"/>
<line x1="326.8" y1="292.8" x2="333.5" y2="292.8" stroke="#cfcfcf" stroke-width="1" stroke-opacity="0.7"/>
<line x1="310.4" y1="292.8" x2="303.7" y2="292.8" stroke="#cfcfcf" stroke-width="1" stroke-opacity="0.7"/>
<path d="M308.4 292.8C314.0 304.5 323.3 304.5 328.9 292.8C323.3 281.1 314.0 281.1 308.4 292.8Z" fill="none" stroke="#d2d2d2" stroke-width="2.4"/>
<path d="M308.4 292.8C314.0 304.5 323.3 304.5 328.9 292.8C323.3 281.1 314.0 281.1 308.4 292.8Z" fill="#8e8e8e" stroke="#666" stroke-width="0.9"/>
<ellipse cx="318.6" cy="292.8" rx="4.4" ry="3.7" fill="#808080" fill-opacity="0.55"/>
<line x1="356.2" y1="293.2" x2="360.5" y2="300.6" stroke="#cfcfcf" stroke-width="1" stroke-opacity="0.7"/>
<line x1="345.6" y1="274.9" x2="341.3" y2="267.4" stroke="#cfcfcf" stroke-width="1" stroke-opacity="0.7"/>
<path d="M344.3 272.6C339.5 283.7 345.4 294.0 357.5 295.4C362.3 284.3 356.4 274.0 344.3 272.6Z" fill="none" stroke="#d2d2d2" stroke-width="2.4"/>
<path d="M344.3 272.6C339.5 283.7 345.4 294.0 357.5 295.4C362.3 284.3 356.4 274.0 344.3 272.6Z" fill="#8e8e8e" stroke="#666" stroke-width="0.9"/>
<ellipse cx="350.9" cy="284.0" rx="3.7" ry="3.1" fill="#808080" fill-opacity="0.55"/>
<line x1="386.7" y1="266.4" x2="394.3" y2="266.4" stroke="#cfcfcf" stroke-width="1" stroke-opacity="0.7"/>
<line x1="367.9" y1="266.4" x2="360.3" y2="266.4" stroke="#cfcfcf" stroke-width="1" stroke-opacity="0.7"/>
<path d="M365.6 266.4C372.0 278.1 382.6 278.1 389.1 266.4C382.6 254.7 372.0 254.7 365.6 266.4Z" fill="none" stroke="#d2d2d2" stroke-width="2.4"/>
<path d="M365.6 266.4C372.0 278.1 382.6 278.1 389.1 266.4C382.6 254.7 372.0 254.7 365.6 266.4Z" fill="#8e8e8e" stroke="#666" stroke-width="0.9"/>
<ellipse cx="377.3" cy="266.4" rx="4.4" ry="3.7" fill="#808080" fill-opacity="0.55"/>
<line x1="404.6" y1="278.1" x2="411.3" y2="278.1" stroke="#cfcfcf" stroke-width="1" stroke-opacity="0.7"/>
<line x1="388.2" y1="278.1" x2="381.5" y2="278.1" stroke="#cfcfcf" stroke-width="1" stroke-opacity="0.7"/>
<path d="M386.1 278.1C391.8 289.8 401.0 289.8 406.7 278.1C401.0 266.4 391.8 266.4 386.1 278.1Z" fill="none" stroke="#d2d2d2" stroke-width="2.4"/>
<path d="M386.1 278.1C391.8 289.8 401.0 289.8 406.7 278.1C401.0 266.4 391.8 266.4 386.1 278.1Z" fill="#8e8e8e" stroke="#666" stroke-width="0.9"/>
<ellipse cx="396.4" cy="278.1" rx="4.4" ry="3.7" fill="#808080" fill-opacity="0.55"/>
<line x1="318.0" y1="266.4" x2="324.7" y2="266.4" stroke="#cfcfcf" stroke-width="1" stroke-opacity="0.7"/>
<line x1="301.6" y1="266.4" x2="294.9" y2="266.4" stroke="#cfcfcf" stroke-width="1" stroke-opacity="0.7"/>
<path d="M299.6 266.4C305.2 274.2 314.5 274.2 320.1 266.4C314.5 258.6 305.2 258.6 299.6 266.4Z" fill="none" stroke="#d2d2d2" stroke-width="2.4"/>
<path d="M299.6 266.4C305.2 274.2 314.5 274.2 320.1 266.4C314.5 258.6 305.2 258.6 299.6 266.4Z" fill="#8e8e8e" stroke="#666" stroke-width="0.9"/>
<ellipse cx="309.8" cy="266.4" rx="2.9" ry="2.5" fill="#808080" fill-opacity="0.55"/>
<line x1="265.2" y1="298.7" x2="271.9" y2="298.7" stroke="#cfcfcf" stroke-width="1" stroke-opacity="0.7"/>
<line x1="248.8" y1="298.7" x2="242.1" y2="298.7" stroke="#cfcfcf" stroke-width="1" stroke-opacity="0.7"/>
<path d="M246.7 298.7C252.4 308.4 261.6 308.4 267.3 298.7C261.6 288.9 252.4 288.9 246.7 298.7Z" fill="none" stroke="#d2d2d2" stroke-width="2.4"/>
<path d="M246.7 298.7C252.4 308.4 261.6 308.4 267.3 298.7C261.6 288.9 252.4 288.9 246.7 298.7Z" fill="#8e8e8e" stroke="#666" stroke-width="0.9"/>
<ellipse cx="257.0" cy="298.7" rx="3.7" ry="3.1" fill="#808080" fill-opacity="0.55"/>
<line x1="379.7" y1="298.7" x2="386.3" y2="298.7" stroke="#cfcfcf" stroke-width="1" stroke-opacity="0.7"/>
<line x1="363.2" y1="298.7" x2="356.6" y2="298.7" stroke="#cfcfcf" stroke-width="1" stroke-opacity="0.7"/>
<path d="M361.2 298.7C366.8 308.4 376.1 308.4 381.7 298.7C376.1 288.9 366.8 288.9 361.2 298.7Z" fill="none" stroke="#d2d2d2" stroke-width="2.4"/>
<path d="M361.2 298.7C366.8 308.4 376.1 308.4 381.7 298.7C376.1 288.9 366.8 288.9 361.2 298.7Z" fill="#8e8e8e" stroke="#666" stroke-width="0.9"/>
<ellipse cx="371.5" cy="298.7" rx="3.7" ry="3.1" fill="#808080" fill-opacity="0.55"/>
<line x1="367.9" y1="72.7" x2="374.6" y2="72.7" stroke="#cfcfcf" stroke-width="1" stroke-opacity="0.7"/>
<line x1="351.5" y1="72.7" x2="344.8" y2="72.7" stroke="#cfcfcf" stroke-width="1" stroke-opacity="0.7"/>
<path d="M349.4 72.7C355.1 82.5 364.3 82.5 370.0 72.7C364.3 63.0 355.1 63.0 349.4 72.7Z" fill="none" stroke="#d2d2d2" stroke-width="2.4"/>
<path d="M349.4 72.7C355.1 82.5 364.3 82.5 370.0 72.7C364.3 63.0 355.1 63.0 349.4 72.7Z" fill="#8e8e8e" stroke="#666" stroke-width="0.9"/>
<ellipse cx="359.7" cy="72.7" rx="3.7" ry="3.1" fill="#808080" fill-opacity="0.55"/>
<line x1="331.5" y1="69.8" x2="337.3" y2="69.8" stroke="#cfcfcf" stroke-width="1" stroke-opacity="0.7"/>
<line x1="317.5" y1="69.8" x2="311.7" y2="69.8" stroke="#cfcfcf" stroke-width="1" stroke-opacity="0.7"/>
<path d="M315.7 69.8C320.5 77.6 328.5 77.6 333.3 69.8C328.5 62.0 320.5 62.0 315.7 69.8Z" fill="none" stroke="#d2d2d2" stroke-width="2.4"/>
<path d="M315.7 69.8C320.5 77.6 328.5 77.6 333.3 69.8C328.5 62.0 320.5 62.0 315.7 69.8Z" fill="#8e8e8e" stroke="#666" stroke-width="0.9"/>
<ellipse cx="324.5" cy="69.8" rx="2.9" ry="2.5" fill="#808080" fill-opacity="0.55"/>
<ellipse cx="333.3" cy="93.3" rx="9.3" ry="9.3" fill="none" stroke="#dcdcdc" stroke-width="1.5"/>
<ellipse cx="333.3" cy="93.3" rx="8.2" ry="8.2" fill="#868686" stroke="#505050" stroke-width="1.0"/>
<ellipse cx="381.7" cy="124.1" rx="9.9" ry="9.3" fill="none" stroke="#dcdcdc" stroke-width="1.5"/>
<ellipse cx="381.7" cy="124.1" rx="8.8" ry="8.2" fill="#868686" stroke="#505050" stroke-width="1.0"/>
<ellipse cx="380.3" cy="168.1" rx="9.0" ry="9.0" fill="none" stroke="#dcdcdc" stroke-width="1.5"/>
<ellipse cx="380.3" cy="168.1" rx="7.9" ry="7.9" fill="#868686" stroke="#505050" stroke-width="1.0"/>
<ellipse cx="339.8" cy="213.6" rx="8.4" ry="8.4" fill="none" stroke="#dcdcdc" stroke-width="1.5"/>
<ellipse cx="339.8" cy="213.6" rx="7.3" ry="7.3" fill="#868686" stroke="#505050" stroke-width="1.0"/>
<ellipse cx="300.4" cy="230.3" rx="6.4" ry="6.4" fill="none" stroke="#dcdcdc" stroke-width="1.5"/>
<ellipse cx="300.4" cy="230.3" rx="5.3" ry="5.3" fill="#868686" stroke="#505050" stroke-width="1.0"/>
<ellipse cx="309.8" cy="228.8" rx="6.4" ry="6.4" fill="none" stroke="#dcdcdc" stroke-width="1.5"/>
<ellipse cx="309.8" cy="228.8" rx="5.3" ry="5.3" fill="#868686" stroke="#505050" stroke-width="1.0"/>
<ellipse cx="384.1" cy="238.5" rx="8.4" ry="8.4" fill="none" stroke="#dcdcdc" stroke-width="1.5"/>
<ellipse cx="384.1" cy="238.5" rx="7.3" ry="7.3" fill="#868686" stroke="#505050" stroke-width="1.0"/>
<ellipse cx="299.6" cy="132.9" rx="7.0" ry="9.9" fill="none" stroke="#dcdcdc" stroke-width="1.5"/>
<ellipse cx="299.6" cy="132.9" rx="5.9" ry="8.8" fill="#868686" stroke="#505050" stroke-width="1.0"/>
<path d="M306.0 223.4 Q299.5 227.0 300.7 232.6" fill="none" stroke="#d2d2d2" stroke-width="1.1"/>
<path d="M306.9 224.3 Q300.4 227.9 301.6 233.5" fill="none" stroke="#6e6e6e" stroke-width="0.8"/>
<path d="M266.7 261.2 Q261.9 270.2 256.1 276.7" fill="none" stroke="#d2d2d2" stroke-width="1.1"/>
<path d="M267.6 262.1 Q262.8 271.1 257.0 277.6" fill="none" stroke="#6e6e6e" stroke-width="0.8"/>
<path d="M241.5 169.7 Q248.6 178.2 262.7 181.6" fill="none" stroke="#d2d2d2" stroke-width="1.1"/>
<path d="M242.4 170.6 Q249.5 179.1 263.6 182.5" fill="none" stroke="#6e6e6e" stroke-width="0.8"/>
<path d="M227.6 230.7 Q234.1 233.5 235.1 244.0" fill="none" stroke="#d2d2d2" stroke-width="1.1"/>
<path d="M228.5 231.6 Q235.0 234.4 236.0 244.9" fill="none" stroke="#6e6e6e" stroke-width="0.8"/>
<path d="M224.9 287.0 Q228.7 295.4 224.6 296.6" fill="none" stroke="#d2d2d2" stroke-width="1.1"/>
<path d="M225.8 287.9 Q229.6 296.3 225.5 297.5" fill="none" stroke="#6e6e6e" stroke-width="0.8"/>
<path d="M235.1 165.5 Q242.2 165.6 247.5 171.1" fill="none" stroke="#d2d2d2" stroke-width="1.1"/>
<path d="M236.0 166.4 Q243.1 166.5 248.4 172.0" fill="none" stroke="#6e6e6e" stroke-width="0.8"/>
<path d="M349.6 73.7 Q358.5 78.8 369.1 85.3" fill="none" stroke="#d2d2d2" stroke-width="1.1"/>
<path d="M350.5 74.6 Q359.4 79.7 370.0 86.2" fill="none" stroke="#6e6e6e" stroke-width="0.8"/>
<path d="M329.8 178.8 Q333.1 186.5 332.8 186.8" fill="none" stroke="#d2d2d2" stroke-width="1.1"/>
<path d="M330.7 179.7 Q334.0 187.4 333.7 187.7" fill="none" stroke="#6e6e6e" stroke-width="0.8"/>
<path d="M404.4 224.9 Q409.0 232.8 410.7 238.0" fill="none" stroke="#d2d2d2" stroke-width="1.1"/>
<path d="M405.3 225.8 Q409.9 233.7 411.6 238.9" fill="none" stroke="#6e6e6e" stroke-width="0.8"/>
<path d="M235.3 119.0 Q241.4 126.9 242.5 134.7" fill="none" stroke="#d2d2d2" stroke-width="1.1"/>
<path d="M236.2 119.9 Q242.3 127.8 243.4 135.6" fill="none" stroke="#6e6e6e" stroke-width="0.8"/>
<path d="M218.5 264.2 Q218.2 272.1 222.3 281.1" fill="none" stroke="#d2d2d2" stroke-width="1.1"/>
<path d="M219.4 265.1 Q219.1 273.0 223.2 282.0" fill="none" stroke="#6e6e6e" stroke-width="0.8"/>
<path d="M289.1 251.7 Q295.0 256.1 306.1 257.3" fill="none" stroke="#d2d2d2" stroke-width="1.1"/>
<path d="M290.0 252.6 Q295.9 257.0 307.0 258.2" fill="none" stroke="#6e6e6e" stroke-width="0.8"/>
<path d="M220.2 129.3 Q221.2 137.6 229.4 146.5" fill="none" stroke="#d2d2d2" stroke-width="1.1"/>
<path d="M221.1 130.2 Q222.1 138.5 230.3 147.4" fill="none" stroke="#6e6e6e" stroke-width="0.8"/>
<path d="M253.9 130.6 Q254.7 146.9 255.8 155.8" fill="none" stroke="#d2d2d2" stroke-width="1.1"/>
<path d="M254.8 131.5 Q255.6 147.8 256.7 156.7" fill="none" stroke="#6e6e6e" stroke-width="0.8"/>
<path d="M245.8 289.3 Q250.2 297.8 250.6 299.7" fill="none" stroke="#d2d2d2" stroke-width="1.1"/>
<path d="M246.7 290.2 Q251.1 298.7 251.5 300.6" fill="none" stroke="#6e6e6e" stroke-width="0.8"/>
<path d="M214.3 127.3 Q206.9 128.0 203.7 136.6" fill="none" stroke="#d2d2d2" stroke-width="1.1"/>
<path d="M215.2 128.2 Q207.8 128.9 204.6 137.5" fill="none" stroke="#6e6e6e" stroke-width="0.8"/>
<path d="M220.8 213.9 Q207.9 210.8 194.9 215.2" fill="none" stroke="#d2d2d2" stroke-width="1.1"/>
<path d="M221.7 214.8 Q208.8 211.7 195.8 216.1" fill="none" stroke="#6e6e6e" stroke-width="0.8"/>
<path d="M276.2 255.5 Q265.6 260.6 259.3 265.3" fill="none" stroke="#d2d2d2" stroke-width="1.1"/>
<path d="M277.1 256.4 Q266.5 261.5 260.2 266.2" fill="none" stroke="#6e6e6e" stroke-width="0.8"/>
<path d="M306.6 215.9 Q318.2 222.4 323.6 234.3" fill="none" stroke="#d2d2d2" stroke-width="1.1"/>
<path d="M307.5 216.8 Q319.1 223.3 324.5 235.2" fill="none" stroke="#6e6e6e" stroke-width="0.8"/>
<path d="M270.1 276.7 Q278.2 287.8 286.1 295.8" fill="none" stroke="#d2d2d2" stroke-width="1.1"/>
<path d="M271.0 277.6 Q279.1 288.7 287.0 296.7" fill="none" stroke="#6e6e6e" stroke-width="0.8"/>
<path d="M351.1 113.9 Q356.5 120.3 359.0 123.7" fill="none" stroke="#d2d2d2" stroke-width="1.1"/>
<path d="M352.0 114.8 Q357.4 121.2 359.9 124.6" fill="none" stroke="#6e6e6e" stroke-width="0.8"/>
<path d="M238.8 279.9 Q239.8 289.8 241.9 291.9" fill="none" stroke="#d2d2d2" stroke-width="1.1"/>
<path d="M239.7 280.8 Q240.7 290.7 242.8 292.8" fill="none" stroke="#6e6e6e" stroke-width="0.8"/>
<path d="M322.7 215.3 Q312.6 217.8 298.2 221.6" fill="none" stroke="#d2d2d2" stroke-width="1.1"/>
<path d="M323.6 216.2 Q313.5 218.7 299.1 222.5" fill="none" stroke="#6e6e6e" stroke-width="0.8"/>
<path d="M328.3 283.5 Q319.8 288.2 313.8 294.9" fill="none" stroke="#d2d2d2" stroke-width="1.1"/>
<path d="M329.2 284.4 Q320.7 289.1 314.7 295.8" fill="none" stroke="#6e6e6e" stroke-width="0.8"/>
<path d="M357.2 200.1 Q370.8 203.1 378.0 201.3" fill="none" stroke="#d2d2d2" stroke-width="1.1"/>
<path d="M358.1 201.0 Q371.7 204.0 378.9 202.2" fill="none" stroke="#6e6e6e" stroke-width="0.8"/>
<path d="M388.9 285.9 Q386.7 293.7 386.5 308.0" fill="none" stroke="#d2d2d2" stroke-width="1.1"/>
<path d="M389.8 286.8 Q387.6 294.6 387.4 308.9" fill="none" stroke="#6e6e6e" stroke-width="0.8"/>
<path d="M282.2 138.1 Q272.6 141.2 262.3 142.3" fill="none" stroke="#d2d2d2" stroke-width="1.1"/>
<path d="M283.1 139.0 Q273.5 142.1 263.2 143.2" fill="none" stroke="#6e6e6e" stroke-width="0.8"/>
<path d="M237.4 193.0 Q231.0 198.3 228.5 205.2" fill="none" stroke="#d2d2d2" stroke-width="1.1"/>
<path d="M238.3 193.9 Q231.9 199.2 229.4 206.1" fill="none" stroke="#6e6e6e" stroke-width="0.8"/>
<path d="M276.4 230.3 Q279.3 233.9 285.1 234.4" fill="none" stroke="#d2d2d2" stroke-width="1.1"/>
<path d="M277.3 231.2 Q280.2 234.8 286.0 235.3" fill="none" stroke="#6e6e6e" stroke-width="0.8"/>
<path d="M361.9 223.9 Q351.0 225.3 347.6 226.8" fill="none" stroke="#d2d2d2" stroke-width="1.1"/>
<path d="M362.8 224.8 Q351.9 226.2 348.5 227.7" fill="none" stroke="#6e6e6e" stroke-width="0.8"/>
<path d="M300.0 105.3 Q294.3 110.0 292.9 117.5" fill="none" stroke="#d2d2d2" stroke-width="1.1"/>
<path d="M300.9 106.2 Q295.2 110.9 293.8 118.4" fill="none" stroke="#6e6e6e" stroke-width="0.8"/>
<path d="M398.0 62.9 Q398.4 68.3 403.5 74.7" fill="none" stroke="#d2d2d2" stroke-width="1.1"/>
<path d="M398.9 63.8 Q399.3 69.2 404.4 75.6" fill="none" stroke="#6e6e6e" stroke-width="0.8"/>
<path d="M256.2 288.0 Q253.5 298.0 256.1 308.5" fill="none" stroke="#d2d2d2" stroke-width="1.1"/>
<path d="M257.1 288.9 Q254.4 298.9 257.0 309.4" fill="none" stroke="#6e6e6e" stroke-width="0.8"/>
<path d="M331.9 269.2 Q340.5 277.6 343.4 280.7" fill="none" stroke="#d2d2d2" stroke-width="1.1"/>
<path d="M332.8 270.1 Q341.4 278.5 344.3 281.6" fill="none" stroke="#6e6e6e" stroke-width="0.8"/>
<path d="M257.6 193.9 Q253.4 200.3 246.5 204.2" fill="none" stroke="#d2d2d2" stroke-width="1.1"/>
<path d="M258.5 194.8 Q254.3 201.2 247.4 205.1" fill="none" stroke="#6e6e6e" stroke-width="0.8"/>
<path d="M403.6 197.8 Q401.6 202.4 395.9 209.9" fill="none" stroke="#d2d2d2" stroke-width="1.1"/>
<path d="M404.5 198.7 Q402.5 203.3 396.8 210.8" fill="none" stroke="#6e6e6e" stroke-width="0.8"/>
<path d="M311.0 150.1 Q311.8 154.8 316.9 158.7" fill="none" stroke="#d2d2d2" stroke-width="1.1"/>
<path d="M311.9 151.0 Q312.7 155.7 317.8 159.6" fill="none" stroke="#6e6e6e" stroke-width="0.8"/>
<path d="M262.4 72.3 Q260.5 76.9 251.6 79.9" fill="none" stroke="#d2d2d2" stroke-width="1.1"/>
<path d="M263.3 73.2 Q261.4 77.8 252.5 80.8" fill="none" stroke="#6e6e6e" stroke-width="0.8"/>
<path d="M289.3 276.7 Q279.7 280.0 276.2 281.0" fill="none" stroke="#d2d2d2" stroke-width="1.1"/>
<path d="M290.2 277.6 Q280.6 280.9 277.1 281.9" fill="none" stroke="#6e6e6e" stroke-width="0.8"/>
<path d="M378.2 211.3 Q373.1 214.2 366.1 221.0" fill="none" stroke="#d2d2d2" stroke-width="1.1"/>
<path d="M379.1 212.2 Q374.0 215.1 367.0 221.9" fill="none" stroke="#6e6e6e" stroke-width="0.8"/>
<path d="M292.8 154.8 Q297.9 159.2 298.1 169.0" fill="none" stroke="#d2d2d2" stroke-width="1.1"/>
<path d="M293.7 155.7 Q298.8 160.1 299.0 169.9" fill="none" stroke="#6e6e6e" stroke-width="0.8"/>
<path d="M253.2 123.9 Q241.0 127.4 235.9 125.5" fill="none" stroke="#d2d2d2" stroke-width="1.1"/>
<path d="M254.1 124.8 Q241.9 128.3 236.8 126.4" fill="none" stroke="#6e6e6e" stroke-width="0.8"/>
<path d="M384.2 263.8 Q387.2 270.5 393.3 283.0" fill="none" stroke="#d2d2d2" stroke-width="1.1"/>
<path d="M385.1 264.7 Q388.1 271.4 394.2 283.9" fill="none" stroke="#6e6e6e" stroke-width="0.8"/>
<path d="M382.6 266.8 Q388.2 272.6 401.4 281.4" fill="none" stroke="#d2d2d2" stroke-width="1.1"/>
<path d="M383.5 267.7 Q389.1 273.5 402.3 282.3" fill="none" stroke="#6e6e6e" stroke-width="0.8"/>
<path d="M215.5 103.2 Q223.0 105.9 233.7 113.5" fill="none" stroke="#d2d2d2" stroke-width="1.1"/>
<path d="M216.4 104.1 Q223.9 106.8 234.6 114.4" fill="none" stroke="#6e6e6e" stroke-width="0.8"/>
<path d="M249.1 138.1 Q237.3 143.5 231.9 146.0" fill="none" stroke="#d2d2d2" stroke-width="1.1"/>
<path d="M250.0 139.0 Q238.2 144.4 232.8 146.9" fill="none" stroke="#6e6e6e" stroke-width="0.8"/>
<path d="M318.1 171.8 Q319.7 181.6 316.4 191.4" fill="none" stroke="#d2d2d2" stroke-width="1.1"/>
<path d="M319.0 172.7 Q320.6 182.5 317.3 192.3" fill="none" stroke="#6e6e6e" stroke-width="0.8"/>
<path d="M337.6 176.4 Q333.8 183.4 331.4 190.1" fill="none" stroke="#d2d2d2" stroke-width="1.1"/>
<path d="M338.5 177.3 Q334.7 184.3 332.3 191.0" fill="none" stroke="#6e6e6e" stroke-width="0.8"/>
<path d="M353.1 129.8 Q347.8 133.3 336.8 133.7" fill="none" stroke="#d2d2d2" stroke-width="1.1"/>
<path d="M354.0 130.7 Q348.7 134.2 337.7 134.6" fill="none" stroke="#6e6e6e" stroke-width="0.8"/>
<path d="M400.4 229.6 Q403.0 239.0 403.9 244.5" fill="none" stroke="#d2d2d2" stroke-width="1.1"/>
<path d="M401.3 230.5 Q403.9 239.9 404.8 245.4" fill="none" stroke="#6e6e6e" stroke-width="0.8"/>
<path d="M377.5 92.9 Q379.0 90.4 387.2 94.9" fill="none" stroke="#d2d2d2" stroke-width="1.1"/>
<path d="M378.4 93.8 Q379.9 91.3 388.1 95.8" fill="none" stroke="#6e6e6e" stroke-width="0.8"/>
<path d="M214.6 122.6 Q225.1 129.9 233.7 129.7" fill="none" stroke="#d2d2d2" stroke-width="1.1"/>
<path d="M215.5 123.5 Q226.0 130.8 234.6 130.6" fill="none" stroke="#6e6e6e" stroke-width="0.8"/>
<path d="M401.3 245.4 Q394.9 249.5 392.9 246.8" fill="none" stroke="#d2d2d2" stroke-width="1.1"/>
<path d="M402.2 246.3 Q395.8 250.4 393.8 247.7" fill="none" stroke="#6e6e6e" stroke-width="0.8"/>
<path d="M306.2 112.0 Q300.9 116.0 294.9 122.8" fill="none" stroke="#d2d2d2" stroke-width="1.1"/>
<path d="M307.1 112.9 Q301.8 116.9 295.8 123.7" fill="none" stroke="#6e6e6e" stroke-width="0.8"/>
<path d="M260.4 82.5 Q260.1 96.5 252.1 106.3" fill="none" stroke="#d2d2d2" stroke-width="1.1"/>
<path d="M261.3 83.4 Q261.0 97.4 253.0 107.2" fill="none" stroke="#6e6e6e" stroke-width="0.8"/>
<path d="M395.9 150.5 Q404.0 161.7 410.5 170.3" fill="none" stroke="#d2d2d2" stroke-width="1.1"/>
<path d="M396.8 151.4 Q404.9 162.6 411.4 171.2" fill="none" stroke="#6e6e6e" stroke-width="0.8"/>
<path d="M215.5 117.4 Q218.6 130.1 216.6 138.6" fill="none" stroke="#d2d2d2" stroke-width="1.1"/>
<path d="M216.4 118.3 Q219.5 131.0 217.5 139.5" fill="none" stroke="#6e6e6e" stroke-width="0.8"/>
<path d="M279.6 155.3 Q267.7 158.2 256.1 166.1" fill="none" stroke="#d2d2d2" stroke-width="1.1"/>
<path d="M280.5 156.2 Q268.6 159.1 257.0 167.0" fill="none" stroke="#6e6e6e" stroke-width="0.8"/>
<path d="M335.4 193.4 Q337.0 199.8 340.5 204.4" fill="none" stroke="#d2d2d2" stroke-width="1.1"/>
<path d="M336.3 194.3 Q337.9 200.7 341.4 205.3" fill="none" stroke="#6e6e6e" stroke-width="0.8"/>
<path d="M237.9 194.6 Q225.3 195.6 216.7 197.8" fill="none" stroke="#d2d2d2" stroke-width="1.1"/>
<path d="M238.8 195.5 Q226.2 196.5 217.6 198.7" fill="none" stroke="#6e6e6e" stroke-width="0.8"/>
<path d="M233.1 243.1 Q231.2 248.9 228.6 253.2" fill="none" stroke="#d2d2d2" stroke-width="1.1"/>
<path d="M234.0 244.0 Q232.1 249.8 229.5 254.1" fill="none" stroke="#6e6e6e" stroke-width="0.8"/>
<path d="M326.1 154.5 Q334.2 159.1 334.2 166.4" fill="none" stroke="#d2d2d2" stroke-width="1.1"/>
<path d="M327.0 155.4 Q335.1 160.0 335.1 167.3" fill="none" stroke="#6e6e6e" stroke-width="0.8"/>
<path d="M311.5 174.6 Q315.6 177.1 324.5 182.5" fill="none" stroke="#d2d2d2" stroke-width="1.1"/>
<path d="M312.4 175.5 Q316.5 178.0 325.4 183.4" fill="none" stroke="#6e6e6e" stroke-width="0.8"/>
<path d="M285.0 147.4 Q277.1 150.0 271.9 150.0" fill="none" stroke="#d2d2d2" stroke-width="1.1"/>
<path d="M285.9 148.3 Q278.0 150.9 272.8 150.9" fill="none" stroke="#6e6e6e" stroke-width="0.8"/>
<path d="M290.9 188.4 Q290.1 189.4 286.7 196.7" fill="none" stroke="#d2d2d2" stroke-width="1.1"/>
<path d="M291.8 189.3 Q291.0 190.3 287.6 197.6" fill="none" stroke="#6e6e6e" stroke-width="0.8"/>
<path d="M262.0 261.0 Q249.4 260.9 241.9 261.7" fill="none" stroke="#d2d2d2" stroke-width="1.1"/>
<path d="M262.9 261.9 Q250.3 261.8 242.8 262.6" fill="none" stroke="#6e6e6e" stroke-width="0.8"/>
<path d="M268.4 268.8 Q273.8 273.7 277.0 276.5" fill="none" stroke="#d2d2d2" stroke-width="1.1"/>
<path d="M269.3 269.7 Q274.7 274.6 277.9 277.4" fill="none" stroke="#6e6e6e" stroke-width="0.8"/>
<path d="M328.6 179.3 Q324.0 179.5 312.5 181.4" fill="none" stroke="#d2d2d2" stroke-width="1.1"/>
<path d="M329.5 180.2 Q324.9 180.4 313.4 182.3" fill="none" stroke="#6e6e6e" stroke-width="0.8"/>
<path d="M304.2 149.8 Q295.4 158.4 290.7 166.6" fill="none" stroke="#d2d2d2" stroke-width="1.1"/>
<path d="M305.1 150.7 Q296.3 159.3 291.6 167.5" fill="none" stroke="#6e6e6e" stroke-width="0.8"/>
<path d="M355.4 184.9 Q352.4 192.1 346.1 201.5" fill="none" stroke="#d2d2d2" stroke-width="1.1"/>
<path d="M356.3 185.8 Q353.3 193.0 347.0 202.4" fill="none" stroke="#6e6e6e" stroke-width="0.8"/>
<path d="M273.1 67.1 Q261.8 74.6 252.2 74.6" fill="none" stroke="#d2d2d2" stroke-width="1.1"/>
<path d="M274.0 68.0 Q262.7 75.5 253.1 75.5" fill="none" stroke="#6e6e6e" stroke-width="0.8"/>
<path d="M389.9 98.4 Q381.6 100.3 376.3 106.1" fill="none" stroke="#d2d2d2" stroke-width="1.1"/>
<path d="M390.8 99.3 Q382.5 101.2 377.2 107.0" fill="none" stroke="#6e6e6e" stroke-width="0.8"/>
<path d="M294.1 73.8 Q297.6 71.9 304.1 75.4" fill="none" stroke="#d2d2d2" stroke-width="1.1"/>
<path d="M295.0 74.7 Q298.5 72.8 305.0 76.3" fill="none" stroke="#6e6e6e" stroke-width="0.8"/>
<path d="M236.9 266.5 Q240.8 277.8 243.1 282.1" fill="none" stroke="#d2d2d2" stroke-width="1.1"/>
<path d="M237.8 267.4 Q241.7 278.7 244.0 283.0" fill="none" stroke="#6e6e6e" stroke-width="0.8"/>
<path d="M241.6 117.3 Q234.1 122.7 219.6 127.7" fill="none" stroke="#d2d2d2" stroke-width="1.1"/>
<path d="M242.5 118.2 Q235.0 123.6 220.5 128.6" fill="none" stroke="#6e6e6e" stroke-width="0.8"/>
<path d="M284.9 107.6 Q274.9 112.9 264.0 113.6" fill="none" stroke="#d2d2d2" stroke-width="1.1"/>
<path d="M285.8 108.5 Q275.8 113.8 264.9 114.5" fill="none" stroke="#6e6e6e" stroke-width="0.8"/>
<path d="M264.1 192.8 Q260.3 191.8 254.6 195.7" fill="none" stroke="#d2d2d2" stroke-width="1.1"/>
<path d="M265.0 193.7 Q261.2 192.7 255.5 196.6" fill="none" stroke="#6e6e6e" stroke-width="0.8"/>
<path d="M377.2 268.3 Q369.9 275.4 370.3 282.5" fill="none" stroke="#d2d2d2" stroke-width="1.1"/>
<path d="M378.1 269.2 Q370.8 276.3 371.2 283.4" fill="none" stroke="#6e6e6e" stroke-width="0.8"/>
<path d="M283.4 159.8 Q295.5 163.3 307.2 165.8" fill="none" stroke="#d2d2d2" stroke-width="1.1"/>
<path d="M284.3 160.7 Q296.4 164.2 308.1 166.7" fill="none" stroke="#6e6e6e" stroke-width="0.8"/>
<path d="M378.1 282.4 Q379.5 290.2 375.3 300.0" fill="none" stroke="#d2d2d2" stroke-width="1.1"/>
<path d="M379.0 283.3 Q380.4 291.1 376.2 300.9" fill="none" stroke="#6e6e6e" stroke-width="0.8"/>
<circle cx="389.5" cy="67.0" r="1.4" fill="#6a6a6a"/>
<circle cx="316.4" cy="214.7" r="1.6" fill="#6a6a6a"/>
<circle cx="256.1" cy="161.6" r="1.4" fill="#6a6a6a"/>
<circle cx="359.4" cy="190.5" r="1.4" fill="#6a6a6a"/>
<circle cx="345.7" cy="275.7" r="1.3" fill="#6a6a6a"/>
<circle cx="284.2" cy="131.8" r="0.9" fill="#6a6a6a"/>
<circle cx="237.2" cy="71.5" r="1.6" fill="#6a6a6a"/>
<circle cx="240.6" cy="209.9" r="0.9" fill="#6a6a6a"/>
<circle cx="402.4" cy="192.6" r="0.9" fill="#6a6a6a"/>
<circle cx="375.0" cy="273.4" r="1.6" fill="#6a6a6a"/>
<circle cx="256.8" cy="160.4" r="1.3" fill="#6a6a6a"/>
<circle cx="268.4" cy="201.6" r="1.4" fill="#6a6a6a"/>
<circle cx="360.3" cy="264.5" r="1.4" fill="#6a6a6a"/>
<circle cx="268.9" cy="247.6" r="1.1" fill="#6a6a6a"/>
<circle cx="246.2" cy="66.1" r="1.3" fill="#6a6a6a"/>
<circle cx="283.2" cy="84.2" r="1.2" fill="#6a6a6a"/>
<circle cx="294.3" cy="141.3" r="1.3" fill="#6a6a6a"/>
<circle cx="318.6" cy="191.9" r="1.6" fill="#6a6a6a"/>
<circle cx="390.3" cy="134.8" r="1.5" fill="#6a6a6a"/>
<circle cx="274.8" cy="292.4" r="0.8" fill="#6a6a6a"/>
<circle cx="275.3" cy="291.2" r="1.3" fill="#6a6a6a"/>
<circle cx="351.5" cy="111.5" r="0.9" fill="#6a6a6a"/>
<circle cx="401.1" cy="77.3" r="0.9" fill="#6a6a6a"/>
<circle cx="297.4" cy="263.3" r="1.3" fill="#6a6a6a"/>
<circle cx="408.7" cy="253.5" r="1.1" fill="#6a6a6a"/>
<circle cx="391.6" cy="139.2" r="0.8" fill="#6a6a6a"/>
<circle cx="401.0" cy="278.7" r="1.3" fill="#6a6a6a"/>
<circle cx="307.1" cy="111.3" r="1.0" fill="#6a6a6a"/>
<circle cx="226.2" cy="84.2" r="1.2" fill="#6a6a6a"/>
<circle cx="388.7" cy="291.3" r="1.2" fill="#6a6a6a"/>
<circle cx="345.0" cy="176.6" r="1.4" fill="#6a6a6a"/>
<circle cx="351.4" cy="304.3" r="1.5" fill="#6a6a6a"/>
<circle cx="345.9" cy="206.8" r="0.9" fill="#6a6a6a"/>
<circle cx="305.4" cy="171.6" r="0.9" fill="#6a6a6a"/>
<circle cx="252.5" cy="162.6" r="0.9" fill="#6a6a6a"/>
<circle cx="335.3" cy="142.0" r="1.6" fill="#6a6a6a"/>
<circle cx="347.1" cy="188.6" r="1.1" fill="#6a6a6a"/>
<circle cx="289.8" cy="110.5" r="1.6" fill="#6a6a6a"/>
<circle cx="392.1" cy="221.6" r="1.3" fill="#6a6a6a"/>
<circle cx="241.2" cy="194.8" r="0.9" fill="#6a6a6a"/>
<circle cx="276.6" cy="206.0" r="0.9" fill="#6a6a6a"/>
<circle cx="258.7" cy="241.4" r="1.2" fill="#6a6a6a"/>
<circle cx="387.4" cy="100.3" r="0.9" fill="#6a6a6a"/>
<circle cx="396.9" cy="211.4" r="1.4" fill="#6a6a6a"/>
<circle cx="322.0" cy="97.7" r="1.6" fill="#6a6a6a"/>
<circle cx="310.1" cy="285.6" r="0.9" fill="#6a6a6a"/>
<circle cx="266.9" cy="196.6" r="1.0" fill="#6a6a6a"/>
<circle cx="381.5" cy="125.4" r="0.9" fill="#6a6a6a"/>
<circle cx="244.9" cy="128.1" r="1.6" fill="#6a6a6a"/>
<circle cx="385.2" cy="226.4" r="1.1" fill="#6a6a6a"/>
<circle cx="221.1" cy="266.4" r="0.9" fill="#6a6a6a"/>
<circle cx="252.2" cy="168.5" r="1.5" fill="#6a6a6a"/>
<circle cx="248.8" cy="76.4" r="1.5" fill="#6a6a6a"/>
<circle cx="214.6" cy="242.4" r="0.9" fill="#6a6a6a"/>
<circle cx="271.6" cy="112.3" r="1.2" fill="#6a6a6a"/>
<circle cx="393.6" cy="268.5" r="1.2" fill="#6a6a6a"/>
<circle cx="230.2" cy="104.4" r="1.0" fill="#6a6a6a"/>
<circle cx="368.6" cy="287.2" r="0.8" fill="#6a6a6a"/>
<circle cx="278.5" cy="298.1" r="0.9" fill="#6a6a6a"/>
<circle cx="228.7" cy="126.7" r="1.5" fill="#6a6a6a"/>
<circle cx="264.6" cy="239.1" r="0.9" fill="#6a6a6a"/>
<circle cx="342.0" cy="102.8" r="1.3" fill="#6a6a6a"/>
<circle cx="358.5" cy="278.0" r="1.1" fill="#6a6a6a"/>
<circle cx="406.0" cy="161.4" r="1.6" fill="#6a6a6a"/>
<circle cx="392.1" cy="307.7" r="0.9" fill="#6a6a6a"/>
<circle cx="266.6" cy="232.9" r="1.5" fill="#6a6a6a"/>
<circle cx="263.3" cy="250.8" r="1.2" fill="#6a6a6a"/>
<circle cx="213.8" cy="82.0" r="0.8" fill="#6a6a6a"/>
<circle cx="257.8" cy="291.4" r="1.3" fill="#6a6a6a"/>
<circle cx="382.2" cy="287.3" r="1.1" fill="#6a6a6a"/>
<mask id="mk1"><path d="M269.5 74.3C263.7 88.6 265.7 110.9 273.9 124.0C279.7 109.7 277.7 87.4 269.5 74.3Z" fill="#fff"/><path d="M295.9 66.8C290.3 76.5 294.9 84.6 306.2 84.6C311.8 74.8 307.2 66.8 295.9 66.8Z" fill="#fff"/><path d="M281.2 114.9C290.6 121.9 300.5 118.2 303.3 106.9C293.9 99.9 283.9 103.5 281.2 114.9Z" fill="#fff"/><path d="M220.3 78.6C226.0 88.4 235.2 88.4 240.9 78.6C235.2 68.8 226.0 68.8 220.3 78.6Z" fill="#fff"/><path d="M230.9 107.1C243.7 114.8 261.9 111.6 271.4 100.0C258.6 92.3 240.3 95.5 230.9 107.1Z" fill="#fff"/><path d="M224.7 128.5C232.8 138.2 246.0 138.2 254.1 128.5C246.0 118.7 232.8 118.7 224.7 128.5Z" fill="#fff"/><path d="M213.0 140.2C218.6 150.0 227.9 150.0 233.5 140.2C227.9 130.5 218.6 130.5 213.0 140.2Z" fill="#fff"/><path d="M260.3 143.9C271.4 148.7 281.7 142.8 283.1 130.7C272.0 125.9 261.7 131.8 260.3 143.9Z" fill="#fff"/><path d="M321.6 134.4C329.6 150.0 342.8 150.0 350.9 134.4C342.8 118.7 329.6 118.7 321.6 134.4Z" fill="#fff"/><path d="M350.2 88.8C353.1 102.2 364.2 106.3 375.1 97.8C372.2 84.3 361.1 80.2 350.2 88.8Z" fill="#fff"/><path d="M393.5 84.5C398.3 96.2 406.2 96.2 411.1 84.5C406.2 72.8 398.3 72.8 393.5 84.5Z" fill="#fff"/><path d="M353.1 160.7C347.5 170.4 352.1 178.4 363.4 178.5C369.0 168.7 364.4 160.7 353.1 160.7Z" fill="#fff"/><path d="M337.4 162.4C329.9 169.4 331.5 178.5 341.0 182.6C348.4 175.6 346.8 166.5 337.4 162.4Z" fill="#fff"/><path d="M289.7 174.1C298.1 180.7 308.4 178.0 312.4 168.0C303.9 161.4 293.7 164.1 289.7 174.1Z" fill="#fff"/><path d="M239.4 160.8C245.9 170.5 256.4 170.5 262.9 160.8C256.4 151.0 245.9 151.0 239.4 160.8Z" fill="#fff"/><path d="M213.9 170.4C218.1 182.3 230.5 186.9 241.5 180.5C237.2 168.5 224.8 164.0 213.9 170.4Z" fill="#fff"/><path d="M263.1 185.1C267.9 194.7 278.3 196.5 286.2 189.2C281.3 179.6 270.9 177.8 263.1 185.1Z" fill="#fff"/><path d="M292.3 197.4C302.2 201.7 311.4 196.4 312.7 185.7C302.8 181.5 293.6 186.8 292.3 197.4Z" fill="#fff"/><path d="M233.5 206.2C240.0 216.0 250.6 216.0 257.0 206.2C250.6 196.5 240.0 196.5 233.5 206.2Z" fill="#fff"/><path d="M264.3 212.1C269.2 221.9 277.1 221.9 282.0 212.1C277.1 202.4 269.2 202.4 264.3 212.1Z" fill="#fff"/><path d="M296.6 209.2C303.1 218.9 313.6 218.9 320.1 209.2C313.6 199.4 303.1 199.4 296.6 209.2Z" fill="#fff"/><path d="M351.0 230.2C364.5 230.1 377.7 219.0 380.2 205.7C366.6 205.9 353.5 216.9 351.0 230.2Z" fill="#fff"/><path d="M392.0 198.9C396.8 208.7 404.8 208.7 409.6 198.9C404.8 189.2 396.8 189.2 392.0 198.9Z" fill="#fff"/><path d="M386.1 213.6C391.8 223.3 401.0 223.3 406.7 213.6C401.0 203.8 391.8 203.8 386.1 213.6Z" fill="#fff"/><path d="M232.1 234.1C237.7 243.9 247.0 243.9 252.6 234.1C247.0 224.4 237.7 224.4 232.1 234.1Z" fill="#fff"/><path d="M254.1 245.9C260.5 255.6 271.1 255.6 277.6 245.9C271.1 236.1 260.5 236.1 254.1 245.9Z" fill="#fff"/><path d="M211.5 248.8C215.6 258.5 222.2 258.5 226.2 248.8C222.2 239.0 215.6 239.0 211.5 248.8Z" fill="#fff"/><path d="M318.9 258.3C330.1 263.1 340.4 257.2 341.8 245.1C330.6 240.3 320.3 246.2 318.9 258.3Z" fill="#fff"/><path d="M376.4 219.5C378.5 231.9 389.9 238.5 401.8 234.1C399.7 221.6 388.2 215.0 376.4 219.5Z" fill="#fff"/><path d="M214.5 275.2C220.1 286.9 229.4 286.9 235.0 275.2C229.4 263.5 220.1 263.5 214.5 275.2Z" fill="#fff"/><path d="M239.8 268.6C232.8 278.0 236.4 287.9 247.8 290.6C254.8 281.2 251.2 271.3 239.8 268.6Z" fill="#fff"/><path d="M259.9 276.7C264.8 286.4 272.7 286.4 277.6 276.7C272.7 266.9 264.8 266.9 259.9 276.7Z" fill="#fff"/><path d="M286.4 284.0C292.8 295.7 303.4 295.7 309.8 284.0C303.4 272.3 292.8 272.3 286.4 284.0Z" fill="#fff"/><path d="M308.4 292.8C314.0 304.5 323.3 304.5 328.9 292.8C323.3 281.1 314.0 281.1 308.4 292.8Z" fill="#fff"/><path d="M344.3 272.6C339.5 283.7 345.4 294.0 357.5 295.4C362.3 284.3 356.4 274.0 344.3 272.6Z" fill="#fff"/><path d="M365.6 266.4C372.0 278.1 382.6 278.1 389.1 266.4C382.6 254.7 372.0 254.7 365.6 266.4Z" fill="#fff"/><path d="M386.1 278.1C391.8 289.8 401.0 289.8 406.7 278.1C401.0 266.4 391.8 266.4 386.1 278.1Z" fill="#fff"/><path d="M299.6 266.4C305.2 274.2 314.5 274.2 320.1 266.4C314.5 258.6 305.2 258.6 299.6 266.4Z" fill="#fff"/><path d="M246.7 298.7C252.4 308.4 261.6 308.4 267.3 298.7C261.6 288.9 252.4 288.9 246.7 298.7Z" fill="#fff"/><path d="M361.2 298.7C366.8 308.4 376.1 308.4 381.7 298.7C376.1 288.9 366.8 288.9 361.2 298.7Z" fill="#fff"/><path d="M349.4 72.7C355.1 82.5 364.3 82.5 370.0 72.7C364.3 63.0 355.1 63.0 349.4 72.7Z" fill="#fff"/><path d="M315.7 69.8C320.5 77.6 328.5 77.6 333.3 69.8C328.5 62.0 320.5 62.0 315.7 69.8Z" fill="#fff"/><ellipse cx="333.3" cy="93.3" rx="8.2" ry="8.2" fill="#fff"/><ellipse cx="381.7" cy="124.1" rx="8.8" ry="8.2" fill="#fff"/><ellipse cx="380.3" cy="168.1" rx="7.9" ry="7.9" fill="#fff"/><ellipse cx="339.8" cy="213.6" rx="7.3" ry="7.3" fill="#fff"/><ellipse cx="300.4" cy="230.3" rx="5.3" ry="5.3" fill="#fff"/><ellipse cx="309.8" cy="228.8" rx="5.3" ry="5.3" fill="#fff"/><ellipse cx="384.1" cy="238.5" rx="7.3" ry="7.3" fill="#fff"/><ellipse cx="299.6" cy="132.9" rx="5.9" ry="8.8" fill="#fff"/></mask>
<rect x="213" y="61" width="196" height="247" filter="url(#nz2)" opacity="0.35" mask="url(#mk1)"/>
<rect x="213" y="61" width="196" height="247" fill="url(#scan)"/>
</g>
<g clip-path="url(#cp2)">
<rect x="414" y="61" width="196" height="247" fill="#a0a0a0"/>
<rect x="414" y="61" width="196" height="247" filter="url(#nz)" opacity="0.10"/>
<line x1="467.3" y1="124.6" x2="470.5" y2="134.6" stroke="#cfcfcf" stroke-width="1" stroke-opacity="0.7"/>
<line x1="459.3" y1="100.1" x2="456.1" y2="90.1" stroke="#cfcfcf" stroke-width="1" stroke-opacity="0.7"/>
<path d="M458.3 97.0C454.4 107.6 458.9 121.4 468.3 127.7C472.2 117.1 467.7 103.3 458.3 97.0Z" fill="none" stroke="#d2d2d2" stroke-width="2.4"/>
<path d="M458.3 97.0C454.4 107.6 458.9 121.4 468.3 127.7C472.2 117.1 467.7 103.3 458.3 97.0Z" fill="#8b8b8b" stroke="#666" stroke-width="0.9"/>
<ellipse cx="463.3" cy="112.3" rx="2.6" ry="2.2" fill="#808080" fill-opacity="0.55"/>
<line x1="498.4" y1="95.6" x2="506.3" y2="101.1" stroke="#cfcfcf" stroke-width="1" stroke-opacity="0.7"/>
<line x1="479.2" y1="82.1" x2="471.4" y2="76.7" stroke="#cfcfcf" stroke-width="1" stroke-opacity="0.7"/>
<path d="M476.8 80.5C478.9 91.5 489.8 99.1 500.8 97.3C498.7 86.3 487.9 78.7 476.8 80.5Z" fill="none" stroke="#d2d2d2" stroke-width="2.4"/>
<path d="M476.8 80.5C478.9 91.5 489.8 99.1 500.8 97.3C498.7 86.3 487.9 78.7 476.8 80.5Z" fill="#8b8b8b" stroke="#666" stroke-width="0.9"/>
<ellipse cx="488.8" cy="88.9" rx="2.9" ry="2.5" fill="#808080" fill-opacity="0.55"/>
<line x1="549.2" y1="100.2" x2="561.3" y2="105.9" stroke="#cfcfcf" stroke-width="1" stroke-opacity="0.7"/>
<line x1="519.4" y1="86.3" x2="507.3" y2="80.7" stroke="#cfcfcf" stroke-width="1" stroke-opacity="0.7"/>
<path d="M515.7 84.6C522.3 97.2 539.1 105.0 552.9 102.0C546.3 89.4 529.6 81.6 515.7 84.6Z" fill="none" stroke="#d2d2d2" stroke-width="2.4"/>
<path d="M515.7 84.6C522.3 97.2 539.1 105.0 552.9 102.0C546.3 89.4 529.6 81.6 515.7 84.6Z" fill="#8b8b8b" stroke="#666" stroke-width="0.9"/>
<ellipse cx="534.3" cy="93.3" rx="3.2" ry="2.7" fill="#808080" fill-opacity="0.55"/>
<line x1="507.6" y1="125.4" x2="518.2" y2="133.6" stroke="#cfcfcf" stroke-width="1" stroke-opacity="0.7"/>
<line x1="481.7" y1="105.2" x2="471.2" y2="96.9" stroke="#cfcfcf" stroke-width="1" stroke-opacity="0.7"/>
<path d="M478.5 102.6C482.1 116.4 496.7 127.7 510.9 127.9C507.3 114.2 492.7 102.8 478.5 102.6Z" fill="none" stroke="#d2d2d2" stroke-width="2.4"/>
<path d="M478.5 102.6C482.1 116.4 496.7 127.7 510.9 127.9C507.3 114.2 492.7 102.8 478.5 102.6Z" fill="#8b8b8b" stroke="#666" stroke-width="0.9"/>
<ellipse cx="494.7" cy="115.3" rx="3.2" ry="2.7" fill="#808080" fill-opacity="0.55"/>
<line x1="575.4" y1="85.7" x2="582.6" y2="83.1" stroke="#cfcfcf" stroke-width="1" stroke-opacity="0.7"/>
<line x1="557.8" y1="92.1" x2="550.6" y2="94.7" stroke="#cfcfcf" stroke-width="1" stroke-opacity="0.7"/>
<path d="M555.6 92.9C565.0 99.9 574.9 96.2 577.6 84.9C568.2 77.9 558.3 81.5 555.6 92.9Z" fill="none" stroke="#d2d2d2" stroke-width="2.4"/>
<path d="M555.6 92.9C565.0 99.9 574.9 96.2 577.6 84.9C568.2 77.9 558.3 81.5 555.6 92.9Z" fill="#8b8b8b" stroke="#666" stroke-width="0.9"/>
<ellipse cx="566.6" cy="88.9" rx="3.7" ry="3.1" fill="#808080" fill-opacity="0.55"/>
<line x1="602.4" y1="81.5" x2="610.0" y2="81.5" stroke="#cfcfcf" stroke-width="1" stroke-opacity="0.7"/>
<line x1="583.6" y1="81.5" x2="576.0" y2="81.5" stroke="#cfcfcf" stroke-width="1" stroke-opacity="0.7"/>
<path d="M581.3 81.5C587.7 91.3 598.3 91.3 604.7 81.5C598.3 71.8 587.7 71.8 581.3 81.5Z" fill="none" stroke="#d2d2d2" stroke-width="2.4"/>
<path d="M581.3 81.5C587.7 91.3 598.3 91.3 604.7 81.5C598.3 71.8 587.7 71.8 581.3 81.5Z" fill="#8b8b8b" stroke="#666" stroke-width="0.9"/>
<ellipse cx="593.0" cy="81.5" rx="3.7" ry="3.1" fill="#808080" fill-opacity="0.55"/>
<line x1="610.3" y1="105.0" x2="616.0" y2="105.0" stroke="#cfcfcf" stroke-width="1" stroke-opacity="0.7"/>
<line x1="596.2" y1="105.0" x2="590.5" y2="105.0" stroke="#cfcfcf" stroke-width="1" stroke-opacity="0.7"/>
<path d="M594.5 105.0C599.3 116.7 607.2 116.7 612.1 105.0C607.2 93.3 599.3 93.3 594.5 105.0Z" fill="none" stroke="#d2d2d2" stroke-width="2.4"/>
<path d="M594.5 105.0C599.3 116.7 607.2 116.7 612.1 105.0C607.2 93.3 599.3 93.3 594.5 105.0Z" fill="#8b8b8b" stroke="#666" stroke-width="0.9"/>
<ellipse cx="603.3" cy="105.0" rx="4.4" ry="3.7" fill="#808080" fill-opacity="0.55"/>
<line x1="502.3" y1="150.5" x2="504.9" y2="157.7" stroke="#cfcfcf" stroke-width="1" stroke-opacity="0.7"/>
<line x1="495.9" y1="132.9" x2="493.3" y2="125.7" stroke="#cfcfcf" stroke-width="1" stroke-opacity="0.7"/>
<path d="M495.1 130.7C488.1 140.1 491.7 150.0 503.1 152.7C510.1 143.3 506.5 133.4 495.1 130.7Z" fill="none" stroke="#d2d2d2" stroke-width="2.4"/>
<path d="M495.1 130.7C488.1 140.1 491.7 150.0 503.1 152.7C510.1 143.3 506.5 133.4 495.1 130.7Z" fill="#8b8b8b" stroke="#666" stroke-width="0.9"/>
<ellipse cx="499.1" cy="141.7" rx="3.7" ry="3.1" fill="#808080" fill-opacity="0.55"/>
<line x1="541.1" y1="158.4" x2="550.2" y2="163.7" stroke="#cfcfcf" stroke-width="1" stroke-opacity="0.7"/>
<line x1="518.7" y1="145.5" x2="509.6" y2="140.3" stroke="#cfcfcf" stroke-width="1" stroke-opacity="0.7"/>
<path d="M515.9 143.9C519.3 155.8 531.9 163.0 543.9 160.0C540.5 148.2 527.9 140.9 515.9 143.9Z" fill="none" stroke="#d2d2d2" stroke-width="2.4"/>
<path d="M515.9 143.9C519.3 155.8 531.9 163.0 543.9 160.0C540.5 148.2 527.9 140.9 515.9 143.9Z" fill="#8b8b8b" stroke="#666" stroke-width="0.9"/>
<ellipse cx="529.9" cy="152.0" rx="3.2" ry="2.7" fill="#808080" fill-opacity="0.55"/>
<line x1="505.2" y1="157.2" x2="510.1" y2="154.4" stroke="#cfcfcf" stroke-width="1" stroke-opacity="0.7"/>
<line x1="493.0" y1="164.3" x2="488.0" y2="167.1" stroke="#cfcfcf" stroke-width="1" stroke-opacity="0.7"/>
<path d="M491.5 165.2C499.6 169.5 506.4 165.5 506.7 156.4C498.6 152.0 491.8 156.0 491.5 165.2Z" fill="none" stroke="#d2d2d2" stroke-width="2.4"/>
<path d="M491.5 165.2C499.6 169.5 506.4 165.5 506.7 156.4C498.6 152.0 491.8 156.0 491.5 165.2Z" fill="#8b8b8b" stroke="#666" stroke-width="0.9"/>
<ellipse cx="499.1" cy="160.8" rx="2.9" ry="2.5" fill="#808080" fill-opacity="0.55"/>
<line x1="478.3" y1="166.0" x2="479.3" y2="177.4" stroke="#cfcfcf" stroke-width="1" stroke-opacity="0.7"/>
<line x1="475.9" y1="137.9" x2="474.9" y2="126.5" stroke="#cfcfcf" stroke-width="1" stroke-opacity="0.7"/>
<path d="M475.6 134.4C469.4 144.7 470.8 160.5 478.6 169.5C484.8 159.2 483.4 143.5 475.6 134.4Z" fill="none" stroke="#d2d2d2" stroke-width="2.4"/>
<path d="M475.6 134.4C469.4 144.7 470.8 160.5 478.6 169.5C484.8 159.2 483.4 143.5 475.6 134.4Z" fill="#8b8b8b" stroke="#666" stroke-width="0.9"/>
<ellipse cx="477.1" cy="152.0" rx="2.6" ry="2.2" fill="#808080" fill-opacity="0.55"/>
<line x1="463.3" y1="140.2" x2="470.0" y2="140.2" stroke="#cfcfcf" stroke-width="1" stroke-opacity="0.7"/>
<line x1="446.9" y1="140.2" x2="440.2" y2="140.2" stroke="#cfcfcf" stroke-width="1" stroke-opacity="0.7"/>
<path d="M444.8 140.2C450.5 150.0 459.7 150.0 465.3 140.2C459.7 130.5 450.5 130.5 444.8 140.2Z" fill="none" stroke="#d2d2d2" stroke-width="2.4"/>
<path d="M444.8 140.2C450.5 150.0 459.7 150.0 465.3 140.2C459.7 130.5 450.5 130.5 444.8 140.2Z" fill="#8b8b8b" stroke="#666" stroke-width="0.9"/>
<ellipse cx="455.1" cy="140.2" rx="3.7" ry="3.1" fill="#808080" fill-opacity="0.55"/>
<line x1="432.4" y1="180.6" x2="434.2" y2="201.5" stroke="#cfcfcf" stroke-width="1" stroke-opacity="0.7"/>
<line x1="427.9" y1="129.2" x2="426.1" y2="108.3" stroke="#cfcfcf" stroke-width="1" stroke-opacity="0.7"/>
<path d="M427.3 122.7C419.2 141.3 421.7 170.2 433.0 187.1C441.1 168.5 438.6 139.6 427.3 122.7Z" fill="none" stroke="#d2d2d2" stroke-width="2.4"/>
<path d="M427.3 122.7C419.2 141.3 421.7 170.2 433.0 187.1C441.1 168.5 438.6 139.6 427.3 122.7Z" fill="#8b8b8b" stroke="#666" stroke-width="0.9"/>
<ellipse cx="430.1" cy="154.9" rx="3.7" ry="3.1" fill="#808080" fill-opacity="0.55"/>
<line x1="441.7" y1="119.4" x2="447.4" y2="122.7" stroke="#cfcfcf" stroke-width="1" stroke-opacity="0.7"/>
<line x1="427.4" y1="111.2" x2="421.6" y2="107.8" stroke="#cfcfcf" stroke-width="1" stroke-opacity="0.7"/>
<path d="M425.6 110.1C425.7 121.4 433.7 126.0 443.4 120.4C443.4 109.1 435.4 104.5 425.6 110.1Z" fill="none" stroke="#d2d2d2" stroke-width="2.4"/>
<path d="M425.6 110.1C425.7 121.4 433.7 126.0 443.4 120.4C443.4 109.1 435.4 104.5 425.6 110.1Z" fill="#8b8b8b" stroke="#666" stroke-width="0.9"/>
<ellipse cx="434.5" cy="115.3" rx="3.7" ry="3.1" fill="#808080" fill-opacity="0.55"/>
<line x1="469.3" y1="201.0" x2="471.2" y2="212.3" stroke="#cfcfcf" stroke-width="1" stroke-opacity="0.7"/>
<line x1="464.4" y1="173.3" x2="462.4" y2="162.0" stroke="#cfcfcf" stroke-width="1" stroke-opacity="0.7"/>
<path d="M463.8 169.8C458.5 180.6 461.3 196.2 469.9 204.5C475.1 193.8 472.4 178.2 463.8 169.8Z" fill="none" stroke="#d2d2d2" stroke-width="2.4"/>
<path d="M463.8 169.8C458.5 180.6 461.3 196.2 469.9 204.5C475.1 193.8 472.4 178.2 463.8 169.8Z" fill="#8b8b8b" stroke="#666" stroke-width="0.9"/>
<ellipse cx="466.8" cy="187.2" rx="2.6" ry="2.2" fill="#808080" fill-opacity="0.55"/>
<line x1="519.0" y1="184.2" x2="525.7" y2="184.2" stroke="#cfcfcf" stroke-width="1" stroke-opacity="0.7"/>
<line x1="502.6" y1="184.2" x2="495.9" y2="184.2" stroke="#cfcfcf" stroke-width="1" stroke-opacity="0.7"/>
<path d="M500.6 184.2C506.2 195.9 515.5 195.9 521.1 184.2C515.5 172.5 506.2 172.5 500.6 184.2Z" fill="none" stroke="#d2d2d2" stroke-width="2.4"/>
<path d="M500.6 184.2C506.2 195.9 515.5 195.9 521.1 184.2C515.5 172.5 506.2 172.5 500.6 184.2Z" fill="#8b8b8b" stroke="#666" stroke-width="0.9"/>
<ellipse cx="510.8" cy="184.2" rx="4.4" ry="3.7" fill="#808080" fill-opacity="0.55"/>
<line x1="534.7" y1="172.4" x2="541.0" y2="174.7" stroke="#cfcfcf" stroke-width="1" stroke-opacity="0.7"/>
<line x1="519.2" y1="166.8" x2="513.0" y2="164.5" stroke="#cfcfcf" stroke-width="1" stroke-opacity="0.7"/>
<path d="M517.3 166.1C519.3 177.2 528.0 180.3 536.6 173.1C534.6 162.0 526.0 158.8 517.3 166.1Z" fill="none" stroke="#d2d2d2" stroke-width="2.4"/>
<path d="M517.3 166.1C519.3 177.2 528.0 180.3 536.6 173.1C534.6 162.0 526.0 158.8 517.3 166.1Z" fill="#8b8b8b" stroke="#666" stroke-width="0.9"/>
<ellipse cx="527.0" cy="169.6" rx="3.7" ry="3.1" fill="#808080" fill-opacity="0.55"/>
<line x1="544.1" y1="189.1" x2="550.8" y2="182.4" stroke="#cfcfcf" stroke-width="1" stroke-opacity="0.7"/>
<line x1="527.5" y1="205.7" x2="520.7" y2="212.5" stroke="#cfcfcf" stroke-width="1" stroke-opacity="0.7"/>
<path d="M525.4 207.8C536.6 207.6 546.0 198.3 546.1 187.1C534.9 187.3 525.6 196.6 525.4 207.8Z" fill="none" stroke="#d2d2d2" stroke-width="2.4"/>
<path d="M525.4 207.8C536.6 207.6 546.0 198.3 546.1 187.1C534.9 187.3 525.6 196.6 525.4 207.8Z" fill="#8b8b8b" stroke="#666" stroke-width="0.9"/>
<ellipse cx="535.8" cy="197.4" rx="2.9" ry="2.5" fill="#808080" fill-opacity="0.55"/>
<line x1="577.7" y1="160.8" x2="584.4" y2="160.8" stroke="#cfcfcf" stroke-width="1" stroke-opacity="0.7"/>
<line x1="561.3" y1="160.8" x2="554.6" y2="160.8" stroke="#cfcfcf" stroke-width="1" stroke-opacity="0.7"/>
<path d="M559.2 160.8C564.9 172.5 574.1 172.5 579.8 160.8C574.1 149.1 564.9 149.1 559.2 160.8Z" fill="none" stroke="#d2d2d2" stroke-width="2.4"/>
<path d="M559.2 160.8C564.9 172.5 574.1 172.5 579.8 160.8C574.1 149.1 564.9 149.1 559.2 160.8Z" fill="#8b8b8b" stroke="#666" stroke-width="0.9"/>
<ellipse cx="569.5" cy="160.8" rx="4.4" ry="3.7" fill="#808080" fill-opacity="0.55"/>
<line x1="598.6" y1="171.0" x2="604.3" y2="171.0" stroke="#cfcfcf" stroke-width="1" stroke-opacity="0.7"/>
<line x1="584.5" y1="171.0" x2="578.8" y2="171.0" stroke="#cfcfcf" stroke-width="1" stroke-opacity="0.7"/>
<path d="M582.7 171.0C587.6 180.8 595.5 180.8 600.3 171.0C595.5 161.3 587.6 161.3 582.7 171.0Z" fill="none" stroke="#d2d2d2" stroke-width="2.4"/>
<path d="M582.7 171.0C587.6 180.8 595.5 180.8 600.3 171.0C595.5 161.3 587.6 161.3 582.7 171.0Z" fill="#8b8b8b" stroke="#666" stroke-width="0.9"/>
<ellipse cx="591.5" cy="171.0" rx="3.7" ry="3.1" fill="#808080" fill-opacity="0.55"/>
<line x1="609.1" y1="154.9" x2="613.9" y2="154.9" stroke="#cfcfcf" stroke-width="1" stroke-opacity="0.7"/>
<line x1="597.4" y1="154.9" x2="592.6" y2="154.9" stroke="#cfcfcf" stroke-width="1" stroke-opacity="0.7"/>
<path d="M595.9 154.9C600.0 164.7 606.6 164.7 610.6 154.9C606.6 145.1 600.0 145.1 595.9 154.9Z" fill="none" stroke="#d2d2d2" stroke-width="2.4"/>
<path d="M595.9 154.9C600.0 164.7 606.6 164.7 610.6 154.9C606.6 145.1 600.0 145.1 595.9 154.9Z" fill="#8b8b8b" stroke="#666" stroke-width="0.9"/>
<ellipse cx="603.3" cy="154.9" rx="3.7" ry="3.1" fill="#808080" fill-opacity="0.55"/>
<line x1="595.3" y1="204.8" x2="602.0" y2="204.8" stroke="#cfcfcf" stroke-width="1" stroke-opacity="0.7"/>
<line x1="578.9" y1="204.8" x2="572.2" y2="204.8" stroke="#cfcfcf" stroke-width="1" stroke-opacity="0.7"/>
<path d="M576.9 204.8C582.5 216.5 591.7 216.5 597.4 204.8C591.7 193.1 582.5 193.1 576.9 204.8Z" fill="none" stroke="#d2d2d2" stroke-width="2.4"/>
<path d="M576.9 204.8C582.5 216.5 591.7 216.5 597.4 204.8C591.7 193.1 582.5 193.1 576.9 204.8Z" fill="#8b8b8b" stroke="#666" stroke-width="0.9"/>
<ellipse cx="587.1" cy="204.8" rx="4.4" ry="3.7" fill="#808080" fill-opacity="0.55"/>
<line x1="556.9" y1="211.5" x2="563.4" y2="209.7" stroke="#cfcfcf" stroke-width="1" stroke-opacity="0.7"/>
<line x1="541.0" y1="215.7" x2="534.6" y2="217.4" stroke="#cfcfcf" stroke-width="1" stroke-opacity="0.7"/>
<path d="M539.1 216.2C546.7 223.1 555.7 220.7 558.9 210.9C551.2 204.1 542.3 206.5 539.1 216.2Z" fill="none" stroke="#d2d2d2" stroke-width="2.4"/>
<path d="M539.1 216.2C546.7 223.1 555.7 220.7 558.9 210.9C551.2 204.1 542.3 206.5 539.1 216.2Z" fill="#8b8b8b" stroke="#666" stroke-width="0.9"/>
<ellipse cx="549.0" cy="213.6" rx="3.2" ry="2.7" fill="#808080" fill-opacity="0.55"/>
<line x1="484.1" y1="226.8" x2="489.9" y2="226.8" stroke="#cfcfcf" stroke-width="1" stroke-opacity="0.7"/>
<line x1="470.0" y1="226.8" x2="464.3" y2="226.8" stroke="#cfcfcf" stroke-width="1" stroke-opacity="0.7"/>
<path d="M468.3 226.8C473.1 236.5 481.0 236.5 485.9 226.8C481.0 217.0 473.1 217.0 468.3 226.8Z" fill="none" stroke="#d2d2d2" stroke-width="2.4"/>
<path d="M468.3 226.8C473.1 236.5 481.0 236.5 485.9 226.8C481.0 217.0 473.1 217.0 468.3 226.8Z" fill="#8b8b8b" stroke="#666" stroke-width="0.9"/>
<ellipse cx="477.1" cy="226.8" rx="3.7" ry="3.1" fill="#808080" fill-opacity="0.55"/>
<line x1="583.9" y1="240.0" x2="589.6" y2="240.0" stroke="#cfcfcf" stroke-width="1" stroke-opacity="0.7"/>
<line x1="569.8" y1="240.0" x2="564.1" y2="240.0" stroke="#cfcfcf" stroke-width="1" stroke-opacity="0.7"/>
<path d="M568.0 240.0C572.9 249.7 580.8 249.7 585.7 240.0C580.8 230.2 572.9 230.2 568.0 240.0Z" fill="none" stroke="#d2d2d2" stroke-width="2.4"/>
<path d="M568.0 240.0C572.9 249.7 580.8 249.7 585.7 240.0C580.8 230.2 572.9 230.2 568.0 240.0Z" fill="#8b8b8b" stroke="#666" stroke-width="0.9"/>
<ellipse cx="576.9" cy="240.0" rx="3.7" ry="3.1" fill="#808080" fill-opacity="0.55"/>
<line x1="528.8" y1="241.6" x2="535.1" y2="239.3" stroke="#cfcfcf" stroke-width="1" stroke-opacity="0.7"/>
<line x1="513.4" y1="247.2" x2="507.1" y2="249.5" stroke="#cfcfcf" stroke-width="1" stroke-opacity="0.7"/>
<path d="M511.5 247.9C519.7 254.0 528.4 250.9 530.8 240.9C522.5 234.7 513.8 237.9 511.5 247.9Z" fill="none" stroke="#d2d2d2" stroke-width="2.4"/>
<path d="M511.5 247.9C519.7 254.0 528.4 250.9 530.8 240.9C522.5 234.7 513.8 237.9 511.5 247.9Z" fill="#8b8b8b" stroke="#666" stroke-width="0.9"/>
<ellipse cx="521.1" cy="244.4" rx="3.2" ry="2.7" fill="#808080" fill-opacity="0.55"/>
<line x1="484.6" y1="257.2" x2="496.7" y2="262.8" stroke="#cfcfcf" stroke-width="1" stroke-opacity="0.7"/>
<line x1="454.9" y1="243.3" x2="442.8" y2="237.7" stroke="#cfcfcf" stroke-width="1" stroke-opacity="0.7"/>
<path d="M451.1 241.6C457.7 254.1 474.5 261.9 488.4 258.9C481.8 246.4 465.0 238.6 451.1 241.6Z" fill="none" stroke="#d2d2d2" stroke-width="2.4"/>
<path d="M451.1 241.6C457.7 254.1 474.5 261.9 488.4 258.9C481.8 246.4 465.0 238.6 451.1 241.6Z" fill="#8b8b8b" stroke="#666" stroke-width="0.9"/>
<ellipse cx="469.8" cy="250.3" rx="3.2" ry="2.7" fill="#808080" fill-opacity="0.55"/>
<line x1="443.3" y1="216.5" x2="452.9" y2="216.5" stroke="#cfcfcf" stroke-width="1" stroke-opacity="0.7"/>
<line x1="419.9" y1="216.5" x2="410.3" y2="216.5" stroke="#cfcfcf" stroke-width="1" stroke-opacity="0.7"/>
<path d="M416.9 216.5C425.0 226.3 438.2 226.3 446.3 216.5C438.2 206.8 425.0 206.8 416.9 216.5Z" fill="none" stroke="#d2d2d2" stroke-width="2.4"/>
<path d="M416.9 216.5C425.0 226.3 438.2 226.3 446.3 216.5C438.2 206.8 425.0 206.8 416.9 216.5Z" fill="#8b8b8b" stroke="#666" stroke-width="0.9"/>
<ellipse cx="431.6" cy="216.5" rx="3.7" ry="3.1" fill="#808080" fill-opacity="0.55"/>
<line x1="440.1" y1="257.6" x2="445.8" y2="257.6" stroke="#cfcfcf" stroke-width="1" stroke-opacity="0.7"/>
<line x1="426.0" y1="257.6" x2="420.3" y2="257.6" stroke="#cfcfcf" stroke-width="1" stroke-opacity="0.7"/>
<path d="M424.3 257.6C429.1 271.3 437.0 271.3 441.9 257.6C437.0 243.9 429.1 243.9 424.3 257.6Z" fill="none" stroke="#d2d2d2" stroke-width="2.4"/>
<path d="M424.3 257.6C429.1 271.3 437.0 271.3 441.9 257.6C437.0 243.9 429.1 243.9 424.3 257.6Z" fill="#8b8b8b" stroke="#666" stroke-width="0.9"/>
<ellipse cx="433.1" cy="257.6" rx="4.4" ry="3.7" fill="#808080" fill-opacity="0.55"/>
<line x1="485.3" y1="270.8" x2="492.0" y2="270.8" stroke="#cfcfcf" stroke-width="1" stroke-opacity="0.7"/>
<line x1="468.9" y1="270.8" x2="462.2" y2="270.8" stroke="#cfcfcf" stroke-width="1" stroke-opacity="0.7"/>
<path d="M466.8 270.8C472.5 280.6 481.7 280.6 487.4 270.8C481.7 261.0 472.5 261.0 466.8 270.8Z" fill="none" stroke="#d2d2d2" stroke-width="2.4"/>
<path d="M466.8 270.8C472.5 280.6 481.7 280.6 487.4 270.8C481.7 261.0 472.5 261.0 466.8 270.8Z" fill="#8b8b8b" stroke="#666" stroke-width="0.9"/>
<ellipse cx="477.1" cy="270.8" rx="3.7" ry="3.1" fill="#808080" fill-opacity="0.55"/>
<line x1="517.3" y1="278.1" x2="524.9" y2="278.1" stroke="#cfcfcf" stroke-width="1" stroke-opacity="0.7"/>
<line x1="498.5" y1="278.1" x2="490.9" y2="278.1" stroke="#cfcfcf" stroke-width="1" stroke-opacity="0.7"/>
<path d="M496.2 278.1C502.6 287.9 513.2 287.9 519.6 278.1C513.2 268.4 502.6 268.4 496.2 278.1Z" fill="none" stroke="#d2d2d2" stroke-width="2.4"/>
<path d="M496.2 278.1C502.6 287.9 513.2 287.9 519.6 278.1C513.2 268.4 502.6 268.4 496.2 278.1Z" fill="#8b8b8b" stroke="#666" stroke-width="0.9"/>
<ellipse cx="507.9" cy="278.1" rx="3.7" ry="3.1" fill="#808080" fill-opacity="0.55"/>
<line x1="561.3" y1="266.4" x2="568.9" y2="266.4" stroke="#cfcfcf" stroke-width="1" stroke-opacity="0.7"/>
<line x1="542.5" y1="266.4" x2="534.9" y2="266.4" stroke="#cfcfcf" stroke-width="1" stroke-opacity="0.7"/>
<path d="M540.2 266.4C546.6 274.2 557.2 274.2 563.6 266.4C557.2 258.6 546.6 258.6 540.2 266.4Z" fill="none" stroke="#d2d2d2" stroke-width="2.4"/>
<path d="M540.2 266.4C546.6 274.2 557.2 274.2 563.6 266.4C557.2 258.6 546.6 258.6 540.2 266.4Z" fill="#8b8b8b" stroke="#666" stroke-width="0.9"/>
<ellipse cx="551.9" cy="266.4" rx="2.9" ry="2.5" fill="#808080" fill-opacity="0.55"/>
<line x1="603.9" y1="261.0" x2="615.2" y2="259.0" stroke="#cfcfcf" stroke-width="1" stroke-opacity="0.7"/>
<line x1="576.2" y1="265.9" x2="564.9" y2="267.9" stroke="#cfcfcf" stroke-width="1" stroke-opacity="0.7"/>
<path d="M572.7 266.5C583.9 274.4 599.6 271.7 607.4 260.4C596.2 252.5 580.6 255.2 572.7 266.5Z" fill="none" stroke="#d2d2d2" stroke-width="2.4"/>
<path d="M572.7 266.5C583.9 274.4 599.6 271.7 607.4 260.4C596.2 252.5 580.6 255.2 572.7 266.5Z" fill="#8b8b8b" stroke="#666" stroke-width="0.9"/>
<ellipse cx="590.1" cy="263.5" rx="3.7" ry="3.1" fill="#808080" fill-opacity="0.55"/>
<line x1="586.3" y1="293.9" x2="589.3" y2="302.0" stroke="#cfcfcf" stroke-width="1" stroke-opacity="0.7"/>
<line x1="579.1" y1="274.1" x2="576.2" y2="266.0" stroke="#cfcfcf" stroke-width="1" stroke-opacity="0.7"/>
<path d="M578.2 271.6C573.4 281.1 577.4 292.3 587.2 296.4C592.1 286.9 588.0 275.8 578.2 271.6Z" fill="none" stroke="#d2d2d2" stroke-width="2.4"/>
<path d="M578.2 271.6C573.4 281.1 577.4 292.3 587.2 296.4C592.1 286.9 588.0 275.8 578.2 271.6Z" fill="#8b8b8b" stroke="#666" stroke-width="0.9"/>
<ellipse cx="582.7" cy="284.0" rx="2.9" ry="2.5" fill="#808080" fill-opacity="0.55"/>
<line x1="609.1" y1="272.3" x2="613.9" y2="272.3" stroke="#cfcfcf" stroke-width="1" stroke-opacity="0.7"/>
<line x1="597.4" y1="272.3" x2="592.6" y2="272.3" stroke="#cfcfcf" stroke-width="1" stroke-opacity="0.7"/>
<path d="M595.9 272.3C600.0 284.0 606.6 284.0 610.6 272.3C606.6 260.6 600.0 260.6 595.9 272.3Z" fill="none" stroke="#d2d2d2" stroke-width="2.4"/>
<path d="M595.9 272.3C600.0 284.0 606.6 284.0 610.6 272.3C606.6 260.6 600.0 260.6 595.9 272.3Z" fill="#8b8b8b" stroke="#666" stroke-width="0.9"/>
<ellipse cx="603.3" cy="272.3" rx="3.7" ry="3.1" fill="#808080" fill-opacity="0.55"/>
<line x1="609.1" y1="234.1" x2="613.9" y2="234.1" stroke="#cfcfcf" stroke-width="1" stroke-opacity="0.7"/>
<line x1="597.4" y1="234.1" x2="592.6" y2="234.1" stroke="#cfcfcf" stroke-width="1" stroke-opacity="0.7"/>
<path d="M595.9 234.1C600.0 245.8 606.6 245.8 610.6 234.1C606.6 222.4 600.0 222.4 595.9 234.1Z" fill="none" stroke="#d2d2d2" stroke-width="2.4"/>
<path d="M595.9 234.1C600.0 245.8 606.6 245.8 610.6 234.1C606.6 222.4 600.0 222.4 595.9 234.1Z" fill="#8b8b8b" stroke="#666" stroke-width="0.9"/>
<ellipse cx="603.3" cy="234.1" rx="3.7" ry="3.1" fill="#808080" fill-opacity="0.55"/>
<line x1="432.8" y1="196.0" x2="438.5" y2="196.0" stroke="#cfcfcf" stroke-width="1" stroke-opacity="0.7"/>
<line x1="418.7" y1="196.0" x2="413.0" y2="196.0" stroke="#cfcfcf" stroke-width="1" stroke-opacity="0.7"/>
<path d="M416.9 196.0C421.8 205.7 429.7 205.7 434.5 196.0C429.7 186.2 421.8 186.2 416.9 196.0Z" fill="none" stroke="#d2d2d2" stroke-width="2.4"/>
<path d="M416.9 196.0C421.8 205.7 429.7 205.7 434.5 196.0C429.7 186.2 421.8 186.2 416.9 196.0Z" fill="#8b8b8b" stroke="#666" stroke-width="0.9"/>
<ellipse cx="425.7" cy="196.0" rx="3.7" ry="3.1" fill="#808080" fill-opacity="0.55"/>
<line x1="529.0" y1="114.0" x2="531.9" y2="119.0" stroke="#cfcfcf" stroke-width="1" stroke-opacity="0.7"/>
<line x1="522.0" y1="101.8" x2="519.1" y2="96.9" stroke="#cfcfcf" stroke-width="1" stroke-opacity="0.7"/>
<path d="M521.1 100.3C517.4 108.0 521.4 114.9 529.9 115.6C533.6 107.9 529.6 101.0 521.1 100.3Z" fill="none" stroke="#d2d2d2" stroke-width="2.4"/>
<path d="M521.1 100.3C517.4 108.0 521.4 114.9 529.9 115.6C533.6 107.9 529.6 101.0 521.1 100.3Z" fill="#8b8b8b" stroke="#666" stroke-width="0.9"/>
<ellipse cx="525.5" cy="107.9" rx="2.6" ry="2.2" fill="#808080" fill-opacity="0.55"/>
<ellipse cx="551.3" cy="119.7" rx="8.4" ry="8.4" fill="none" stroke="#dcdcdc" stroke-width="1.5"/>
<ellipse cx="551.3" cy="119.7" rx="7.3" ry="7.3" fill="#868686" stroke="#505050" stroke-width="1.0"/>
<ellipse cx="543.1" cy="146.1" rx="8.4" ry="8.4" fill="none" stroke="#dcdcdc" stroke-width="1.5"/>
<ellipse cx="543.1" cy="146.1" rx="7.3" ry="7.3" fill="#868686" stroke="#505050" stroke-width="1.0"/>
<ellipse cx="456.5" cy="175.4" rx="7.0" ry="7.0" fill="none" stroke="#dcdcdc" stroke-width="1.5"/>
<ellipse cx="456.5" cy="175.4" rx="5.9" ry="5.9" fill="#868686" stroke="#505050" stroke-width="1.0"/>
<ellipse cx="485.9" cy="190.1" rx="8.4" ry="8.4" fill="none" stroke="#dcdcdc" stroke-width="1.5"/>
<ellipse cx="485.9" cy="190.1" rx="7.3" ry="7.3" fill="#868686" stroke="#505050" stroke-width="1.0"/>
<ellipse cx="559.8" cy="182.8" rx="7.6" ry="7.6" fill="none" stroke="#dcdcdc" stroke-width="1.5"/>
<ellipse cx="559.8" cy="182.8" rx="6.5" ry="6.5" fill="#868686" stroke="#505050" stroke-width="1.0"/>
<ellipse cx="563.6" cy="198.9" rx="7.6" ry="7.6" fill="none" stroke="#dcdcdc" stroke-width="1.5"/>
<ellipse cx="563.6" cy="198.9" rx="6.5" ry="6.5" fill="#868686" stroke="#505050" stroke-width="1.0"/>
<ellipse cx="518.2" cy="216.5" rx="7.6" ry="7.6" fill="none" stroke="#dcdcdc" stroke-width="1.5"/>
<ellipse cx="518.2" cy="216.5" rx="6.5" ry="6.5" fill="#868686" stroke="#505050" stroke-width="1.0"/>
<ellipse cx="497.6" cy="237.1" rx="7.6" ry="7.6" fill="none" stroke="#dcdcdc" stroke-width="1.5"/>
<ellipse cx="497.6" cy="237.1" rx="6.5" ry="6.5" fill="#868686" stroke="#505050" stroke-width="1.0"/>
<ellipse cx="551.9" cy="226.8" rx="7.6" ry="7.6" fill="none" stroke="#dcdcdc" stroke-width="1.5"/>
<ellipse cx="551.9" cy="226.8" rx="6.5" ry="6.5" fill="#868686" stroke="#505050" stroke-width="1.0"/>
<ellipse cx="557.8" cy="237.1" rx="7.0" ry="7.0" fill="none" stroke="#dcdcdc" stroke-width="1.5"/>
<ellipse cx="557.8" cy="237.1" rx="5.9" ry="5.9" fill="#868686" stroke="#505050" stroke-width="1.0"/>
<ellipse cx="465.3" cy="286.9" rx="7.6" ry="7.6" fill="none" stroke="#dcdcdc" stroke-width="1.5"/>
<ellipse cx="465.3" cy="286.9" rx="6.5" ry="6.5" fill="#868686" stroke="#505050" stroke-width="1.0"/>
<ellipse cx="427.2" cy="295.7" rx="8.4" ry="8.4" fill="none" stroke="#dcdcdc" stroke-width="1.5"/>
<ellipse cx="427.2" cy="295.7" rx="7.3" ry="7.3" fill="#868686" stroke="#505050" stroke-width="1.0"/>
<ellipse cx="528.4" cy="292.8" rx="8.4" ry="8.4" fill="none" stroke="#dcdcdc" stroke-width="1.5"/>
<ellipse cx="528.4" cy="292.8" rx="7.3" ry="7.3" fill="#868686" stroke="#505050" stroke-width="1.0"/>
<ellipse cx="563.6" cy="295.7" rx="8.4" ry="8.4" fill="none" stroke="#dcdcdc" stroke-width="1.5"/>
<ellipse cx="563.6" cy="295.7" rx="7.3" ry="7.3" fill="#868686" stroke="#505050" stroke-width="1.0"/>
<ellipse cx="579.8" cy="127.0" rx="8.4" ry="8.4" fill="none" stroke="#dcdcdc" stroke-width="1.5"/>
<ellipse cx="579.8" cy="127.0" rx="7.3" ry="7.3" fill="#868686" stroke="#505050" stroke-width="1.0"/>
<ellipse cx="446.3" cy="85.9" rx="8.4" ry="7.0" fill="none" stroke="#dcdcdc" stroke-width="1.5"/>
<ellipse cx="446.3" cy="85.9" rx="7.3" ry="5.9" fill="#868686" stroke="#505050" stroke-width="1.0"/>
<ellipse cx="510.8" cy="71.3" rx="7.0" ry="7.0" fill="none" stroke="#dcdcdc" stroke-width="1.5"/>
<ellipse cx="510.8" cy="71.3" rx="5.9" ry="5.9" fill="#868686" stroke="#505050" stroke-width="1.0"/>
<path d="M464.8 230.3 Q455.9 237.9 452.0 249.8" fill="none" stroke="#d2d2d2" stroke-width="1.1"/>
<path d="M465.7 231.2 Q456.8 238.8 452.9 250.7" fill="none" stroke="#6e6e6e" stroke-width="0.8"/>
<path d="M442.8 116.6 Q439.6 118.2 435.9 124.3" fill="none" stroke="#d2d2d2" stroke-width="1.1"/>
<path d="M443.7 117.5 Q440.5 119.1 436.8 125.2" fill="none" stroke="#6e6e6e" stroke-width="0.8"/>
<path d="M471.8 167.6 Q459.6 170.4 455.2 176.9" fill="none" stroke="#d2d2d2" stroke-width="1.1"/>
<path d="M472.7 168.5 Q460.5 171.3 456.1 177.8" fill="none" stroke="#6e6e6e" stroke-width="0.8"/>
<path d="M442.8 276.2 Q436.1 284.5 424.1 288.9" fill="none" stroke="#d2d2d2" stroke-width="1.1"/>
<path d="M443.7 277.1 Q437.0 285.4 425.0 289.8" fill="none" stroke="#6e6e6e" stroke-width="0.8"/>
<path d="M600.1 257.1 Q608.0 267.5 616.2 273.9" fill="none" stroke="#d2d2d2" stroke-width="1.1"/>
<path d="M601.0 258.0 Q608.9 268.4 617.1 274.8" fill="none" stroke="#6e6e6e" stroke-width="0.8"/>
<path d="M524.6 167.1 Q526.3 171.2 531.1 181.4" fill="none" stroke="#d2d2d2" stroke-width="1.1"/>
<path d="M525.5 168.0 Q527.2 172.1 532.0 182.3" fill="none" stroke="#6e6e6e" stroke-width="0.8"/>
<path d="M574.7 258.2 Q564.9 260.6 554.2 259.1" fill="none" stroke="#d2d2d2" stroke-width="1.1"/>
<path d="M575.6 259.1 Q565.8 261.5 555.1 260.0" fill="none" stroke="#6e6e6e" stroke-width="0.8"/>
<path d="M440.4 228.2 Q439.0 233.9 442.4 239.2" fill="none" stroke="#d2d2d2" stroke-width="1.1"/>
<path d="M441.3 229.1 Q439.9 234.8 443.3 240.1" fill="none" stroke="#6e6e6e" stroke-width="0.8"/>
<path d="M463.6 174.5 Q458.2 181.6 458.7 188.8" fill="none" stroke="#d2d2d2" stroke-width="1.1"/>
<path d="M464.5 175.4 Q459.1 182.5 459.6 189.7" fill="none" stroke="#6e6e6e" stroke-width="0.8"/>
<path d="M460.1 119.2 Q462.7 124.6 472.1 127.6" fill="none" stroke="#d2d2d2" stroke-width="1.1"/>
<path d="M461.0 120.1 Q463.6 125.5 473.0 128.5" fill="none" stroke="#6e6e6e" stroke-width="0.8"/>
<path d="M600.9 157.3 Q589.4 164.0 585.2 176.4" fill="none" stroke="#d2d2d2" stroke-width="1.1"/>
<path d="M601.8 158.2 Q590.3 164.9 586.1 177.3" fill="none" stroke="#6e6e6e" stroke-width="0.8"/>
<path d="M572.0 268.0 Q569.0 275.9 567.4 277.9" fill="none" stroke="#d2d2d2" stroke-width="1.1"/>
<path d="M572.9 268.9 Q569.9 276.8 568.3 278.8" fill="none" stroke="#6e6e6e" stroke-width="0.8"/>
<path d="M587.7 259.4 Q596.1 268.1 606.5 273.3" fill="none" stroke="#d2d2d2" stroke-width="1.1"/>
<path d="M588.6 260.3 Q597.0 269.0 607.4 274.2" fill="none" stroke="#6e6e6e" stroke-width="0.8"/>
<path d="M440.9 300.9 Q435.2 311.8 434.1 320.8" fill="none" stroke="#d2d2d2" stroke-width="1.1"/>
<path d="M441.8 301.8 Q436.1 312.7 435.0 321.7" fill="none" stroke="#6e6e6e" stroke-width="0.8"/>
<path d="M527.9 207.0 Q531.1 214.9 536.9 226.1" fill="none" stroke="#d2d2d2" stroke-width="1.1"/>
<path d="M528.8 207.9 Q532.0 215.8 537.8 227.0" fill="none" stroke="#6e6e6e" stroke-width="0.8"/>
<path d="M446.2 230.0 Q448.5 233.2 457.6 234.1" fill="none" stroke="#d2d2d2" stroke-width="1.1"/>
<path d="M447.1 230.9 Q449.4 234.1 458.5 235.0" fill="none" stroke="#6e6e6e" stroke-width="0.8"/>
<path d="M523.0 195.2 Q529.6 192.9 538.8 197.1" fill="none" stroke="#d2d2d2" stroke-width="1.1"/>
<path d="M523.9 196.1 Q530.5 193.8 539.7 198.0" fill="none" stroke="#6e6e6e" stroke-width="0.8"/>
<path d="M414.6 307.5 Q419.0 310.8 427.0 312.5" fill="none" stroke="#d2d2d2" stroke-width="1.1"/>
<path d="M415.5 308.4 Q419.9 311.7 427.9 313.4" fill="none" stroke="#6e6e6e" stroke-width="0.8"/>
<path d="M429.2 177.1 Q429.9 186.3 438.5 198.1" fill="none" stroke="#d2d2d2" stroke-width="1.1"/>
<path d="M430.1 178.0 Q430.8 187.2 439.4 199.0" fill="none" stroke="#6e6e6e" stroke-width="0.8"/>
<path d="M511.3 300.5 Q512.2 307.2 510.5 317.1" fill="none" stroke="#d2d2d2" stroke-width="1.1"/>
<path d="M512.2 301.4 Q513.1 308.1 511.4 318.0" fill="none" stroke="#6e6e6e" stroke-width="0.8"/>
<path d="M420.2 184.8 Q408.1 189.3 399.8 190.8" fill="none" stroke="#d2d2d2" stroke-width="1.1"/>
<path d="M421.1 185.7 Q409.0 190.2 400.7 191.7" fill="none" stroke="#6e6e6e" stroke-width="0.8"/>
<path d="M580.4 124.9 Q576.4 130.1 576.5 138.7" fill="none" stroke="#d2d2d2" stroke-width="1.1"/>
<path d="M581.3 125.8 Q577.3 131.0 577.4 139.6" fill="none" stroke="#6e6e6e" stroke-width="0.8"/>
<path d="M454.0 147.7 Q458.2 150.6 469.0 149.5" fill="none" stroke="#d2d2d2" stroke-width="1.1"/>
<path d="M454.9 148.6 Q459.1 151.5 469.9 150.4" fill="none" stroke="#6e6e6e" stroke-width="0.8"/>
<path d="M531.6 62.0 Q527.1 66.2 522.9 69.5" fill="none" stroke="#d2d2d2" stroke-width="1.1"/>
<path d="M532.5 62.9 Q528.0 67.1 523.8 70.4" fill="none" stroke="#6e6e6e" stroke-width="0.8"/>
<path d="M479.2 132.5 Q483.2 134.5 481.4 142.7" fill="none" stroke="#d2d2d2" stroke-width="1.1"/>
<path d="M480.1 133.4 Q484.1 135.4 482.3 143.6" fill="none" stroke="#6e6e6e" stroke-width="0.8"/>
<path d="M575.4 114.9 Q576.0 118.0 584.1 127.1" fill="none" stroke="#d2d2d2" stroke-width="1.1"/>
<path d="M576.3 115.8 Q576.9 118.9 585.0 128.0" fill="none" stroke="#6e6e6e" stroke-width="0.8"/>
<path d="M484.8 170.1 Q469.2 175.3 460.9 179.9" fill="none" stroke="#d2d2d2" stroke-width="1.1"/>
<path d="M485.7 171.0 Q470.1 176.2 461.8 180.8" fill="none" stroke="#6e6e6e" stroke-width="0.8"/>
<path d="M439.4 259.5 Q446.1 266.7 452.1 279.9" fill="none" stroke="#d2d2d2" stroke-width="1.1"/>
<path d="M440.3 260.4 Q447.0 267.6 453.0 280.8" fill="none" stroke="#6e6e6e" stroke-width="0.8"/>
<path d="M415.0 122.3 Q409.9 123.4 405.2 126.6" fill="none" stroke="#d2d2d2" stroke-width="1.1"/>
<path d="M415.9 123.2 Q410.8 124.3 406.1 127.5" fill="none" stroke="#6e6e6e" stroke-width="0.8"/>
<path d="M481.6 259.0 Q491.1 269.0 498.0 272.1" fill="none" stroke="#d2d2d2" stroke-width="1.1"/>
<path d="M482.5 259.9 Q492.0 269.9 498.9 273.0" fill="none" stroke="#6e6e6e" stroke-width="0.8"/>
<path d="M515.9 288.4 Q518.6 300.1 519.3 306.4" fill="none" stroke="#d2d2d2" stroke-width="1.1"/>
<path d="M516.8 289.3 Q519.5 301.0 520.2 307.3" fill="none" stroke="#6e6e6e" stroke-width="0.8"/>
<path d="M589.9 89.5 Q600.4 93.4 605.9 96.9" fill="none" stroke="#d2d2d2" stroke-width="1.1"/>
<path d="M590.8 90.4 Q601.3 94.3 606.8 97.8" fill="none" stroke="#6e6e6e" stroke-width="0.8"/>
<path d="M472.7 298.6 Q472.0 298.7 478.4 306.3" fill="none" stroke="#d2d2d2" stroke-width="1.1"/>
<path d="M473.6 299.5 Q472.9 299.6 479.3 307.2" fill="none" stroke="#6e6e6e" stroke-width="0.8"/>
<path d="M556.5 87.5 Q553.1 99.1 541.7 105.8" fill="none" stroke="#d2d2d2" stroke-width="1.1"/>
<path d="M557.4 88.4 Q554.0 100.0 542.6 106.7" fill="none" stroke="#6e6e6e" stroke-width="0.8"/>
<path d="M497.2 214.7 Q486.5 222.0 479.1 225.1" fill="none" stroke="#d2d2d2" stroke-width="1.1"/>
<path d="M498.1 215.6 Q487.4 222.9 480.0 226.0" fill="none" stroke="#6e6e6e" stroke-width="0.8"/>
<path d="M435.4 137.2 Q425.3 139.6 419.0 137.4" fill="none" stroke="#d2d2d2" stroke-width="1.1"/>
<path d="M436.3 138.1 Q426.2 140.5 419.9 138.3" fill="none" stroke="#6e6e6e" stroke-width="0.8"/>
<path d="M502.2 61.9 Q507.2 66.0 514.8 63.1" fill="none" stroke="#d2d2d2" stroke-width="1.1"/>
<path d="M503.1 62.8 Q508.1 66.9 515.7 64.0" fill="none" stroke="#6e6e6e" stroke-width="0.8"/>
<path d="M462.5 271.0 Q459.5 276.5 448.6 277.9" fill="none" stroke="#d2d2d2" stroke-width="1.1"/>
<path d="M463.4 271.9 Q460.4 277.4 449.5 278.8" fill="none" stroke="#6e6e6e" stroke-width="0.8"/>
<path d="M508.9 125.6 Q510.6 135.2 511.8 149.6" fill="none" stroke="#d2d2d2" stroke-width="1.1"/>
<path d="M509.8 126.5 Q511.5 136.1 512.7 150.5" fill="none" stroke="#6e6e6e" stroke-width="0.8"/>
<path d="M487.6 178.6 Q491.4 186.3 502.7 188.9" fill="none" stroke="#d2d2d2" stroke-width="1.1"/>
<path d="M488.5 179.5 Q492.3 187.2 503.6 189.8" fill="none" stroke="#6e6e6e" stroke-width="0.8"/>
<path d="M449.0 86.4 Q450.2 92.9 445.3 99.4" fill="none" stroke="#d2d2d2" stroke-width="1.1"/>
<path d="M449.9 87.3 Q451.1 93.8 446.2 100.3" fill="none" stroke="#6e6e6e" stroke-width="0.8"/>
<path d="M516.2 267.1 Q525.8 273.2 532.9 280.5" fill="none" stroke="#d2d2d2" stroke-width="1.1"/>
<path d="M517.1 268.0 Q526.7 274.1 533.8 281.4" fill="none" stroke="#6e6e6e" stroke-width="0.8"/>
<path d="M602.0 66.4 Q599.9 65.9 592.4 70.9" fill="none" stroke="#d2d2d2" stroke-width="1.1"/>
<path d="M602.9 67.3 Q600.8 66.8 593.3 71.8" fill="none" stroke="#6e6e6e" stroke-width="0.8"/>
<path d="M424.5 184.7 Q418.2 187.0 412.2 187.6" fill="none" stroke="#d2d2d2" stroke-width="1.1"/>
<path d="M425.4 185.6 Q419.1 187.9 413.1 188.5" fill="none" stroke="#6e6e6e" stroke-width="0.8"/>
<path d="M461.8 192.0 Q471.9 191.0 477.8 192.5" fill="none" stroke="#d2d2d2" stroke-width="1.1"/>
<path d="M462.7 192.9 Q472.8 191.9 478.7 193.4" fill="none" stroke="#6e6e6e" stroke-width="0.8"/>
<path d="M457.2 73.6 Q455.9 81.8 448.0 86.2" fill="none" stroke="#d2d2d2" stroke-width="1.1"/>
<path d="M458.1 74.5 Q456.8 82.7 448.9 87.1" fill="none" stroke="#6e6e6e" stroke-width="0.8"/>
<path d="M433.7 286.8 Q425.2 290.7 411.5 291.6" fill="none" stroke="#d2d2d2" stroke-width="1.1"/>
<path d="M434.6 287.7 Q426.1 291.6 412.4 292.5" fill="none" stroke="#6e6e6e" stroke-width="0.8"/>
<path d="M555.3 225.8 Q550.6 233.7 551.7 237.9" fill="none" stroke="#d2d2d2" stroke-width="1.1"/>
<path d="M556.2 226.7 Q551.5 234.6 552.6 238.8" fill="none" stroke="#6e6e6e" stroke-width="0.8"/>
<path d="M530.9 74.9 Q526.9 85.7 522.7 92.1" fill="none" stroke="#d2d2d2" stroke-width="1.1"/>
<path d="M531.8 75.8 Q527.8 86.6 523.6 93.0" fill="none" stroke="#6e6e6e" stroke-width="0.8"/>
<path d="M585.8 155.1 Q579.2 159.1 571.6 164.5" fill="none" stroke="#d2d2d2" stroke-width="1.1"/>
<path d="M586.7 156.0 Q580.1 160.0 572.5 165.4" fill="none" stroke="#6e6e6e" stroke-width="0.8"/>
<path d="M596.9 170.8 Q591.3 175.1 582.9 172.9" fill="none" stroke="#d2d2d2" stroke-width="1.1"/>
<path d="M597.8 171.7 Q592.2 176.0 583.8 173.8" fill="none" stroke="#6e6e6e" stroke-width="0.8"/>
<path d="M548.0 153.7 Q555.4 158.2 564.1 157.7" fill="none" stroke="#d2d2d2" stroke-width="1.1"/>
<path d="M548.9 154.6 Q556.3 159.1 565.0 158.6" fill="none" stroke="#6e6e6e" stroke-width="0.8"/>
<path d="M567.7 304.6 Q569.5 314.2 570.2 319.8" fill="none" stroke="#d2d2d2" stroke-width="1.1"/>
<path d="M568.6 305.5 Q570.4 315.1 571.1 320.7" fill="none" stroke="#6e6e6e" stroke-width="0.8"/>
<path d="M429.7 114.2 Q434.3 121.0 442.1 120.3" fill="none" stroke="#d2d2d2" stroke-width="1.1"/>
<path d="M430.6 115.1 Q435.2 121.9 443.0 121.2" fill="none" stroke="#6e6e6e" stroke-width="0.8"/>
<path d="M454.7 291.6 Q462.0 292.9 461.7 300.9" fill="none" stroke="#d2d2d2" stroke-width="1.1"/>
<path d="M455.6 292.5 Q462.9 293.8 462.6 301.8" fill="none" stroke="#6e6e6e" stroke-width="0.8"/>
<path d="M436.1 92.8 Q441.1 91.6 450.8 95.9" fill="none" stroke="#d2d2d2" stroke-width="1.1"/>
<path d="M437.0 93.7 Q442.0 92.5 451.7 96.8" fill="none" stroke="#6e6e6e" stroke-width="0.8"/>
<path d="M417.1 233.5 Q423.6 237.5 429.1 235.3" fill="none" stroke="#d2d2d2" stroke-width="1.1"/>
<path d="M418.0 234.4 Q424.5 238.4 430.0 236.2" fill="none" stroke="#6e6e6e" stroke-width="0.8"/>
<path d="M543.3 236.1 Q539.5 242.3 530.1 254.1" fill="none" stroke="#d2d2d2" stroke-width="1.1"/>
<path d="M544.2 237.0 Q540.4 243.2 531.0 255.0" fill="none" stroke="#6e6e6e" stroke-width="0.8"/>
<path d="M424.6 214.4 Q426.3 220.4 423.6 231.7" fill="none" stroke="#d2d2d2" stroke-width="1.1"/>
<path d="M425.5 215.3 Q427.2 221.3 424.5 232.6" fill="none" stroke="#6e6e6e" stroke-width="0.8"/>
<path d="M552.4 166.3 Q552.2 173.0 555.4 178.4" fill="none" stroke="#d2d2d2" stroke-width="1.1"/>
<path d="M553.3 167.2 Q553.1 173.9 556.3 179.3" fill="none" stroke="#6e6e6e" stroke-width="0.8"/>
<path d="M522.6 285.0 Q526.0 294.2 535.9 301.1" fill="none" stroke="#d2d2d2" stroke-width="1.1"/>
<path d="M523.5 285.9 Q526.9 295.1 536.8 302.0" fill="none" stroke="#6e6e6e" stroke-width="0.8"/>
<path d="M445.5 272.8 Q441.7 271.3 433.0 274.2" fill="none" stroke="#d2d2d2" stroke-width="1.1"/>
<path d="M446.4 273.7 Q442.6 272.2 433.9 275.1" fill="none" stroke="#6e6e6e" stroke-width="0.8"/>
<path d="M473.9 86.5 Q476.4 92.0 475.7 96.2" fill="none" stroke="#d2d2d2" stroke-width="1.1"/>
<path d="M474.8 87.4 Q477.3 92.9 476.6 97.1" fill="none" stroke="#6e6e6e" stroke-width="0.8"/>
<path d="M496.3 236.3 Q500.4 237.0 506.7 245.7" fill="none" stroke="#d2d2d2" stroke-width="1.1"/>
<path d="M497.2 237.2 Q501.3 237.9 507.6 246.6" fill="none" stroke="#6e6e6e" stroke-width="0.8"/>
<path d="M587.8 82.8 Q601.0 85.9 609.1 89.8" fill="none" stroke="#d2d2d2" stroke-width="1.1"/>
<path d="M588.7 83.7 Q601.9 86.8 610.0 90.7" fill="none" stroke="#6e6e6e" stroke-width="0.8"/>
<path d="M496.6 95.4 Q503.2 92.6 514.0 95.5" fill="none" stroke="#d2d2d2" stroke-width="1.1"/>
<path d="M497.5 96.3 Q504.1 93.5 514.9 96.4" fill="none" stroke="#6e6e6e" stroke-width="0.8"/>
<path d="M591.5 65.8 Q598.0 72.4 600.5 85.3" fill="none" stroke="#d2d2d2" stroke-width="1.1"/>
<path d="M592.4 66.7 Q598.9 73.3 601.4 86.2" fill="none" stroke="#6e6e6e" stroke-width="0.8"/>
<path d="M559.5 200.2 Q556.9 212.4 549.5 223.1" fill="none" stroke="#d2d2d2" stroke-width="1.1"/>
<path d="M560.4 201.1 Q557.8 213.3 550.4 224.0" fill="none" stroke="#6e6e6e" stroke-width="0.8"/>
<path d="M564.9 182.5 Q564.0 192.7 561.2 204.9" fill="none" stroke="#d2d2d2" stroke-width="1.1"/>
<path d="M565.8 183.4 Q564.9 193.6 562.1 205.8" fill="none" stroke="#6e6e6e" stroke-width="0.8"/>
<path d="M418.0 256.0 Q420.1 263.4 425.6 269.8" fill="none" stroke="#d2d2d2" stroke-width="1.1"/>
<path d="M418.9 256.9 Q421.0 264.3 426.5 270.7" fill="none" stroke="#6e6e6e" stroke-width="0.8"/>
<path d="M492.6 267.0 Q492.2 275.2 487.3 284.3" fill="none" stroke="#d2d2d2" stroke-width="1.1"/>
<path d="M493.5 267.9 Q493.1 276.1 488.2 285.2" fill="none" stroke="#6e6e6e" stroke-width="0.8"/>
<path d="M519.1 246.3 Q515.4 255.0 505.4 262.7" fill="none" stroke="#d2d2d2" stroke-width="1.1"/>
<path d="M520.0 247.2 Q516.3 255.9 506.3 263.6" fill="none" stroke="#6e6e6e" stroke-width="0.8"/>
<path d="M522.8 107.5 Q528.6 116.2 534.3 118.4" fill="none" stroke="#d2d2d2" stroke-width="1.1"/>
<path d="M523.7 108.4 Q529.5 117.1 535.2 119.3" fill="none" stroke="#6e6e6e" stroke-width="0.8"/>
<path d="M422.4 147.4 Q419.6 150.6 411.2 159.2" fill="none" stroke="#d2d2d2" stroke-width="1.1"/>
<path d="M423.3 148.3 Q420.5 151.5 412.1 160.1" fill="none" stroke="#6e6e6e" stroke-width="0.8"/>
<path d="M565.1 167.5 Q563.4 174.4 563.2 176.3" fill="none" stroke="#d2d2d2" stroke-width="1.1"/>
<path d="M566.0 168.4 Q564.3 175.3 564.1 177.2" fill="none" stroke="#6e6e6e" stroke-width="0.8"/>
<path d="M558.1 200.3 Q560.7 204.1 560.2 208.8" fill="none" stroke="#d2d2d2" stroke-width="1.1"/>
<path d="M559.0 201.2 Q561.6 205.0 561.1 209.7" fill="none" stroke="#6e6e6e" stroke-width="0.8"/>
<path d="M555.9 212.2 Q556.6 227.1 563.1 234.8" fill="none" stroke="#d2d2d2" stroke-width="1.1"/>
<path d="M556.8 213.1 Q557.5 228.0 564.0 235.7" fill="none" stroke="#6e6e6e" stroke-width="0.8"/>
<path d="M430.9 300.4 Q432.2 308.2 426.5 315.8" fill="none" stroke="#d2d2d2" stroke-width="1.1"/>
<path d="M431.8 301.3 Q433.1 309.1 427.4 316.7" fill="none" stroke="#6e6e6e" stroke-width="0.8"/>
<path d="M513.7 75.8 Q503.7 78.5 498.0 87.4" fill="none" stroke="#d2d2d2" stroke-width="1.1"/>
<path d="M514.6 76.7 Q504.6 79.4 498.9 88.3" fill="none" stroke="#6e6e6e" stroke-width="0.8"/>
<path d="M496.3 292.0 Q485.1 297.9 481.3 298.5" fill="none" stroke="#d2d2d2" stroke-width="1.1"/>
<path d="M497.2 292.9 Q486.0 298.8 482.2 299.4" fill="none" stroke="#6e6e6e" stroke-width="0.8"/>
<circle cx="453.6" cy="241.5" r="1.2" fill="#6a6a6a"/>
<circle cx="602.9" cy="97.5" r="1.4" fill="#6a6a6a"/>
<circle cx="555.2" cy="65.3" r="1.3" fill="#6a6a6a"/>
<circle cx="471.8" cy="232.7" r="1.6" fill="#6a6a6a"/>
<circle cx="544.6" cy="183.0" r="1.3" fill="#6a6a6a"/>
<circle cx="462.7" cy="176.5" r="0.9" fill="#6a6a6a"/>
<circle cx="555.2" cy="77.2" r="1.2" fill="#6a6a6a"/>
<circle cx="449.2" cy="200.1" r="0.8" fill="#6a6a6a"/>
<circle cx="419.4" cy="215.3" r="1.4" fill="#6a6a6a"/>
<circle cx="588.1" cy="228.3" r="1.6" fill="#6a6a6a"/>
<circle cx="442.0" cy="216.3" r="1.3" fill="#6a6a6a"/>
<circle cx="448.4" cy="95.5" r="1.0" fill="#6a6a6a"/>
<circle cx="516.6" cy="255.4" r="1.4" fill="#6a6a6a"/>
<circle cx="526.1" cy="80.1" r="1.4" fill="#6a6a6a"/>
<circle cx="514.4" cy="102.9" r="1.3" fill="#6a6a6a"/>
<circle cx="462.1" cy="137.3" r="1.2" fill="#6a6a6a"/>
<circle cx="561.2" cy="87.4" r="1.2" fill="#6a6a6a"/>
<circle cx="460.1" cy="226.7" r="1.5" fill="#6a6a6a"/>
<circle cx="465.8" cy="238.8" r="1.2" fill="#6a6a6a"/>
<circle cx="456.7" cy="129.1" r="1.2" fill="#6a6a6a"/>
<circle cx="572.1" cy="209.6" r="0.8" fill="#6a6a6a"/>
<circle cx="567.2" cy="204.3" r="1.1" fill="#6a6a6a"/>
<circle cx="461.3" cy="169.9" r="1.4" fill="#6a6a6a"/>
<circle cx="467.1" cy="95.2" r="1.5" fill="#6a6a6a"/>
<circle cx="500.6" cy="78.4" r="1.5" fill="#6a6a6a"/>
<circle cx="435.5" cy="151.1" r="1.3" fill="#6a6a6a"/>
<circle cx="544.2" cy="283.0" r="0.9" fill="#6a6a6a"/>
<circle cx="525.6" cy="278.2" r="1.2" fill="#6a6a6a"/>
<circle cx="554.1" cy="176.2" r="1.4" fill="#6a6a6a"/>
<circle cx="601.8" cy="144.9" r="1.4" fill="#6a6a6a"/>
<circle cx="481.6" cy="280.2" r="1.4" fill="#6a6a6a"/>
<circle cx="582.1" cy="276.8" r="1.3" fill="#6a6a6a"/>
<circle cx="600.3" cy="99.4" r="1.3" fill="#6a6a6a"/>
<circle cx="428.6" cy="205.0" r="1.3" fill="#6a6a6a"/>
<circle cx="469.9" cy="261.6" r="1.1" fill="#6a6a6a"/>
<circle cx="452.7" cy="108.8" r="1.3" fill="#6a6a6a"/>
<circle cx="489.3" cy="72.6" r="1.0" fill="#6a6a6a"/>
<circle cx="605.0" cy="177.7" r="1.3" fill="#6a6a6a"/>
<circle cx="497.6" cy="78.6" r="1.3" fill="#6a6a6a"/>
<circle cx="455.2" cy="91.2" r="1.3" fill="#6a6a6a"/>
<circle cx="546.4" cy="63.6" r="1.6" fill="#6a6a6a"/>
<circle cx="418.1" cy="102.0" r="1.1" fill="#6a6a6a"/>
<circle cx="570.3" cy="244.4" r="1.4" fill="#6a6a6a"/>
<circle cx="498.2" cy="286.3" r="0.9" fill="#6a6a6a"/>
<circle cx="602.3" cy="73.4" r="0.9" fill="#6a6a6a"/>
<circle cx="561.2" cy="251.1" r="1.3" fill="#6a6a6a"/>
<circle cx="462.7" cy="275.1" r="1.2" fill="#6a6a6a"/>
<circle cx="454.4" cy="84.8" r="1.6" fill="#6a6a6a"/>
<circle cx="424.9" cy="115.3" r="1.1" fill="#6a6a6a"/>
<circle cx="589.1" cy="266.2" r="1.5" fill="#6a6a6a"/>
<circle cx="537.7" cy="63.9" r="1.4" fill="#6a6a6a"/>
<circle cx="451.3" cy="295.0" r="1.6" fill="#6a6a6a"/>
<circle cx="426.9" cy="241.6" r="1.0" fill="#6a6a6a"/>
<circle cx="434.5" cy="277.1" r="1.2" fill="#6a6a6a"/>
<circle cx="471.7" cy="199.4" r="0.9" fill="#6a6a6a"/>
<circle cx="497.1" cy="221.4" r="1.5" fill="#6a6a6a"/>
<circle cx="438.0" cy="281.8" r="0.9" fill="#6a6a6a"/>
<circle cx="454.5" cy="143.4" r="0.9" fill="#6a6a6a"/>
<circle cx="431.8" cy="222.9" r="1.1" fill="#6a6a6a"/>
<circle cx="451.2" cy="188.1" r="0.9" fill="#6a6a6a"/>
<circle cx="547.5" cy="299.2" r="1.2" fill="#6a6a6a"/>
<circle cx="496.6" cy="159.5" r="1.1" fill="#6a6a6a"/>
<circle cx="495.0" cy="105.1" r="1.0" fill="#6a6a6a"/>
<circle cx="549.4" cy="179.5" r="0.9" fill="#6a6a6a"/>
<circle cx="442.5" cy="268.7" r="1.1" fill="#6a6a6a"/>
<circle cx="576.7" cy="213.4" r="1.3" fill="#6a6a6a"/>
<circle cx="483.7" cy="204.2" r="1.1" fill="#6a6a6a"/>
<circle cx="515.2" cy="294.4" r="0.9" fill="#6a6a6a"/>
<circle cx="455.9" cy="284.1" r="1.5" fill="#6a6a6a"/>
<circle cx="573.3" cy="273.5" r="0.9" fill="#6a6a6a"/>
<mask id="mk2"><path d="M458.3 97.0C454.4 107.6 458.9 121.4 468.3 127.7C472.2 117.1 467.7 103.3 458.3 97.0Z" fill="#fff"/><path d="M476.8 80.5C478.9 91.5 489.8 99.1 500.8 97.3C498.7 86.3 487.9 78.7 476.8 80.5Z" fill="#fff"/><path d="M515.7 84.6C522.3 97.2 539.1 105.0 552.9 102.0C546.3 89.4 529.6 81.6 515.7 84.6Z" fill="#fff"/><path d="M478.5 102.6C482.1 116.4 496.7 127.7 510.9 127.9C507.3 114.2 492.7 102.8 478.5 102.6Z" fill="#fff"/><path d="M555.6 92.9C565.0 99.9 574.9 96.2 577.6 84.9C568.2 77.9 558.3 81.5 555.6 92.9Z" fill="#fff"/><path d="M581.3 81.5C587.7 91.3 598.3 91.3 604.7 81.5C598.3 71.8 587.7 71.8 581.3 81.5Z" fill="#fff"/><path d="M594.5 105.0C599.3 116.7 607.2 116.7 612.1 105.0C607.2 93.3 599.3 93.3 594.5 105.0Z" fill="#fff"/><path d="M495.1 130.7C488.1 140.1 491.7 150.0 503.1 152.7C510.1 143.3 506.5 133.4 495.1 130.7Z" fill="#fff"/><path d="M515.9 143.9C519.3 155.8 531.9 163.0 543.9 160.0C540.5 148.2 527.9 140.9 515.9 143.9Z" fill="#fff"/><path d="M491.5 165.2C499.6 169.5 506.4 165.5 506.7 156.4C498.6 152.0 491.8 156.0 491.5 165.2Z" fill="#fff"/><path d="M475.6 134.4C469.4 144.7 470.8 160.5 478.6 169.5C484.8 159.2 483.4 143.5 475.6 134.4Z" fill="#fff"/><path d="M444.8 140.2C450.5 150.0 459.7 150.0 465.3 140.2C459.7 130.5 450.5 130.5 444.8 140.2Z" fill="#fff"/><path d="M427.3 122.7C419.2 141.3 421.7 170.2 433.0 187.1C441.1 168.5 438.6 139.6 427.3 122.7Z" fill="#fff"/><path d="M425.6 110.1C425.7 121.4 433.7 126.0 443.4 120.4C443.4 109.1 435.4 104.5 425.6 110.1Z" fill="#fff"/><path d="M463.8 169.8C458.5 180.6 461.3 196.2 469.9 204.5C475.1 193.8 472.4 178.2 463.8 169.8Z" fill="#fff"/><path d="M500.6 184.2C506.2 195.9 515.5 195.9 521.1 184.2C515.5 172.5 506.2 172.5 500.6 184.2Z" fill="#fff"/><path d="M517.3 166.1C519.3 177.2 528.0 180.3 536.6 173.1C534.6 162.0 526.0 158.8 517.3 166.1Z" fill="#fff"/><path d="M525.4 207.8C536.6 207.6 546.0 198.3 546.1 187.1C534.9 187.3 525.6 196.6 525.4 207.8Z" fill="#fff"/><path d="M559.2 160.8C564.9 172.5 574.1 172.5 579.8 160.8C574.1 149.1 564.9 149.1 559.2 160.8Z" fill="#fff"/><path d="M582.7 171.0C587.6 180.8 595.5 180.8 600.3 171.0C595.5 161.3 587.6 161.3 582.7 171.0Z" fill="#fff"/><path d="M595.9 154.9C600.0 164.7 606.6 164.7 610.6 154.9C606.6 145.1 600.0 145.1 595.9 154.9Z" fill="#fff"/><path d="M576.9 204.8C582.5 216.5 591.7 216.5 597.4 204.8C591.7 193.1 582.5 193.1 576.9 204.8Z" fill="#fff"/><path d="M539.1 216.2C546.7 223.1 555.7 220.7 558.9 210.9C551.2 204.1 542.3 206.5 539.1 216.2Z" fill="#fff"/><path d="M468.3 226.8C473.1 236.5 481.0 236.5 485.9 226.8C481.0 217.0 473.1 217.0 468.3 226.8Z" fill="#fff"/><path d="M568.0 240.0C572.9 249.7 580.8 249.7 585.7 240.0C580.8 230.2 572.9 230.2 568.0 240.0Z" fill="#fff"/><path d="M511.5 247.9C519.7 254.0 528.4 250.9 530.8 240.9C522.5 234.7 513.8 237.9 511.5 247.9Z" fill="#fff"/><path d="M451.1 241.6C457.7 254.1 474.5 261.9 488.4 258.9C481.8 246.4 465.0 238.6 451.1 241.6Z" fill="#fff"/><path d="M416.9 216.5C425.0 226.3 438.2 226.3 446.3 216.5C438.2 206.8 425.0 206.8 416.9 216.5Z" fill="#fff"/><path d="M424.3 257.6C429.1 271.3 437.0 271.3 441.9 257.6C437.0 243.9 429.1 243.9 424.3 257.6Z" fill="#fff"/><path d="M466.8 270.8C472.5 280.6 481.7 280.6 487.4 270.8C481.7 261.0 472.5 261.0 466.8 270.8Z" fill="#fff"/><path d="M496.2 278.1C502.6 287.9 513.2 287.9 519.6 278.1C513.2 268.4 502.6 268.4 496.2 278.1Z" fill="#fff"/><path d="M540.2 266.4C546.6 274.2 557.2 274.2 563.6 266.4C557.2 258.6 546.6 258.6 540.2 266.4Z" fill="#fff"/><path d="M572.7 266.5C583.9 274.4 599.6 271.7 607.4 260.4C596.2 252.5 580.6 255.2 572.7 266.5Z" fill="#fff"/><path d="M578.2 271.6C573.4 281.1 577.4 292.3 587.2 296.4C592.1 286.9 588.0 275.8 578.2 271.6Z" fill="#fff"/><path d="M595.9 272.3C600.0 284.0 606.6 284.0 610.6 272.3C606.6 260.6 600.0 260.6 595.9 272.3Z" fill="#fff"/><path d="M595.9 234.1C600.0 245.8 606.6 245.8 610.6 234.1C606.6 222.4 600.0 222.4 595.9 234.1Z" fill="#fff"/><path d="M416.9 196.0C421.8 205.7 429.7 205.7 434.5 196.0C429.7 186.2 421.8 186.2 416.9 196.0Z" fill="#fff"/><path d="M521.1 100.3C517.4 108.0 521.4 114.9 529.9 115.6C533.6 107.9 529.6 101.0 521.1 100.3Z" fill="#fff"/><ellipse cx="551.3" cy="119.7" rx="7.3" ry="7.3" fill="#fff"/><ellipse cx="543.1" cy="146.1" rx="7.3" ry="7.3" fill="#fff"/><ellipse cx="456.5" cy="175.4" rx="5.9" ry="5.9" fill="#fff"/><ellipse cx="485.9" cy="190.1" rx="7.3" ry="7.3" fill="#fff"/><ellipse cx="559.8" cy="182.8" rx="6.5" ry="6.5" fill="#fff"/><ellipse cx="563.6" cy="198.9" rx="6.5" ry="6.5" fill="#fff"/><ellipse cx="518.2" cy="216.5" rx="6.5" ry="6.5" fill="#fff"/><ellipse cx="497.6" cy="237.1" rx="6.5" ry="6.5" fill="#fff"/><ellipse cx="551.9" cy="226.8" rx="6.5" ry="6.5" fill="#fff"/><ellipse cx="557.8" cy="237.1" rx="5.9" ry="5.9" fill="#fff"/><ellipse cx="465.3" cy="286.9" rx="6.5" ry="6.5" fill="#fff"/><ellipse cx="427.2" cy="295.7" rx="7.3" ry="7.3" fill="#fff"/><ellipse cx="528.4" cy="292.8" rx="7.3" ry="7.3" fill="#fff"/><ellipse cx="563.6" cy="295.7" rx="7.3" ry="7.3" fill="#fff"/><ellipse cx="579.8" cy="127.0" rx="7.3" ry="7.3" fill="#fff"/><ellipse cx="446.3" cy="85.9" rx="7.3" ry="5.9" fill="#fff"/><ellipse cx="510.8" cy="71.3" rx="5.9" ry="5.9" fill="#fff"/></mask>
<rect x="414" y="61" width="196" height="247" filter="url(#nz2)" opacity="0.35" mask="url(#mk2)"/>
<rect x="414" y="61" width="196" height="247" fill="url(#scan)"/>
</g>
<g clip-path="url(#cp3)">
<rect x="615" y="61" width="196" height="247" fill="#a8a8a8"/>
<rect x="615" y="61" width="196" height="247" filter="url(#nz)" opacity="0.10"/>
<line x1="663.2" y1="104" x2="687.7" y2="89.2" stroke="#7c7c7c" stroke-width="1.1"/>
<line x1="664.0" y1="104.8" x2="688.5" y2="90.0" stroke="#cacaca" stroke-width="0.8"/>
<line x1="638.7" y1="69.5" x2="660" y2="95" stroke="#7c7c7c" stroke-width="1.1"/>
<line x1="639.5" y1="70.3" x2="660.8" y2="95.8" stroke="#cacaca" stroke-width="0.8"/>
<line x1="772.6" y1="119.6" x2="759" y2="98" stroke="#7c7c7c" stroke-width="1.1"/>
<line x1="773.4" y1="120.39999999999999" x2="759.8" y2="98.8" stroke="#cacaca" stroke-width="0.8"/>
<line x1="718.4" y1="115.2" x2="719" y2="88" stroke="#7c7c7c" stroke-width="1.1"/>
<line x1="719.1999999999999" y1="116.0" x2="719.8" y2="88.8" stroke="#cacaca" stroke-width="0.8"/>
<line x1="623.2" y1="281.7" x2="617" y2="258" stroke="#7c7c7c" stroke-width="1.1"/>
<line x1="624.0" y1="282.5" x2="617.8" y2="258.8" stroke="#cacaca" stroke-width="0.8"/>
<line x1="623.2" y1="281.7" x2="634" y2="306" stroke="#7c7c7c" stroke-width="1.1"/>
<line x1="624.0" y1="282.5" x2="634.8" y2="306.8" stroke="#cacaca" stroke-width="0.8"/>
<line x1="741.4" y1="235" x2="734.7" y2="261.6" stroke="#7c7c7c" stroke-width="1.1"/>
<line x1="742.1999999999999" y1="235.8" x2="735.5" y2="262.40000000000003" stroke="#cacaca" stroke-width="0.8"/>
<line x1="738.4" y1="271.3" x2="711" y2="264.6" stroke="#7c7c7c" stroke-width="1.1"/>
<line x1="739.1999999999999" y1="272.1" x2="711.8" y2="265.40000000000003" stroke="#cacaca" stroke-width="0.8"/>
<line x1="738.4" y1="271.3" x2="760" y2="279" stroke="#7c7c7c" stroke-width="1.1"/>
<line x1="739.1999999999999" y1="272.1" x2="760.8" y2="279.8" stroke="#cacaca" stroke-width="0.8"/>
<line x1="770.3" y1="286.1" x2="788.2" y2="281" stroke="#7c7c7c" stroke-width="1.1"/>
<line x1="771.0999999999999" y1="286.90000000000003" x2="789.0" y2="281.8" stroke="#cacaca" stroke-width="0.8"/>
<line x1="749.6" y1="297.2" x2="724.4" y2="283.9" stroke="#7c7c7c" stroke-width="1.1"/>
<line x1="750.4" y1="298.0" x2="725.1999999999999" y2="284.7" stroke="#cacaca" stroke-width="0.8"/>
<line x1="763" y1="187.5" x2="788" y2="202" stroke="#7c7c7c" stroke-width="1.1"/>
<line x1="763.8" y1="188.3" x2="788.8" y2="202.8" stroke="#cacaca" stroke-width="0.8"/>
<line x1="626.1" y1="147" x2="616" y2="140" stroke="#7c7c7c" stroke-width="1.1"/>
<line x1="626.9" y1="147.8" x2="616.8" y2="140.8" stroke="#cacaca" stroke-width="0.8"/>
<line x1="650.6" y1="111.4" x2="638" y2="120" stroke="#7c7c7c" stroke-width="1.1"/>
<line x1="651.4" y1="112.2" x2="638.8" y2="120.8" stroke="#cacaca" stroke-width="0.8"/>
<line x1="734.7" y1="176" x2="779" y2="191" stroke="#7c7c7c" stroke-width="1.1"/>
<line x1="735.5" y1="176.8" x2="779.8" y2="191.8" stroke="#cacaca" stroke-width="0.8"/>
<line x1="779" y1="191" x2="786" y2="200" stroke="#7c7c7c" stroke-width="1.1"/>
<line x1="779.8" y1="191.8" x2="786.8" y2="200.8" stroke="#cacaca" stroke-width="0.8"/>
<line x1="657.3" y1="170.8" x2="641" y2="160" stroke="#7c7c7c" stroke-width="1.1"/>
<line x1="658.0999999999999" y1="171.60000000000002" x2="641.8" y2="160.8" stroke="#cacaca" stroke-width="0.8"/>
<line x1="798.5" y1="253.5" x2="806" y2="240" stroke="#7c7c7c" stroke-width="1.1"/>
<line x1="799.3" y1="254.3" x2="806.8" y2="240.8" stroke="#cacaca" stroke-width="0.8"/>
<line x1="741.4" y1="115.9" x2="731" y2="101" stroke="#7c7c7c" stroke-width="1.1"/>
<line x1="742.1999999999999" y1="116.7" x2="731.8" y2="101.8" stroke="#cacaca" stroke-width="0.8"/>
<ellipse cx="740.7" cy="141.1" rx="11" ry="7" fill="#9a9a9a" stroke="#d0d0d0" stroke-width="1.2" transform="rotate(-20 740.7 141.1)"/>
<ellipse cx="731.8" cy="154.5" rx="10" ry="7" fill="#9a9a9a" stroke="#d0d0d0" stroke-width="1.2" transform="rotate(10 731.8 154.5)"/>
<ellipse cx="638.7" cy="69.5" rx="8.9" ry="7.7" fill="none" stroke="#dcdcdc" stroke-width="1.5"/>
<ellipse cx="638.7" cy="69.5" rx="7.8" ry="6.6" fill="#8b8b8b" stroke="#444" stroke-width="1.35"/>
<ellipse cx="644.7" cy="64" rx="5.7" ry="4.7" fill="none" stroke="#dcdcdc" stroke-width="1.5"/>
<ellipse cx="644.7" cy="64" rx="4.6" ry="3.6" fill="#8b8b8b" stroke="#444" stroke-width="1.35"/>
<ellipse cx="673.9" cy="65.7" rx="7.0" ry="6.2" fill="none" stroke="#dcdcdc" stroke-width="1.5"/>
<ellipse cx="673.9" cy="65.7" rx="5.9" ry="5.1" fill="#8b8b8b" stroke="#444" stroke-width="1.35"/>
<ellipse cx="663.2" cy="104" rx="7.4" ry="6.7" fill="none" stroke="#dcdcdc" stroke-width="1.5"/>
<ellipse cx="663.2" cy="104" rx="6.3" ry="5.6" fill="#8b8b8b" stroke="#444" stroke-width="1.35"/>
<ellipse cx="650.6" cy="111.4" rx="8.2" ry="6.2" fill="none" stroke="#dcdcdc" stroke-width="1.5" transform="rotate(-30 650.6 111.4)"/>
<ellipse cx="650.6" cy="111.4" rx="7.1" ry="5.1" fill="#8b8b8b" stroke="#444" stroke-width="1.35" transform="rotate(-30 650.6 111.4)"/>
<ellipse cx="627.6" cy="105.5" rx="6.3" ry="8.1" fill="none" stroke="#dcdcdc" stroke-width="1.5"/>
<ellipse cx="627.6" cy="105.5" rx="5.2" ry="7.0" fill="#8b8b8b" stroke="#444" stroke-width="1.35"/>
<ellipse cx="631.3" cy="121.8" rx="6.3" ry="8.7" fill="none" stroke="#dcdcdc" stroke-width="1.5"/>
<ellipse cx="631.3" cy="121.8" rx="5.2" ry="7.6" fill="#8b8b8b" stroke="#444" stroke-width="1.35"/>
<ellipse cx="678.8" cy="121.8" rx="7.0" ry="7.4" fill="none" stroke="#dcdcdc" stroke-width="1.5"/>
<ellipse cx="678.8" cy="121.8" rx="5.9" ry="6.3" fill="#8b8b8b" stroke="#444" stroke-width="1.35"/>
<ellipse cx="704" cy="128.5" rx="7.4" ry="7.7" fill="none" stroke="#dcdcdc" stroke-width="1.5"/>
<ellipse cx="704" cy="128.5" rx="6.3" ry="6.6" fill="#8b8b8b" stroke="#444" stroke-width="1.35"/>
<ellipse cx="648.8" cy="133" rx="8.0" ry="7.4" fill="none" stroke="#dcdcdc" stroke-width="1.5"/>
<ellipse cx="648.8" cy="133" rx="6.9" ry="6.3" fill="#8b8b8b" stroke="#444" stroke-width="1.35"/>
<ellipse cx="626.1" cy="147" rx="9.2" ry="7.4" fill="none" stroke="#dcdcdc" stroke-width="1.5"/>
<ellipse cx="626.1" cy="147" rx="8.1" ry="6.3" fill="#8b8b8b" stroke="#444" stroke-width="1.35"/>
<ellipse cx="657.3" cy="170.8" rx="7.4" ry="7.7" fill="none" stroke="#dcdcdc" stroke-width="1.5"/>
<ellipse cx="657.3" cy="170.8" rx="6.3" ry="6.6" fill="#8b8b8b" stroke="#444" stroke-width="1.35"/>
<ellipse cx="666.2" cy="183.5" rx="7.4" ry="7.2" fill="none" stroke="#dcdcdc" stroke-width="1.5"/>
<ellipse cx="666.2" cy="183.5" rx="6.3" ry="6.1" fill="#8b8b8b" stroke="#444" stroke-width="1.35"/>
<ellipse cx="711.5" cy="184" rx="7.2" ry="6.7" fill="none" stroke="#dcdcdc" stroke-width="1.5"/>
<ellipse cx="711.5" cy="184" rx="6.1" ry="5.6" fill="#8b8b8b" stroke="#444" stroke-width="1.35"/>
<ellipse cx="714" cy="114.4" rx="3.7" ry="6.7" fill="none" stroke="#dcdcdc" stroke-width="1.5"/>
<ellipse cx="714" cy="114.4" rx="2.6" ry="5.6" fill="#8b8b8b" stroke="#444" stroke-width="1.35"/>
<ellipse cx="730.3" cy="64.7" rx="5.9" ry="5.2" fill="none" stroke="#dcdcdc" stroke-width="1.5"/>
<ellipse cx="730.3" cy="64.7" rx="4.8" ry="4.1" fill="#8b8b8b" stroke="#444" stroke-width="1.35"/>
<ellipse cx="755.5" cy="62.5" rx="7.0" ry="4.2" fill="none" stroke="#dcdcdc" stroke-width="1.5"/>
<ellipse cx="755.5" cy="62.5" rx="5.9" ry="3.1" fill="#8b8b8b" stroke="#444" stroke-width="1.35"/>
<ellipse cx="807.4" cy="65.5" rx="4.7" ry="5.7" fill="none" stroke="#dcdcdc" stroke-width="1.5"/>
<ellipse cx="807.4" cy="65.5" rx="3.6" ry="4.6" fill="#8b8b8b" stroke="#444" stroke-width="1.35"/>
<ellipse cx="789.6" cy="75.8" rx="3.2" ry="3.2" fill="none" stroke="#dcdcdc" stroke-width="1.5"/>
<ellipse cx="789.6" cy="75.8" rx="2.1" ry="2.1" fill="#8b8b8b" stroke="#444" stroke-width="1.35"/>
<ellipse cx="793.3" cy="100.3" rx="7.4" ry="7.0" fill="none" stroke="#dcdcdc" stroke-width="1.5"/>
<ellipse cx="793.3" cy="100.3" rx="6.3" ry="5.9" fill="#8b8b8b" stroke="#444" stroke-width="1.35"/>
<ellipse cx="806.7" cy="92.9" rx="5.2" ry="6.7" fill="none" stroke="#dcdcdc" stroke-width="1.5"/>
<ellipse cx="806.7" cy="92.9" rx="4.1" ry="5.6" fill="#8b8b8b" stroke="#444" stroke-width="1.35"/>
<ellipse cx="718.4" cy="115.2" rx="5.5" ry="8.8" fill="none" stroke="#dcdcdc" stroke-width="1.5"/>
<ellipse cx="718.4" cy="115.2" rx="4.4" ry="7.7" fill="#8b8b8b" stroke="#444" stroke-width="1.35"/>
<ellipse cx="741.4" cy="115.9" rx="7.0" ry="6.7" fill="none" stroke="#dcdcdc" stroke-width="1.5"/>
<ellipse cx="741.4" cy="115.9" rx="5.9" ry="5.6" fill="#8b8b8b" stroke="#444" stroke-width="1.35"/>
<ellipse cx="751.8" cy="124" rx="7.4" ry="7.0" fill="none" stroke="#dcdcdc" stroke-width="1.5"/>
<ellipse cx="751.8" cy="124" rx="6.3" ry="5.9" fill="#8b8b8b" stroke="#444" stroke-width="1.35"/>
<ellipse cx="772.6" cy="119.6" rx="8.2" ry="9.2" fill="none" stroke="#dcdcdc" stroke-width="1.5" transform="rotate(-20 772.6 119.6)"/>
<ellipse cx="772.6" cy="119.6" rx="7.1" ry="8.1" fill="#8b8b8b" stroke="#444" stroke-width="1.35" transform="rotate(-20 772.6 119.6)"/>
<ellipse cx="770.3" cy="163.4" rx="8.1" ry="7.7" fill="none" stroke="#dcdcdc" stroke-width="1.5"/>
<ellipse cx="770.3" cy="163.4" rx="7.0" ry="6.6" fill="#8b8b8b" stroke="#444" stroke-width="1.35"/>
<ellipse cx="734.7" cy="176" rx="9.6" ry="7.0" fill="none" stroke="#dcdcdc" stroke-width="1.5" transform="rotate(10 734.7 176)"/>
<ellipse cx="734.7" cy="176" rx="8.5" ry="5.9" fill="#8b8b8b" stroke="#444" stroke-width="1.35" transform="rotate(10 734.7 176)"/>
<ellipse cx="799.3" cy="176" rx="7.4" ry="7.4" fill="none" stroke="#dcdcdc" stroke-width="1.5"/>
<ellipse cx="799.3" cy="176" rx="6.3" ry="6.3" fill="#8b8b8b" stroke="#444" stroke-width="1.35"/>
<ellipse cx="632.1" cy="197.1" rx="7.7" ry="7.0" fill="none" stroke="#dcdcdc" stroke-width="1.5"/>
<ellipse cx="632.1" cy="197.1" rx="6.6" ry="5.9" fill="#8b8b8b" stroke="#444" stroke-width="1.35"/>
<ellipse cx="683.2" cy="200.1" rx="6.7" ry="8.1" fill="none" stroke="#dcdcdc" stroke-width="1.5"/>
<ellipse cx="683.2" cy="200.1" rx="5.6" ry="7.0" fill="#8b8b8b" stroke="#444" stroke-width="1.35"/>
<ellipse cx="618" cy="216.4" rx="5.2" ry="8.5" fill="none" stroke="#dcdcdc" stroke-width="1.5"/>
<ellipse cx="618" cy="216.4" rx="4.1" ry="7.4" fill="#8b8b8b" stroke="#444" stroke-width="1.35"/>
<ellipse cx="664.7" cy="225.3" rx="7.4" ry="7.4" fill="none" stroke="#dcdcdc" stroke-width="1.5"/>
<ellipse cx="664.7" cy="225.3" rx="6.3" ry="6.3" fill="#8b8b8b" stroke="#444" stroke-width="1.35"/>
<ellipse cx="638.7" cy="243.1" rx="7.7" ry="7.4" fill="none" stroke="#dcdcdc" stroke-width="1.5"/>
<ellipse cx="638.7" cy="243.1" rx="6.6" ry="6.3" fill="#8b8b8b" stroke="#444" stroke-width="1.35"/>
<ellipse cx="680.3" cy="253.5" rx="7.4" ry="7.4" fill="none" stroke="#dcdcdc" stroke-width="1.5"/>
<ellipse cx="680.3" cy="253.5" rx="6.3" ry="6.3" fill="#8b8b8b" stroke="#444" stroke-width="1.35"/>
<ellipse cx="695.1" cy="243.1" rx="7.0" ry="8.5" fill="none" stroke="#dcdcdc" stroke-width="1.5"/>
<ellipse cx="695.1" cy="243.1" rx="5.9" ry="7.4" fill="#8b8b8b" stroke="#444" stroke-width="1.35"/>
<ellipse cx="712.5" cy="243.1" rx="6.2" ry="7.2" fill="none" stroke="#dcdcdc" stroke-width="1.5"/>
<ellipse cx="712.5" cy="243.1" rx="5.1" ry="6.1" fill="#8b8b8b" stroke="#444" stroke-width="1.35"/>
<ellipse cx="643.9" cy="270.5" rx="7.4" ry="7.0" fill="none" stroke="#dcdcdc" stroke-width="1.5"/>
<ellipse cx="643.9" cy="270.5" rx="6.3" ry="5.9" fill="#8b8b8b" stroke="#444" stroke-width="1.35"/>
<ellipse cx="623.2" cy="281.7" rx="7.7" ry="7.4" fill="none" stroke="#dcdcdc" stroke-width="1.5"/>
<ellipse cx="623.2" cy="281.7" rx="6.6" ry="6.3" fill="#8b8b8b" stroke="#444" stroke-width="1.35"/>
<ellipse cx="661" cy="299.5" rx="8.1" ry="7.4" fill="none" stroke="#dcdcdc" stroke-width="1.5"/>
<ellipse cx="661" cy="299.5" rx="7.0" ry="6.3" fill="#8b8b8b" stroke="#444" stroke-width="1.35"/>
<ellipse cx="794.8" cy="221.6" rx="7.4" ry="7.4" fill="none" stroke="#dcdcdc" stroke-width="1.5"/>
<ellipse cx="794.8" cy="221.6" rx="6.3" ry="6.3" fill="#8b8b8b" stroke="#444" stroke-width="1.35"/>
<ellipse cx="741.4" cy="235" rx="6.7" ry="10.3" fill="none" stroke="#dcdcdc" stroke-width="1.5"/>
<ellipse cx="741.4" cy="235" rx="5.6" ry="9.2" fill="#8b8b8b" stroke="#444" stroke-width="1.35"/>
<ellipse cx="763.7" cy="249.8" rx="8.1" ry="8.5" fill="none" stroke="#dcdcdc" stroke-width="1.5"/>
<ellipse cx="763.7" cy="249.8" rx="7.0" ry="7.4" fill="#8b8b8b" stroke="#444" stroke-width="1.35"/>
<ellipse cx="798.5" cy="253.5" rx="8.1" ry="7.4" fill="none" stroke="#dcdcdc" stroke-width="1.5"/>
<ellipse cx="798.5" cy="253.5" rx="7.0" ry="6.3" fill="#8b8b8b" stroke="#444" stroke-width="1.35"/>
<ellipse cx="738.4" cy="271.3" rx="8.1" ry="5.9" fill="none" stroke="#dcdcdc" stroke-width="1.5"/>
<ellipse cx="738.4" cy="271.3" rx="7.0" ry="4.8" fill="#8b8b8b" stroke="#444" stroke-width="1.35"/>
<ellipse cx="770.3" cy="286.1" rx="9.6" ry="7.7" fill="none" stroke="#dcdcdc" stroke-width="1.5"/>
<ellipse cx="770.3" cy="286.1" rx="8.5" ry="6.6" fill="#8b8b8b" stroke="#444" stroke-width="1.35"/>
<ellipse cx="749.6" cy="297.2" rx="9.2" ry="6.7" fill="none" stroke="#dcdcdc" stroke-width="1.5" transform="rotate(15 749.6 297.2)"/>
<ellipse cx="749.6" cy="297.2" rx="8.1" ry="5.6" fill="#8b8b8b" stroke="#444" stroke-width="1.35" transform="rotate(15 749.6 297.2)"/>
<ellipse cx="719.9" cy="304.7" rx="5.7" ry="4.7" fill="none" stroke="#dcdcdc" stroke-width="1.5"/>
<ellipse cx="719.9" cy="304.7" rx="4.6" ry="3.6" fill="#8b8b8b" stroke="#444" stroke-width="1.35"/>
<ellipse cx="806" cy="306" rx="4.7" ry="3.7" fill="none" stroke="#dcdcdc" stroke-width="1.5"/>
<ellipse cx="806" cy="306" rx="3.6" ry="2.6" fill="#8b8b8b" stroke="#444" stroke-width="1.35"/>
<circle cx="668.4" cy="81.8" r="1.3" fill="#5a5a5a"/>
<circle cx="668.4" cy="81.8" r="2.2" fill="none" stroke="#cfcfcf" stroke-width="0.8"/>
<circle cx="687" cy="105.5" r="1.3" fill="#5a5a5a"/>
<circle cx="687" cy="105.5" r="2.2" fill="none" stroke="#cfcfcf" stroke-width="0.8"/>
<circle cx="670.6" cy="130.7" r="1.3" fill="#5a5a5a"/>
<circle cx="670.6" cy="130.7" r="2.2" fill="none" stroke="#cfcfcf" stroke-width="0.8"/>
<circle cx="678.8" cy="142.6" r="1.3" fill="#5a5a5a"/>
<circle cx="678.8" cy="142.6" r="2.2" fill="none" stroke="#cfcfcf" stroke-width="0.8"/>
<circle cx="707" cy="143.3" r="1.3" fill="#5a5a5a"/>
<circle cx="707" cy="143.3" r="2.2" fill="none" stroke="#cfcfcf" stroke-width="0.8"/>
<circle cx="655" cy="150.8" r="1.3" fill="#5a5a5a"/>
<circle cx="655" cy="150.8" r="2.2" fill="none" stroke="#cfcfcf" stroke-width="0.8"/>
<circle cx="696.6" cy="167.8" r="1.3" fill="#5a5a5a"/>
<circle cx="696.6" cy="167.8" r="2.2" fill="none" stroke="#cfcfcf" stroke-width="0.8"/>
<circle cx="690.7" cy="174.5" r="1.3" fill="#5a5a5a"/>
<circle cx="690.7" cy="174.5" r="2.2" fill="none" stroke="#cfcfcf" stroke-width="0.8"/>
<circle cx="766.6" cy="80.3" r="1.3" fill="#5a5a5a"/>
<circle cx="766.6" cy="80.3" r="2.2" fill="none" stroke="#cfcfcf" stroke-width="0.8"/>
<circle cx="800" cy="114.4" r="1.3" fill="#5a5a5a"/>
<circle cx="800" cy="114.4" r="2.2" fill="none" stroke="#cfcfcf" stroke-width="0.8"/>
<circle cx="793.3" cy="130.7" r="1.3" fill="#5a5a5a"/>
<circle cx="793.3" cy="130.7" r="2.2" fill="none" stroke="#cfcfcf" stroke-width="0.8"/>
<circle cx="663.2" cy="203" r="1.3" fill="#5a5a5a"/>
<circle cx="663.2" cy="203" r="2.2" fill="none" stroke="#cfcfcf" stroke-width="0.8"/>
<circle cx="692.2" cy="222.3" r="1.3" fill="#5a5a5a"/>
<circle cx="692.2" cy="222.3" r="2.2" fill="none" stroke="#cfcfcf" stroke-width="0.8"/>
<circle cx="680.3" cy="226" r="1.3" fill="#5a5a5a"/>
<circle cx="680.3" cy="226" r="2.2" fill="none" stroke="#cfcfcf" stroke-width="0.8"/>
<circle cx="666.2" cy="249.8" r="1.3" fill="#5a5a5a"/>
<circle cx="666.2" cy="249.8" r="2.2" fill="none" stroke="#cfcfcf" stroke-width="0.8"/>
<circle cx="667.7" cy="257.9" r="1.3" fill="#5a5a5a"/>
<circle cx="667.7" cy="257.9" r="2.2" fill="none" stroke="#cfcfcf" stroke-width="0.8"/>
<circle cx="653.6" cy="255" r="1.3" fill="#5a5a5a"/>
<circle cx="653.6" cy="255" r="2.2" fill="none" stroke="#cfcfcf" stroke-width="0.8"/>
<circle cx="684.7" cy="267.6" r="1.3" fill="#5a5a5a"/>
<circle cx="684.7" cy="267.6" r="2.2" fill="none" stroke="#cfcfcf" stroke-width="0.8"/>
<circle cx="700.3" cy="269" r="1.3" fill="#5a5a5a"/>
<circle cx="700.3" cy="269" r="2.2" fill="none" stroke="#cfcfcf" stroke-width="0.8"/>
<circle cx="706.2" cy="206" r="1.3" fill="#5a5a5a"/>
<circle cx="706.2" cy="206" r="2.2" fill="none" stroke="#cfcfcf" stroke-width="0.8"/>
<circle cx="763" cy="235" r="1.3" fill="#5a5a5a"/>
<circle cx="763" cy="235" r="2.2" fill="none" stroke="#cfcfcf" stroke-width="0.8"/>
<circle cx="778.5" cy="270.5" r="1.3" fill="#5a5a5a"/>
<circle cx="778.5" cy="270.5" r="2.2" fill="none" stroke="#cfcfcf" stroke-width="0.8"/>
<circle cx="800" cy="209.7" r="1.3" fill="#5a5a5a"/>
<circle cx="800" cy="209.7" r="2.2" fill="none" stroke="#cfcfcf" stroke-width="0.8"/>
<circle cx="793.3" cy="210.4" r="1.3" fill="#5a5a5a"/>
<circle cx="793.3" cy="210.4" r="2.2" fill="none" stroke="#cfcfcf" stroke-width="0.8"/>
<mask id="mk3"><ellipse cx="740.7" cy="141.1" rx="11" ry="7" fill="#fff" transform="rotate(-20 740.7 141.1)"/><ellipse cx="731.8" cy="154.5" rx="10" ry="7" fill="#fff" transform="rotate(10 731.8 154.5)"/><ellipse cx="638.7" cy="69.5" rx="7.3" ry="6.1" fill="#fff"/><ellipse cx="644.7" cy="64" rx="4.1" ry="3.1" fill="#fff"/><ellipse cx="673.9" cy="65.7" rx="5.4" ry="4.6" fill="#fff"/><ellipse cx="663.2" cy="104" rx="5.8" ry="5.1" fill="#fff"/><ellipse cx="650.6" cy="111.4" rx="6.6" ry="4.6" fill="#fff" transform="rotate(-30 650.6 111.4)"/><ellipse cx="627.6" cy="105.5" rx="4.7" ry="6.5" fill="#fff"/><ellipse cx="631.3" cy="121.8" rx="4.7" ry="7.1" fill="#fff"/><ellipse cx="678.8" cy="121.8" rx="5.4" ry="5.8" fill="#fff"/><ellipse cx="704" cy="128.5" rx="5.8" ry="6.1" fill="#fff"/><ellipse cx="648.8" cy="133" rx="6.4" ry="5.8" fill="#fff"/><ellipse cx="626.1" cy="147" rx="7.6" ry="5.8" fill="#fff"/><ellipse cx="657.3" cy="170.8" rx="5.8" ry="6.1" fill="#fff"/><ellipse cx="666.2" cy="183.5" rx="5.8" ry="5.6" fill="#fff"/><ellipse cx="711.5" cy="184" rx="5.6" ry="5.1" fill="#fff"/><ellipse cx="714" cy="114.4" rx="2.1" ry="5.1" fill="#fff"/><ellipse cx="730.3" cy="64.7" rx="4.3" ry="3.6" fill="#fff"/><ellipse cx="755.5" cy="62.5" rx="5.4" ry="2.6" fill="#fff"/><ellipse cx="807.4" cy="65.5" rx="3.1" ry="4.1" fill="#fff"/><ellipse cx="789.6" cy="75.8" rx="1.6" ry="1.6" fill="#fff"/><ellipse cx="793.3" cy="100.3" rx="5.8" ry="5.4" fill="#fff"/><ellipse cx="806.7" cy="92.9" rx="3.6" ry="5.1" fill="#fff"/><ellipse cx="718.4" cy="115.2" rx="3.9" ry="7.2" fill="#fff"/><ellipse cx="741.4" cy="115.9" rx="5.4" ry="5.1" fill="#fff"/><ellipse cx="751.8" cy="124" rx="5.8" ry="5.4" fill="#fff"/><ellipse cx="772.6" cy="119.6" rx="6.6" ry="7.6" fill="#fff" transform="rotate(-20 772.6 119.6)"/><ellipse cx="770.3" cy="163.4" rx="6.5" ry="6.1" fill="#fff"/><ellipse cx="734.7" cy="176" rx="8.0" ry="5.4" fill="#fff" transform="rotate(10 734.7 176)"/><ellipse cx="799.3" cy="176" rx="5.8" ry="5.8" fill="#fff"/><ellipse cx="632.1" cy="197.1" rx="6.1" ry="5.4" fill="#fff"/><ellipse cx="683.2" cy="200.1" rx="5.1" ry="6.5" fill="#fff"/><ellipse cx="618" cy="216.4" rx="3.6" ry="6.9" fill="#fff"/><ellipse cx="664.7" cy="225.3" rx="5.8" ry="5.8" fill="#fff"/><ellipse cx="638.7" cy="243.1" rx="6.1" ry="5.8" fill="#fff"/><ellipse cx="680.3" cy="253.5" rx="5.8" ry="5.8" fill="#fff"/><ellipse cx="695.1" cy="243.1" rx="5.4" ry="6.9" fill="#fff"/><ellipse cx="712.5" cy="243.1" rx="4.6" ry="5.6" fill="#fff"/><ellipse cx="643.9" cy="270.5" rx="5.8" ry="5.4" fill="#fff"/><ellipse cx="623.2" cy="281.7" rx="6.1" ry="5.8" fill="#fff"/><ellipse cx="661" cy="299.5" rx="6.5" ry="5.8" fill="#fff"/><ellipse cx="794.8" cy="221.6" rx="5.8" ry="5.8" fill="#fff"/><ellipse cx="741.4" cy="235" rx="5.1" ry="8.7" fill="#fff"/><ellipse cx="763.7" cy="249.8" rx="6.5" ry="6.9" fill="#fff"/><ellipse cx="798.5" cy="253.5" rx="6.5" ry="5.8" fill="#fff"/><ellipse cx="738.4" cy="271.3" rx="6.5" ry="4.3" fill="#fff"/><ellipse cx="770.3" cy="286.1" rx="8.0" ry="6.1" fill="#fff"/><ellipse cx="749.6" cy="297.2" rx="7.6" ry="5.1" fill="#fff" transform="rotate(15 749.6 297.2)"/><ellipse cx="719.9" cy="304.7" rx="4.1" ry="3.1" fill="#fff"/><ellipse cx="806" cy="306" rx="3.1" ry="2.1" fill="#fff"/></mask>
<rect x="615" y="61" width="196" height="247" filter="url(#nz2)" opacity="0.35" mask="url(#mk3)"/>
<rect x="615" y="61" width="196" height="247" fill="url(#scan)"/>
</g>
<g clip-path="url(#cp4)">
<rect x="816" y="61" width="195.5" height="247" fill="#a9a9a9"/>
<rect x="816" y="61" width="195.5" height="247" filter="url(#nz)" opacity="0.10"/>
<line x1="869.4" y1="261.6" x2="851.6" y2="300.2" stroke="#7c7c7c" stroke-width="1.1"/>
<line x1="870.1999999999999" y1="262.40000000000003" x2="852.4" y2="301.0" stroke="#cacaca" stroke-width="0.8"/>
<line x1="948.4" y1="69.2" x2="975.8" y2="94.4" stroke="#7c7c7c" stroke-width="1.1"/>
<line x1="949.1999999999999" y1="70.0" x2="976.5999999999999" y2="95.2" stroke="#cacaca" stroke-width="0.8"/>
<line x1="932.8" y1="136.7" x2="918" y2="124" stroke="#7c7c7c" stroke-width="1.1"/>
<line x1="933.5999999999999" y1="137.5" x2="918.8" y2="124.8" stroke="#cacaca" stroke-width="0.8"/>
<line x1="932.8" y1="136.7" x2="948.4" y2="146.3" stroke="#7c7c7c" stroke-width="1.1"/>
<line x1="933.5999999999999" y1="137.5" x2="949.1999999999999" y2="147.10000000000002" stroke="#cacaca" stroke-width="0.8"/>
<line x1="984" y1="205.3" x2="993" y2="185" stroke="#7c7c7c" stroke-width="1.1"/>
<line x1="984.8" y1="206.10000000000002" x2="993.8" y2="185.8" stroke="#cacaca" stroke-width="0.8"/>
<line x1="947.6" y1="219.3" x2="950" y2="246" stroke="#7c7c7c" stroke-width="1.1"/>
<line x1="948.4" y1="220.10000000000002" x2="950.8" y2="246.8" stroke="#cacaca" stroke-width="0.8"/>
<line x1="833.5" y1="187.5" x2="840" y2="210" stroke="#7c7c7c" stroke-width="1.1"/>
<line x1="834.3" y1="188.3" x2="840.8" y2="210.8" stroke="#cacaca" stroke-width="0.8"/>
<line x1="977.3" y1="115.9" x2="995" y2="138" stroke="#7c7c7c" stroke-width="1.1"/>
<line x1="978.0999999999999" y1="116.7" x2="995.8" y2="138.8" stroke="#cacaca" stroke-width="0.8"/>
<ellipse cx="852.4" cy="63.2" rx="7.2" ry="4.7" fill="none" stroke="#dcdcdc" stroke-width="1.5"/>
<ellipse cx="852.4" cy="63.2" rx="6.1" ry="3.6" fill="#8b8b8b" stroke="#444" stroke-width="1.35"/>
<ellipse cx="885" cy="72.1" rx="7.7" ry="6.7" fill="none" stroke="#dcdcdc" stroke-width="1.5"/>
<ellipse cx="885" cy="72.1" rx="6.6" ry="5.6" fill="#8b8b8b" stroke="#444" stroke-width="1.35"/>
<ellipse cx="843.4" cy="81.8" rx="6.7" ry="6.7" fill="none" stroke="#dcdcdc" stroke-width="1.5"/>
<ellipse cx="843.4" cy="81.8" rx="5.6" ry="5.6" fill="#8b8b8b" stroke="#444" stroke-width="1.35"/>
<ellipse cx="847.9" cy="92.2" rx="6.3" ry="6.3" fill="none" stroke="#dcdcdc" stroke-width="1.5"/>
<ellipse cx="847.9" cy="92.2" rx="5.2" ry="5.2" fill="#8b8b8b" stroke="#444" stroke-width="1.35"/>
<ellipse cx="892.4" cy="95.1" rx="7.0" ry="7.0" fill="none" stroke="#dcdcdc" stroke-width="1.5"/>
<ellipse cx="892.4" cy="95.1" rx="5.9" ry="5.9" fill="#8b8b8b" stroke="#444" stroke-width="1.35"/>
<ellipse cx="915" cy="98.8" rx="7.9" ry="8.1" fill="none" stroke="#dcdcdc" stroke-width="1.5"/>
<ellipse cx="915" cy="98.8" rx="6.8" ry="7.0" fill="#8b8b8b" stroke="#444" stroke-width="1.35"/>
<ellipse cx="839.7" cy="110" rx="8.1" ry="7.7" fill="none" stroke="#dcdcdc" stroke-width="1.5"/>
<ellipse cx="839.7" cy="110" rx="7.0" ry="6.6" fill="#8b8b8b" stroke="#444" stroke-width="1.35"/>
<ellipse cx="874.6" cy="114.4" rx="7.4" ry="7.7" fill="none" stroke="#dcdcdc" stroke-width="1.5"/>
<ellipse cx="874.6" cy="114.4" rx="6.3" ry="6.6" fill="#8b8b8b" stroke="#444" stroke-width="1.35"/>
<ellipse cx="817.5" cy="124" rx="3.7" ry="5.7" fill="none" stroke="#dcdcdc" stroke-width="1.5"/>
<ellipse cx="817.5" cy="124" rx="2.6" ry="4.6" fill="#8b8b8b" stroke="#444" stroke-width="1.35"/>
<ellipse cx="894.6" cy="133.7" rx="7.4" ry="7.7" fill="none" stroke="#dcdcdc" stroke-width="1.5"/>
<ellipse cx="894.6" cy="133.7" rx="6.3" ry="6.6" fill="#8b8b8b" stroke="#444" stroke-width="1.35"/>
<ellipse cx="833.1" cy="146.3" rx="7.4" ry="7.7" fill="none" stroke="#dcdcdc" stroke-width="1.5"/>
<ellipse cx="833.1" cy="146.3" rx="6.3" ry="6.6" fill="#8b8b8b" stroke="#444" stroke-width="1.35"/>
<ellipse cx="857.5" cy="161.1" rx="7.0" ry="6.7" fill="none" stroke="#dcdcdc" stroke-width="1.5"/>
<ellipse cx="857.5" cy="161.1" rx="5.9" ry="5.6" fill="#8b8b8b" stroke="#444" stroke-width="1.35"/>
<ellipse cx="865.7" cy="170.8" rx="8.1" ry="8.9" fill="none" stroke="#dcdcdc" stroke-width="1.5"/>
<ellipse cx="865.7" cy="170.8" rx="7.0" ry="7.8" fill="#8b8b8b" stroke="#444" stroke-width="1.35"/>
<ellipse cx="890.9" cy="163.4" rx="7.7" ry="7.4" fill="none" stroke="#dcdcdc" stroke-width="1.5"/>
<ellipse cx="890.9" cy="163.4" rx="6.6" ry="6.3" fill="#8b8b8b" stroke="#444" stroke-width="1.35"/>
<ellipse cx="915" cy="176" rx="7.7" ry="7.2" fill="none" stroke="#dcdcdc" stroke-width="1.5"/>
<ellipse cx="915" cy="176" rx="6.6" ry="6.1" fill="#8b8b8b" stroke="#444" stroke-width="1.35"/>
<ellipse cx="833.5" cy="187.5" rx="7.4" ry="7.4" fill="none" stroke="#dcdcdc" stroke-width="1.5"/>
<ellipse cx="833.5" cy="187.5" rx="6.3" ry="6.3" fill="#8b8b8b" stroke="#444" stroke-width="1.35"/>
<ellipse cx="906.5" cy="62.5" rx="5.7" ry="3.7" fill="none" stroke="#dcdcdc" stroke-width="1.5"/>
<ellipse cx="906.5" cy="62.5" rx="4.6" ry="2.6" fill="#8b8b8b" stroke="#444" stroke-width="1.35"/>
<ellipse cx="948.4" cy="69.2" rx="7.7" ry="7.0" fill="none" stroke="#dcdcdc" stroke-width="1.5"/>
<ellipse cx="948.4" cy="69.2" rx="6.6" ry="5.9" fill="#8b8b8b" stroke="#444" stroke-width="1.35"/>
<ellipse cx="987.7" cy="67.7" rx="7.4" ry="5.9" fill="none" stroke="#dcdcdc" stroke-width="1.5"/>
<ellipse cx="987.7" cy="67.7" rx="6.3" ry="4.8" fill="#8b8b8b" stroke="#444" stroke-width="1.35"/>
<ellipse cx="986.2" cy="78.1" rx="7.4" ry="6.3" fill="none" stroke="#dcdcdc" stroke-width="1.5"/>
<ellipse cx="986.2" cy="78.1" rx="6.3" ry="5.2" fill="#8b8b8b" stroke="#444" stroke-width="1.35"/>
<ellipse cx="1007.7" cy="79.5" rx="4.7" ry="6.7" fill="none" stroke="#dcdcdc" stroke-width="1.5"/>
<ellipse cx="1007.7" cy="79.5" rx="3.6" ry="5.6" fill="#8b8b8b" stroke="#444" stroke-width="1.35"/>
<ellipse cx="940.2" cy="96.6" rx="8.1" ry="8.5" fill="none" stroke="#dcdcdc" stroke-width="1.5"/>
<ellipse cx="940.2" cy="96.6" rx="7.0" ry="7.4" fill="#8b8b8b" stroke="#444" stroke-width="1.35"/>
<ellipse cx="1005.5" cy="98.8" rx="5.9" ry="6.3" fill="none" stroke="#dcdcdc" stroke-width="1.5"/>
<ellipse cx="1005.5" cy="98.8" rx="4.8" ry="5.2" fill="#8b8b8b" stroke="#444" stroke-width="1.35"/>
<ellipse cx="955.8" cy="118.9" rx="6.7" ry="6.7" fill="none" stroke="#dcdcdc" stroke-width="1.5"/>
<ellipse cx="955.8" cy="118.9" rx="5.6" ry="5.6" fill="#8b8b8b" stroke="#444" stroke-width="1.35"/>
<ellipse cx="977.3" cy="115.9" rx="8.9" ry="7.7" fill="none" stroke="#dcdcdc" stroke-width="1.5"/>
<ellipse cx="977.3" cy="115.9" rx="7.8" ry="6.6" fill="#8b8b8b" stroke="#444" stroke-width="1.35"/>
<ellipse cx="932.8" cy="136.7" rx="7.0" ry="5.9" fill="none" stroke="#dcdcdc" stroke-width="1.5"/>
<ellipse cx="932.8" cy="136.7" rx="5.9" ry="4.8" fill="#8b8b8b" stroke="#444" stroke-width="1.35"/>
<ellipse cx="989.2" cy="151.5" rx="8.5" ry="8.1" fill="none" stroke="#dcdcdc" stroke-width="1.5"/>
<ellipse cx="989.2" cy="151.5" rx="7.4" ry="7.0" fill="#8b8b8b" stroke="#444" stroke-width="1.35"/>
<ellipse cx="962.4" cy="157.4" rx="6.7" ry="7.7" fill="none" stroke="#dcdcdc" stroke-width="1.5"/>
<ellipse cx="962.4" cy="157.4" rx="5.6" ry="6.6" fill="#8b8b8b" stroke="#444" stroke-width="1.35"/>
<ellipse cx="937.2" cy="160.4" rx="7.4" ry="5.9" fill="none" stroke="#dcdcdc" stroke-width="1.5"/>
<ellipse cx="937.2" cy="160.4" rx="6.3" ry="4.8" fill="#8b8b8b" stroke="#444" stroke-width="1.35"/>
<ellipse cx="946.9" cy="172.3" rx="7.4" ry="7.0" fill="none" stroke="#dcdcdc" stroke-width="1.5"/>
<ellipse cx="946.9" cy="172.3" rx="6.3" ry="5.9" fill="#8b8b8b" stroke="#444" stroke-width="1.35"/>
<ellipse cx="1007" cy="165.6" rx="5.2" ry="7.0" fill="none" stroke="#dcdcdc" stroke-width="1.5"/>
<ellipse cx="1007" cy="165.6" rx="4.1" ry="5.9" fill="#8b8b8b" stroke="#444" stroke-width="1.35"/>
<ellipse cx="1004" cy="176" rx="5.5" ry="5.5" fill="none" stroke="#dcdcdc" stroke-width="1.5"/>
<ellipse cx="1004" cy="176" rx="4.4" ry="4.4" fill="#8b8b8b" stroke="#444" stroke-width="1.35"/>
<ellipse cx="974.3" cy="185" rx="6.7" ry="6.7" fill="none" stroke="#dcdcdc" stroke-width="1.5"/>
<ellipse cx="974.3" cy="185" rx="5.6" ry="5.6" fill="#8b8b8b" stroke="#444" stroke-width="1.35"/>
<ellipse cx="863.5" cy="200" rx="7.7" ry="7.4" fill="none" stroke="#dcdcdc" stroke-width="1.5"/>
<ellipse cx="863.5" cy="200" rx="6.6" ry="6.3" fill="#8b8b8b" stroke="#444" stroke-width="1.35"/>
<ellipse cx="819" cy="206.7" rx="5.2" ry="7.4" fill="none" stroke="#dcdcdc" stroke-width="1.5"/>
<ellipse cx="819" cy="206.7" rx="4.1" ry="6.3" fill="#8b8b8b" stroke="#444" stroke-width="1.35"/>
<ellipse cx="885" cy="211.2" rx="7.7" ry="7.4" fill="none" stroke="#dcdcdc" stroke-width="1.5" transform="rotate(-20 885 211.2)"/>
<ellipse cx="885" cy="211.2" rx="6.6" ry="6.3" fill="#8b8b8b" stroke="#444" stroke-width="1.35" transform="rotate(-20 885 211.2)"/>
<ellipse cx="853.8" cy="223.8" rx="7.4" ry="8.1" fill="none" stroke="#dcdcdc" stroke-width="1.5"/>
<ellipse cx="853.8" cy="223.8" rx="6.3" ry="7.0" fill="#8b8b8b" stroke="#444" stroke-width="1.35"/>
<ellipse cx="822.7" cy="231.2" rx="7.4" ry="7.0" fill="none" stroke="#dcdcdc" stroke-width="1.5"/>
<ellipse cx="822.7" cy="231.2" rx="6.3" ry="5.9" fill="#8b8b8b" stroke="#444" stroke-width="1.35"/>
<ellipse cx="877.6" cy="237.9" rx="8.5" ry="8.1" fill="none" stroke="#dcdcdc" stroke-width="1.5"/>
<ellipse cx="877.6" cy="237.9" rx="7.4" ry="7.0" fill="#8b8b8b" stroke="#444" stroke-width="1.35"/>
<ellipse cx="914.5" cy="232.5" rx="7.7" ry="8.1" fill="none" stroke="#dcdcdc" stroke-width="1.5"/>
<ellipse cx="914.5" cy="232.5" rx="6.6" ry="7.0" fill="#8b8b8b" stroke="#444" stroke-width="1.35"/>
<ellipse cx="866.4" cy="252.7" rx="7.0" ry="8.5" fill="none" stroke="#dcdcdc" stroke-width="1.5"/>
<ellipse cx="866.4" cy="252.7" rx="5.9" ry="7.4" fill="#8b8b8b" stroke="#444" stroke-width="1.35"/>
<ellipse cx="820.5" cy="254.2" rx="6.3" ry="7.4" fill="none" stroke="#dcdcdc" stroke-width="1.5"/>
<ellipse cx="820.5" cy="254.2" rx="5.2" ry="6.3" fill="#8b8b8b" stroke="#444" stroke-width="1.35"/>
<ellipse cx="911" cy="268.5" rx="7.7" ry="8.5" fill="none" stroke="#dcdcdc" stroke-width="1.5"/>
<ellipse cx="911" cy="268.5" rx="6.6" ry="7.4" fill="#8b8b8b" stroke="#444" stroke-width="1.35"/>
<ellipse cx="854.6" cy="286.9" rx="7.4" ry="8.1" fill="none" stroke="#dcdcdc" stroke-width="1.5"/>
<ellipse cx="854.6" cy="286.9" rx="6.3" ry="7.0" fill="#8b8b8b" stroke="#444" stroke-width="1.35"/>
<ellipse cx="863.5" cy="293.5" rx="6.7" ry="7.4" fill="none" stroke="#dcdcdc" stroke-width="1.5"/>
<ellipse cx="863.5" cy="293.5" rx="5.6" ry="6.3" fill="#8b8b8b" stroke="#444" stroke-width="1.35"/>
<ellipse cx="885" cy="289.8" rx="8.1" ry="8.1" fill="none" stroke="#dcdcdc" stroke-width="1.5"/>
<ellipse cx="885" cy="289.8" rx="7.0" ry="7.0" fill="#8b8b8b" stroke="#444" stroke-width="1.35"/>
<ellipse cx="828.6" cy="302.4" rx="7.4" ry="6.7" fill="none" stroke="#dcdcdc" stroke-width="1.5"/>
<ellipse cx="828.6" cy="302.4" rx="6.3" ry="5.6" fill="#8b8b8b" stroke="#444" stroke-width="1.35"/>
<ellipse cx="915" cy="197.5" rx="7.7" ry="7.4" fill="none" stroke="#dcdcdc" stroke-width="1.5"/>
<ellipse cx="915" cy="197.5" rx="6.6" ry="6.3" fill="#8b8b8b" stroke="#444" stroke-width="1.35"/>
<ellipse cx="940.2" cy="206.7" rx="7.0" ry="6.7" fill="none" stroke="#dcdcdc" stroke-width="1.5"/>
<ellipse cx="940.2" cy="206.7" rx="5.9" ry="5.6" fill="#8b8b8b" stroke="#444" stroke-width="1.35"/>
<ellipse cx="959.5" cy="201.5" rx="6.3" ry="7.4" fill="none" stroke="#dcdcdc" stroke-width="1.5"/>
<ellipse cx="959.5" cy="201.5" rx="5.2" ry="6.3" fill="#8b8b8b" stroke="#444" stroke-width="1.35"/>
<ellipse cx="984" cy="205.3" rx="6.7" ry="6.7" fill="none" stroke="#dcdcdc" stroke-width="1.5"/>
<ellipse cx="984" cy="205.3" rx="5.6" ry="5.6" fill="#8b8b8b" stroke="#444" stroke-width="1.35"/>
<ellipse cx="1004.7" cy="208.2" rx="7.0" ry="7.7" fill="none" stroke="#dcdcdc" stroke-width="1.5"/>
<ellipse cx="1004.7" cy="208.2" rx="5.9" ry="6.6" fill="#8b8b8b" stroke="#444" stroke-width="1.35"/>
<ellipse cx="947.6" cy="219.3" rx="7.7" ry="7.7" fill="none" stroke="#dcdcdc" stroke-width="1.5"/>
<ellipse cx="947.6" cy="219.3" rx="6.6" ry="6.6" fill="#8b8b8b" stroke="#444" stroke-width="1.35"/>
<ellipse cx="974.3" cy="219.3" rx="7.0" ry="7.0" fill="none" stroke="#dcdcdc" stroke-width="1.5"/>
<ellipse cx="974.3" cy="219.3" rx="5.9" ry="5.9" fill="#8b8b8b" stroke="#444" stroke-width="1.35"/>
<ellipse cx="989.9" cy="227.5" rx="7.0" ry="6.3" fill="none" stroke="#dcdcdc" stroke-width="1.5"/>
<ellipse cx="989.9" cy="227.5" rx="5.9" ry="5.2" fill="#8b8b8b" stroke="#444" stroke-width="1.35"/>
<ellipse cx="983.2" cy="240.9" rx="7.0" ry="6.7" fill="none" stroke="#dcdcdc" stroke-width="1.5"/>
<ellipse cx="983.2" cy="240.9" rx="5.9" ry="5.6" fill="#8b8b8b" stroke="#444" stroke-width="1.35"/>
<ellipse cx="996.6" cy="248.3" rx="7.0" ry="6.7" fill="none" stroke="#dcdcdc" stroke-width="1.5"/>
<ellipse cx="996.6" cy="248.3" rx="5.9" ry="5.6" fill="#8b8b8b" stroke="#444" stroke-width="1.35"/>
<ellipse cx="986.2" cy="254.2" rx="7.0" ry="6.7" fill="none" stroke="#dcdcdc" stroke-width="1.5"/>
<ellipse cx="986.2" cy="254.2" rx="5.9" ry="5.6" fill="#8b8b8b" stroke="#444" stroke-width="1.35"/>
<ellipse cx="1001" cy="262.4" rx="7.7" ry="7.7" fill="none" stroke="#dcdcdc" stroke-width="1.5"/>
<ellipse cx="1001" cy="262.4" rx="6.6" ry="6.6" fill="#8b8b8b" stroke="#444" stroke-width="1.35"/>
<ellipse cx="948.4" cy="253.5" rx="7.0" ry="7.7" fill="none" stroke="#dcdcdc" stroke-width="1.5"/>
<ellipse cx="948.4" cy="253.5" rx="5.9" ry="6.6" fill="#8b8b8b" stroke="#444" stroke-width="1.35"/>
<ellipse cx="937.2" cy="256.4" rx="7.4" ry="7.7" fill="none" stroke="#dcdcdc" stroke-width="1.5"/>
<ellipse cx="937.2" cy="256.4" rx="6.3" ry="6.6" fill="#8b8b8b" stroke="#444" stroke-width="1.35"/>
<ellipse cx="924.6" cy="276.5" rx="7.0" ry="6.7" fill="none" stroke="#dcdcdc" stroke-width="1.5"/>
<ellipse cx="924.6" cy="276.5" rx="5.9" ry="5.6" fill="#8b8b8b" stroke="#444" stroke-width="1.35"/>
<ellipse cx="933.5" cy="282.4" rx="6.7" ry="7.0" fill="none" stroke="#dcdcdc" stroke-width="1.5"/>
<ellipse cx="933.5" cy="282.4" rx="5.6" ry="5.9" fill="#8b8b8b" stroke="#444" stroke-width="1.35"/>
<ellipse cx="958.7" cy="289.1" rx="7.7" ry="7.0" fill="none" stroke="#dcdcdc" stroke-width="1.5"/>
<ellipse cx="958.7" cy="289.1" rx="6.6" ry="5.9" fill="#8b8b8b" stroke="#444" stroke-width="1.35"/>
<ellipse cx="983.2" cy="285.4" rx="7.4" ry="7.7" fill="none" stroke="#dcdcdc" stroke-width="1.5"/>
<ellipse cx="983.2" cy="285.4" rx="6.3" ry="6.6" fill="#8b8b8b" stroke="#444" stroke-width="1.35"/>
<ellipse cx="1005.5" cy="301.7" rx="6.2" ry="6.7" fill="none" stroke="#dcdcdc" stroke-width="1.5"/>
<ellipse cx="1005.5" cy="301.7" rx="5.1" ry="5.6" fill="#8b8b8b" stroke="#444" stroke-width="1.35"/>
<ellipse cx="974.3" cy="306" rx="6.7" ry="3.7" fill="none" stroke="#dcdcdc" stroke-width="1.5"/>
<ellipse cx="974.3" cy="306" rx="5.6" ry="2.6" fill="#8b8b8b" stroke="#444" stroke-width="1.35"/>
<ellipse cx="913.5" cy="304.7" rx="3.7" ry="3.7" fill="none" stroke="#dcdcdc" stroke-width="1.5"/>
<ellipse cx="913.5" cy="304.7" rx="2.6" ry="2.6" fill="#8b8b8b" stroke="#444" stroke-width="1.35"/>
<circle cx="870.2" cy="154.5" r="1.3" fill="#5a5a5a"/>
<circle cx="870.2" cy="154.5" r="2.2" fill="none" stroke="#cfcfcf" stroke-width="0.8"/>
<circle cx="893.2" cy="174.5" r="1.3" fill="#5a5a5a"/>
<circle cx="893.2" cy="174.5" r="2.2" fill="none" stroke="#cfcfcf" stroke-width="0.8"/>
<circle cx="893.2" cy="115.9" r="1.3" fill="#5a5a5a"/>
<circle cx="893.2" cy="115.9" r="2.2" fill="none" stroke="#cfcfcf" stroke-width="0.8"/>
<circle cx="902.8" cy="159" r="1.3" fill="#5a5a5a"/>
<circle cx="902.8" cy="159" r="2.2" fill="none" stroke="#cfcfcf" stroke-width="0.8"/>
<circle cx="881.3" cy="178.2" r="1.3" fill="#5a5a5a"/>
<circle cx="881.3" cy="178.2" r="2.2" fill="none" stroke="#cfcfcf" stroke-width="0.8"/>
<circle cx="845.7" cy="135.9" r="1.3" fill="#5a5a5a"/>
<circle cx="845.7" cy="135.9" r="2.2" fill="none" stroke="#cfcfcf" stroke-width="0.8"/>
<circle cx="826.4" cy="101" r="1.3" fill="#5a5a5a"/>
<circle cx="826.4" cy="101" r="2.2" fill="none" stroke="#cfcfcf" stroke-width="0.8"/>
<circle cx="819" cy="78.8" r="1.3" fill="#5a5a5a"/>
<circle cx="819" cy="78.8" r="2.2" fill="none" stroke="#cfcfcf" stroke-width="0.8"/>
<circle cx="975.8" cy="94.4" r="1.3" fill="#5a5a5a"/>
<circle cx="975.8" cy="94.4" r="2.2" fill="none" stroke="#cfcfcf" stroke-width="0.8"/>
<circle cx="927.6" cy="113.7" r="1.3" fill="#5a5a5a"/>
<circle cx="927.6" cy="113.7" r="2.2" fill="none" stroke="#cfcfcf" stroke-width="0.8"/>
<circle cx="942.4" cy="124.8" r="1.3" fill="#5a5a5a"/>
<circle cx="942.4" cy="124.8" r="2.2" fill="none" stroke="#cfcfcf" stroke-width="0.8"/>
<circle cx="963.2" cy="138.2" r="1.3" fill="#5a5a5a"/>
<circle cx="963.2" cy="138.2" r="2.2" fill="none" stroke="#cfcfcf" stroke-width="0.8"/>
<circle cx="984.7" cy="124.8" r="1.3" fill="#5a5a5a"/>
<circle cx="984.7" cy="124.8" r="2.2" fill="none" stroke="#cfcfcf" stroke-width="0.8"/>
<circle cx="995.8" cy="138.2" r="1.3" fill="#5a5a5a"/>
<circle cx="995.8" cy="138.2" r="2.2" fill="none" stroke="#cfcfcf" stroke-width="0.8"/>
<circle cx="948.4" cy="146.3" r="1.3" fill="#5a5a5a"/>
<circle cx="948.4" cy="146.3" r="2.2" fill="none" stroke="#cfcfcf" stroke-width="0.8"/>
<circle cx="900.6" cy="202.3" r="1.3" fill="#5a5a5a"/>
<circle cx="900.6" cy="202.3" r="2.2" fill="none" stroke="#cfcfcf" stroke-width="0.8"/>
<circle cx="854.6" cy="242.3" r="1.3" fill="#5a5a5a"/>
<circle cx="854.6" cy="242.3" r="2.2" fill="none" stroke="#cfcfcf" stroke-width="0.8"/>
<circle cx="862.7" cy="235.7" r="1.3" fill="#5a5a5a"/>
<circle cx="862.7" cy="235.7" r="2.2" fill="none" stroke="#cfcfcf" stroke-width="0.8"/>
<circle cx="847.2" cy="201.5" r="1.3" fill="#5a5a5a"/>
<circle cx="847.2" cy="201.5" r="2.2" fill="none" stroke="#cfcfcf" stroke-width="0.8"/>
<circle cx="839.7" cy="216.4" r="1.3" fill="#5a5a5a"/>
<circle cx="839.7" cy="216.4" r="2.2" fill="none" stroke="#cfcfcf" stroke-width="0.8"/>
<circle cx="904.3" cy="277.2" r="1.3" fill="#5a5a5a"/>
<circle cx="904.3" cy="277.2" r="2.2" fill="none" stroke="#cfcfcf" stroke-width="0.8"/>
<circle cx="931.3" cy="207.5" r="1.3" fill="#5a5a5a"/>
<circle cx="931.3" cy="207.5" r="2.2" fill="none" stroke="#cfcfcf" stroke-width="0.8"/>
<circle cx="931.3" cy="239.4" r="1.3" fill="#5a5a5a"/>
<circle cx="931.3" cy="239.4" r="2.2" fill="none" stroke="#cfcfcf" stroke-width="0.8"/>
<circle cx="952.8" cy="233.4" r="1.3" fill="#5a5a5a"/>
<circle cx="952.8" cy="233.4" r="2.2" fill="none" stroke="#cfcfcf" stroke-width="0.8"/>
<circle cx="915.7" cy="251.3" r="1.3" fill="#5a5a5a"/>
<circle cx="915.7" cy="251.3" r="2.2" fill="none" stroke="#cfcfcf" stroke-width="0.8"/>
<circle cx="967.6" cy="272.8" r="1.3" fill="#5a5a5a"/>
<circle cx="967.6" cy="272.8" r="2.2" fill="none" stroke="#cfcfcf" stroke-width="0.8"/>
<circle cx="981.7" cy="270.5" r="1.3" fill="#5a5a5a"/>
<circle cx="981.7" cy="270.5" r="2.2" fill="none" stroke="#cfcfcf" stroke-width="0.8"/>
<circle cx="923.9" cy="289.1" r="1.3" fill="#5a5a5a"/>
<circle cx="923.9" cy="289.1" r="2.2" fill="none" stroke="#cfcfcf" stroke-width="0.8"/>
<circle cx="995" cy="294.3" r="1.3" fill="#5a5a5a"/>
<circle cx="995" cy="294.3" r="2.2" fill="none" stroke="#cfcfcf" stroke-width="0.8"/>
<circle cx="1004" cy="229" r="1.3" fill="#5a5a5a"/>
<circle cx="1004" cy="229" r="2.2" fill="none" stroke="#cfcfcf" stroke-width="0.8"/>
<circle cx="1008.4" cy="188.2" r="1.3" fill="#5a5a5a"/>
<circle cx="1008.4" cy="188.2" r="2.2" fill="none" stroke="#cfcfcf" stroke-width="0.8"/>
<mask id="mk4"><ellipse cx="852.4" cy="63.2" rx="5.6" ry="3.1" fill="#fff"/><ellipse cx="885" cy="72.1" rx="6.1" ry="5.1" fill="#fff"/><ellipse cx="843.4" cy="81.8" rx="5.1" ry="5.1" fill="#fff"/><ellipse cx="847.9" cy="92.2" rx="4.7" ry="4.7" fill="#fff"/><ellipse cx="892.4" cy="95.1" rx="5.4" ry="5.4" fill="#fff"/><ellipse cx="915" cy="98.8" rx="6.3" ry="6.5" fill="#fff"/><ellipse cx="839.7" cy="110" rx="6.5" ry="6.1" fill="#fff"/><ellipse cx="874.6" cy="114.4" rx="5.8" ry="6.1" fill="#fff"/><ellipse cx="817.5" cy="124" rx="2.1" ry="4.1" fill="#fff"/><ellipse cx="894.6" cy="133.7" rx="5.8" ry="6.1" fill="#fff"/><ellipse cx="833.1" cy="146.3" rx="5.8" ry="6.1" fill="#fff"/><ellipse cx="857.5" cy="161.1" rx="5.4" ry="5.1" fill="#fff"/><ellipse cx="865.7" cy="170.8" rx="6.5" ry="7.3" fill="#fff"/><ellipse cx="890.9" cy="163.4" rx="6.1" ry="5.8" fill="#fff"/><ellipse cx="915" cy="176" rx="6.1" ry="5.6" fill="#fff"/><ellipse cx="833.5" cy="187.5" rx="5.8" ry="5.8" fill="#fff"/><ellipse cx="906.5" cy="62.5" rx="4.1" ry="2.1" fill="#fff"/><ellipse cx="948.4" cy="69.2" rx="6.1" ry="5.4" fill="#fff"/><ellipse cx="987.7" cy="67.7" rx="5.8" ry="4.3" fill="#fff"/><ellipse cx="986.2" cy="78.1" rx="5.8" ry="4.7" fill="#fff"/><ellipse cx="1007.7" cy="79.5" rx="3.1" ry="5.1" fill="#fff"/><ellipse cx="940.2" cy="96.6" rx="6.5" ry="6.9" fill="#fff"/><ellipse cx="1005.5" cy="98.8" rx="4.3" ry="4.7" fill="#fff"/><ellipse cx="955.8" cy="118.9" rx="5.1" ry="5.1" fill="#fff"/><ellipse cx="977.3" cy="115.9" rx="7.3" ry="6.1" fill="#fff"/><ellipse cx="932.8" cy="136.7" rx="5.4" ry="4.3" fill="#fff"/><ellipse cx="989.2" cy="151.5" rx="6.9" ry="6.5" fill="#fff"/><ellipse cx="962.4" cy="157.4" rx="5.1" ry="6.1" fill="#fff"/><ellipse cx="937.2" cy="160.4" rx="5.8" ry="4.3" fill="#fff"/><ellipse cx="946.9" cy="172.3" rx="5.8" ry="5.4" fill="#fff"/><ellipse cx="1007" cy="165.6" rx="3.6" ry="5.4" fill="#fff"/><ellipse cx="1004" cy="176" rx="3.9" ry="3.9" fill="#fff"/><ellipse cx="974.3" cy="185" rx="5.1" ry="5.1" fill="#fff"/><ellipse cx="863.5" cy="200" rx="6.1" ry="5.8" fill="#fff"/><ellipse cx="819" cy="206.7" rx="3.6" ry="5.8" fill="#fff"/><ellipse cx="885" cy="211.2" rx="6.1" ry="5.8" fill="#fff" transform="rotate(-20 885 211.2)"/><ellipse cx="853.8" cy="223.8" rx="5.8" ry="6.5" fill="#fff"/><ellipse cx="822.7" cy="231.2" rx="5.8" ry="5.4" fill="#fff"/><ellipse cx="877.6" cy="237.9" rx="6.9" ry="6.5" fill="#fff"/><ellipse cx="914.5" cy="232.5" rx="6.1" ry="6.5" fill="#fff"/><ellipse cx="866.4" cy="252.7" rx="5.4" ry="6.9" fill="#fff"/><ellipse cx="820.5" cy="254.2" rx="4.7" ry="5.8" fill="#fff"/><ellipse cx="911" cy="268.5" rx="6.1" ry="6.9" fill="#fff"/><ellipse cx="854.6" cy="286.9" rx="5.8" ry="6.5" fill="#fff"/><ellipse cx="863.5" cy="293.5" rx="5.1" ry="5.8" fill="#fff"/><ellipse cx="885" cy="289.8" rx="6.5" ry="6.5" fill="#fff"/><ellipse cx="828.6" cy="302.4" rx="5.8" ry="5.1" fill="#fff"/><ellipse cx="915" cy="197.5" rx="6.1" ry="5.8" fill="#fff"/><ellipse cx="940.2" cy="206.7" rx="5.4" ry="5.1" fill="#fff"/><ellipse cx="959.5" cy="201.5" rx="4.7" ry="5.8" fill="#fff"/><ellipse cx="984" cy="205.3" rx="5.1" ry="5.1" fill="#fff"/><ellipse cx="1004.7" cy="208.2" rx="5.4" ry="6.1" fill="#fff"/><ellipse cx="947.6" cy="219.3" rx="6.1" ry="6.1" fill="#fff"/><ellipse cx="974.3" cy="219.3" rx="5.4" ry="5.4" fill="#fff"/><ellipse cx="989.9" cy="227.5" rx="5.4" ry="4.7" fill="#fff"/><ellipse cx="983.2" cy="240.9" rx="5.4" ry="5.1" fill="#fff"/><ellipse cx="996.6" cy="248.3" rx="5.4" ry="5.1" fill="#fff"/><ellipse cx="986.2" cy="254.2" rx="5.4" ry="5.1" fill="#fff"/><ellipse cx="1001" cy="262.4" rx="6.1" ry="6.1" fill="#fff"/><ellipse cx="948.4" cy="253.5" rx="5.4" ry="6.1" fill="#fff"/><ellipse cx="937.2" cy="256.4" rx="5.8" ry="6.1" fill="#fff"/><ellipse cx="924.6" cy="276.5" rx="5.4" ry="5.1" fill="#fff"/><ellipse cx="933.5" cy="282.4" rx="5.1" ry="5.4" fill="#fff"/><ellipse cx="958.7" cy="289.1" rx="6.1" ry="5.4" fill="#fff"/><ellipse cx="983.2" cy="285.4" rx="5.8" ry="6.1" fill="#fff"/><ellipse cx="1005.5" cy="301.7" rx="4.6" ry="5.1" fill="#fff"/><ellipse cx="974.3" cy="306" rx="5.1" ry="2.1" fill="#fff"/><ellipse cx="913.5" cy="304.7" rx="2.1" ry="2.1" fill="#fff"/></mask>
<rect x="816" y="61" width="195.5" height="247" filter="url(#nz2)" opacity="0.35" mask="url(#mk4)"/>
<rect x="816" y="61" width="195.5" height="247" fill="url(#scan)"/>
</g>
<text transform="translate(112,32.9) scale(1,1.05)" font-size="30" text-anchor="middle">0</text>

<text transform="translate(297.9,32.9) scale(1,1.05)" font-size="30" text-anchor="middle">1</text>
<rect x="290.44" y="29.93" width="6.53" height="4.57" fill="#fff"/><rect x="299.88" y="29.93" width="6.08" height="4.57" fill="#fff"/>
<text transform="translate(499.4,32.9) scale(1,1.05)" font-size="30" text-anchor="middle">2</text>

<text transform="translate(701.8,32.9) scale(1,1.05)" font-size="30" text-anchor="middle">4</text>

<text transform="translate(912.9,32.9) scale(1,1.05)" font-size="30" text-anchor="middle">8</text>

<g stroke="#000" stroke-width="2.3" stroke-linecap="round" fill="none">
<line x1="290.9" y1="367.0" x2="290.9" y2="750.6"/>
<line x1="813.8" y1="367.0" x2="813.8" y2="750.6"/>
<line x1="282.4" y1="750.6" x2="704.3" y2="750.6"/>
<line x1="713.9" y1="750.6" x2="813.8" y2="750.6"/>
<line x1="282.4" y1="367.0" x2="704.3" y2="367.0"/>
<line x1="713.9" y1="367.0" x2="813.8" y2="367.0"/>
<line x1="286.4" y1="718.63" x2="290.9" y2="718.63"/>
<line x1="813.8" y1="718.63" x2="809.3" y2="718.63"/>
<line x1="282.4" y1="686.67" x2="290.9" y2="686.67"/>
<line x1="813.8" y1="686.67" x2="805.3" y2="686.67"/>
<line x1="286.4" y1="654.70" x2="290.9" y2="654.70"/>
<line x1="813.8" y1="654.70" x2="809.3" y2="654.70"/>
<line x1="282.4" y1="622.73" x2="290.9" y2="622.73"/>
<line x1="813.8" y1="622.73" x2="805.3" y2="622.73"/>
<line x1="286.4" y1="590.77" x2="290.9" y2="590.77"/>
<line x1="813.8" y1="590.77" x2="809.3" y2="590.77"/>
<line x1="282.4" y1="558.80" x2="290.9" y2="558.80"/>
<line x1="813.8" y1="558.80" x2="805.3" y2="558.80"/>
<line x1="286.4" y1="526.83" x2="290.9" y2="526.83"/>
<line x1="813.8" y1="526.83" x2="809.3" y2="526.83"/>
<line x1="282.4" y1="494.87" x2="290.9" y2="494.87"/>
<line x1="813.8" y1="494.87" x2="805.3" y2="494.87"/>
<line x1="286.4" y1="462.90" x2="290.9" y2="462.90"/>
<line x1="813.8" y1="462.90" x2="809.3" y2="462.90"/>
<line x1="282.4" y1="430.93" x2="290.9" y2="430.93"/>
<line x1="813.8" y1="430.93" x2="805.3" y2="430.93"/>
<line x1="286.4" y1="398.97" x2="290.9" y2="398.97"/>
<line x1="813.8" y1="398.97" x2="809.3" y2="398.97"/>
<line x1="303.90" y1="750.6" x2="303.90" y2="758.6"/>
<line x1="303.90" y1="367.0" x2="303.90" y2="375.0"/>
<line x1="348.37" y1="750.6" x2="348.37" y2="755.1"/>
<line x1="348.37" y1="367.0" x2="348.37" y2="371.5"/>
<line x1="392.84" y1="750.6" x2="392.84" y2="758.6"/>
<line x1="392.84" y1="367.0" x2="392.84" y2="375.0"/>
<line x1="437.31" y1="750.6" x2="437.31" y2="755.1"/>
<line x1="437.31" y1="367.0" x2="437.31" y2="371.5"/>
<line x1="481.78" y1="750.6" x2="481.78" y2="758.6"/>
<line x1="481.78" y1="367.0" x2="481.78" y2="375.0"/>
<line x1="526.25" y1="750.6" x2="526.25" y2="755.1"/>
<line x1="526.25" y1="367.0" x2="526.25" y2="371.5"/>
<line x1="570.72" y1="750.6" x2="570.72" y2="758.6"/>
<line x1="570.72" y1="367.0" x2="570.72" y2="375.0"/>
<line x1="615.19" y1="750.6" x2="615.19" y2="755.1"/>
<line x1="615.19" y1="367.0" x2="615.19" y2="371.5"/>
<line x1="659.66" y1="750.6" x2="659.66" y2="758.6"/>
<line x1="659.66" y1="367.0" x2="659.66" y2="375.0"/>
<line x1="713.20" y1="750.6" x2="713.20" y2="755.1"/>
<line x1="713.20" y1="367.0" x2="713.20" y2="371.5"/>
<line x1="738.30" y1="750.6" x2="738.30" y2="758.6"/>
<line x1="738.30" y1="367.0" x2="738.30" y2="375.0"/>
<line x1="763.40" y1="750.6" x2="763.40" y2="755.1"/>
<line x1="763.40" y1="367.0" x2="763.40" y2="371.5"/>
<line x1="788.50" y1="750.6" x2="788.50" y2="758.6"/>
<line x1="788.50" y1="367.0" x2="788.50" y2="375.0"/>
<line x1="813.60" y1="750.6" x2="813.60" y2="755.1"/>
<line x1="813.60" y1="367.0" x2="813.60" y2="371.5"/>
</g>
<line x1="699.80" y1="758.10" x2="709.10" y2="742.80" stroke="#000" stroke-width="2.3" stroke-linecap="round"/>
<line x1="709.10" y1="758.10" x2="718.40" y2="742.80" stroke="#000" stroke-width="2.3" stroke-linecap="round"/>
<line x1="699.80" y1="374.50" x2="709.10" y2="359.20" stroke="#000" stroke-width="2.3" stroke-linecap="round"/>
<line x1="709.10" y1="374.50" x2="718.40" y2="359.20" stroke="#000" stroke-width="2.3" stroke-linecap="round"/>
<g font-size="24" text-anchor="end">
<text transform="translate(278.4,757.50) scale(1,1.02)">0</text>
<text transform="translate(278.4,693.57) scale(1,1.02)">20</text>
<text transform="translate(278.4,629.63) scale(1,1.02)">40</text>
<text transform="translate(278.4,565.70) scale(1,1.02)">60</text>
<text transform="translate(278.4,501.77) scale(1,1.02)">80</text>
<text transform="translate(278.4,437.83) scale(1,1.02)">100</text>
<text transform="translate(278.4,373.90) scale(1,1.02)">120</text>
</g>
<rect x="239.06" y="435.53" width="5.23" height="3.91" fill="#fff"/><rect x="246.62" y="435.53" width="4.86" height="3.91" fill="#fff"/>
<rect x="239.06" y="371.59" width="5.23" height="3.91" fill="#fff"/><rect x="246.62" y="371.59" width="4.86" height="3.91" fill="#fff"/>
<g font-size="24" text-anchor="middle">
<text transform="translate(303.90,783.0) scale(1,1.05)">0</text>
<text transform="translate(392.84,783.0) scale(1,1.05)">2</text>
<text transform="translate(481.78,783.0) scale(1,1.05)">4</text>
<text transform="translate(570.72,783.0) scale(1,1.05)">6</text>
<text transform="translate(659.66,783.0) scale(1,1.05)">8</text>
<text transform="translate(738.30,783.0) scale(1,1.05)">22</text>
<text transform="translate(788.50,783.0) scale(1,1.05)">24</text>
</g>
<text x="552" y="826.2" font-size="27.3" font-weight="bold" text-anchor="middle">time [h]</text>
<text transform="translate(172,594.2) rotate(-90)" font-size="28.55" font-weight="bold" text-anchor="middle">rel. F-actin concentration [%]</text>
<text transform="translate(208.2,594.4) rotate(-90)" font-size="28.6" font-weight="bold" text-anchor="middle">rounded per total cells [%]</text>
<g stroke="#3c3c3c" stroke-width="1.3"><line x1="303.90" y1="392.25" x2="303.90" y2="469.29"/><line x1="299.90" y1="469.29" x2="307.90" y2="469.29"/><line x1="299.90" y1="392.25" x2="307.90" y2="392.25"/><line x1="348.37" y1="389.06" x2="348.37" y2="459.06"/><line x1="344.37" y1="459.06" x2="352.37" y2="459.06"/><line x1="344.37" y1="389.06" x2="352.37" y2="389.06"/><line x1="392.84" y1="402.80" x2="392.84" y2="490.39"/><line x1="388.84" y1="490.39" x2="396.84" y2="490.39"/><line x1="388.84" y1="402.80" x2="396.84" y2="402.80"/><line x1="437.31" y1="399.61" x2="437.31" y2="507.01"/><line x1="433.31" y1="507.01" x2="441.31" y2="507.01"/><line x1="433.31" y1="399.61" x2="441.31" y2="399.61"/><line x1="481.78" y1="459.70" x2="481.78" y2="568.07"/><line x1="477.78" y1="568.07" x2="485.78" y2="568.07"/><line x1="477.78" y1="459.70" x2="485.78" y2="459.70"/><line x1="526.25" y1="519.80" x2="526.25" y2="590.13"/><line x1="522.25" y1="590.13" x2="530.25" y2="590.13"/><line x1="522.25" y1="519.80" x2="530.25" y2="519.80"/><line x1="570.72" y1="525.24" x2="570.72" y2="591.41"/><line x1="566.72" y1="591.41" x2="574.72" y2="591.41"/><line x1="566.72" y1="525.24" x2="574.72" y2="525.24"/><line x1="659.66" y1="523.64" x2="659.66" y2="612.50"/><line x1="655.66" y1="612.50" x2="663.66" y2="612.50"/><line x1="655.66" y1="523.64" x2="663.66" y2="523.64"/><line x1="788.50" y1="524.60" x2="788.50" y2="624.65"/><line x1="784.50" y1="624.65" x2="792.50" y2="624.65"/><line x1="784.50" y1="524.60" x2="792.50" y2="524.60"/><line x1="303.90" y1="725.03" x2="303.90" y2="744.21"/><line x1="299.90" y1="744.21" x2="307.90" y2="744.21"/><line x1="299.90" y1="725.03" x2="307.90" y2="725.03"/><line x1="348.37" y1="694.66" x2="348.37" y2="726.31"/><line x1="344.37" y1="726.31" x2="352.37" y2="726.31"/><line x1="344.37" y1="694.66" x2="352.37" y2="694.66"/><line x1="392.84" y1="667.49" x2="392.84" y2="705.85"/><line x1="388.84" y1="705.85" x2="396.84" y2="705.85"/><line x1="388.84" y1="667.49" x2="396.84" y2="667.49"/><line x1="437.31" y1="514.05" x2="437.31" y2="603.23"/><line x1="433.31" y1="603.23" x2="441.31" y2="603.23"/><line x1="433.31" y1="514.05" x2="441.31" y2="514.05"/><line x1="481.78" y1="446.92" x2="481.78" y2="478.88"/><line x1="477.78" y1="478.88" x2="485.78" y2="478.88"/><line x1="477.78" y1="446.92" x2="485.78" y2="446.92"/></g>
<g stroke="#000" stroke-width="1.6"><line x1="314.80" y1="428.81" x2="337.47" y2="425.71"/><line x1="358.22" y1="429.11" x2="382.99" y2="441.39"/><line x1="403.73" y1="447.84" x2="426.42" y2="451.11"/><line x1="443.79" y1="461.56" x2="475.30" y2="504.84"/><line x1="489.82" y1="521.24" x2="518.21" y2="547.77"/><line x1="537.23" y1="555.92" x2="559.74" y2="557.21"/><line x1="581.65" y1="559.10" x2="648.73" y2="566.81"/><line x1="670.65" y1="568.62" x2="705.00" y2="570.32"/><line x1="713.40" y1="570.74" x2="777.51" y2="573.92"/></g>
<g stroke="#000" stroke-width="2.5"><line x1="313.54" y1="729.02" x2="338.73" y2="715.73"/><line x1="357.96" y1="705.47" x2="383.25" y2="691.84"/><line x1="396.41" y1="676.37" x2="433.74" y2="568.78"/><line x1="441.90" y1="548.59" x2="477.19" y2="472.47"/><line x1="491.35" y1="457.35" x2="516.68" y2="443.51"/><line x1="537.00" y1="436.51" x2="559.97" y2="432.71"/><line x1="581.62" y1="430.93" x2="648.76" y2="430.93"/><line x1="670.56" y1="430.93" x2="705.00" y2="430.93"/><line x1="713.40" y1="430.93" x2="777.60" y2="430.93"/></g>
<rect x="297.10" y="423.69" width="13.6" height="13.2" fill="#fff" stroke="#000" stroke-width="1.7"/>
<rect x="341.57" y="417.62" width="13.6" height="13.2" fill="#fff" stroke="#000" stroke-width="1.7"/>
<rect x="386.04" y="439.68" width="13.6" height="13.2" fill="#fff" stroke="#000" stroke-width="1.7"/>
<rect x="430.51" y="446.07" width="13.6" height="13.2" fill="#fff" stroke="#000" stroke-width="1.7"/>
<rect x="474.98" y="507.13" width="13.6" height="13.2" fill="#fff" stroke="#000" stroke-width="1.7"/>
<rect x="519.45" y="548.68" width="13.6" height="13.2" fill="#fff" stroke="#000" stroke-width="1.7"/>
<rect x="563.92" y="551.24" width="13.6" height="13.2" fill="#fff" stroke="#000" stroke-width="1.7"/>
<rect x="652.86" y="561.47" width="13.6" height="13.2" fill="#fff" stroke="#000" stroke-width="1.7"/>
<rect x="781.70" y="567.86" width="13.6" height="13.2" fill="#fff" stroke="#000" stroke-width="1.7"/>
<circle cx="303.90" cy="734.11" r="8.35" fill="#000"/>
<circle cx="348.37" cy="710.64" r="8.35" fill="#000"/>
<circle cx="392.84" cy="686.67" r="8.35" fill="#000"/>
<circle cx="437.31" cy="558.48" r="8.35" fill="#000"/>
<circle cx="481.78" cy="462.58" r="8.35" fill="#000"/>
<circle cx="526.25" cy="438.29" r="8.35" fill="#000"/>
<circle cx="570.72" cy="430.93" r="8.35" fill="#000"/>
<circle cx="659.66" cy="430.93" r="8.35" fill="#000"/>
<circle cx="788.50" cy="430.93" r="8.35" fill="#000"/>
<rect x="595.1" y="665.3" width="197.2" height="56.7" fill="#fff" stroke="#555" stroke-width="1.2"/>
<line x1="601.3" y1="681.9" x2="617.6" y2="681.9" stroke="#333" stroke-width="1.4"/>
<line x1="635.8" y1="681.9" x2="652.3" y2="681.9" stroke="#333" stroke-width="1.4"/>
<rect x="620.2" y="675.2" width="13.4" height="13.4" fill="#fff" stroke="#000" stroke-width="1.6"/>
<line x1="601.5" y1="709.1" x2="652" y2="709.1" stroke="#000" stroke-width="2.6"/>
<circle cx="626.9" cy="709.1" r="8.2" fill="#000"/>
<text transform="translate(659.0,689) scale(1,1.035)" font-size="22">F-actin conc</text>
<text transform="translate(658.8,716.2) scale(1,1.035)" font-size="22">Cell rounding</text>
</svg></body></html>
